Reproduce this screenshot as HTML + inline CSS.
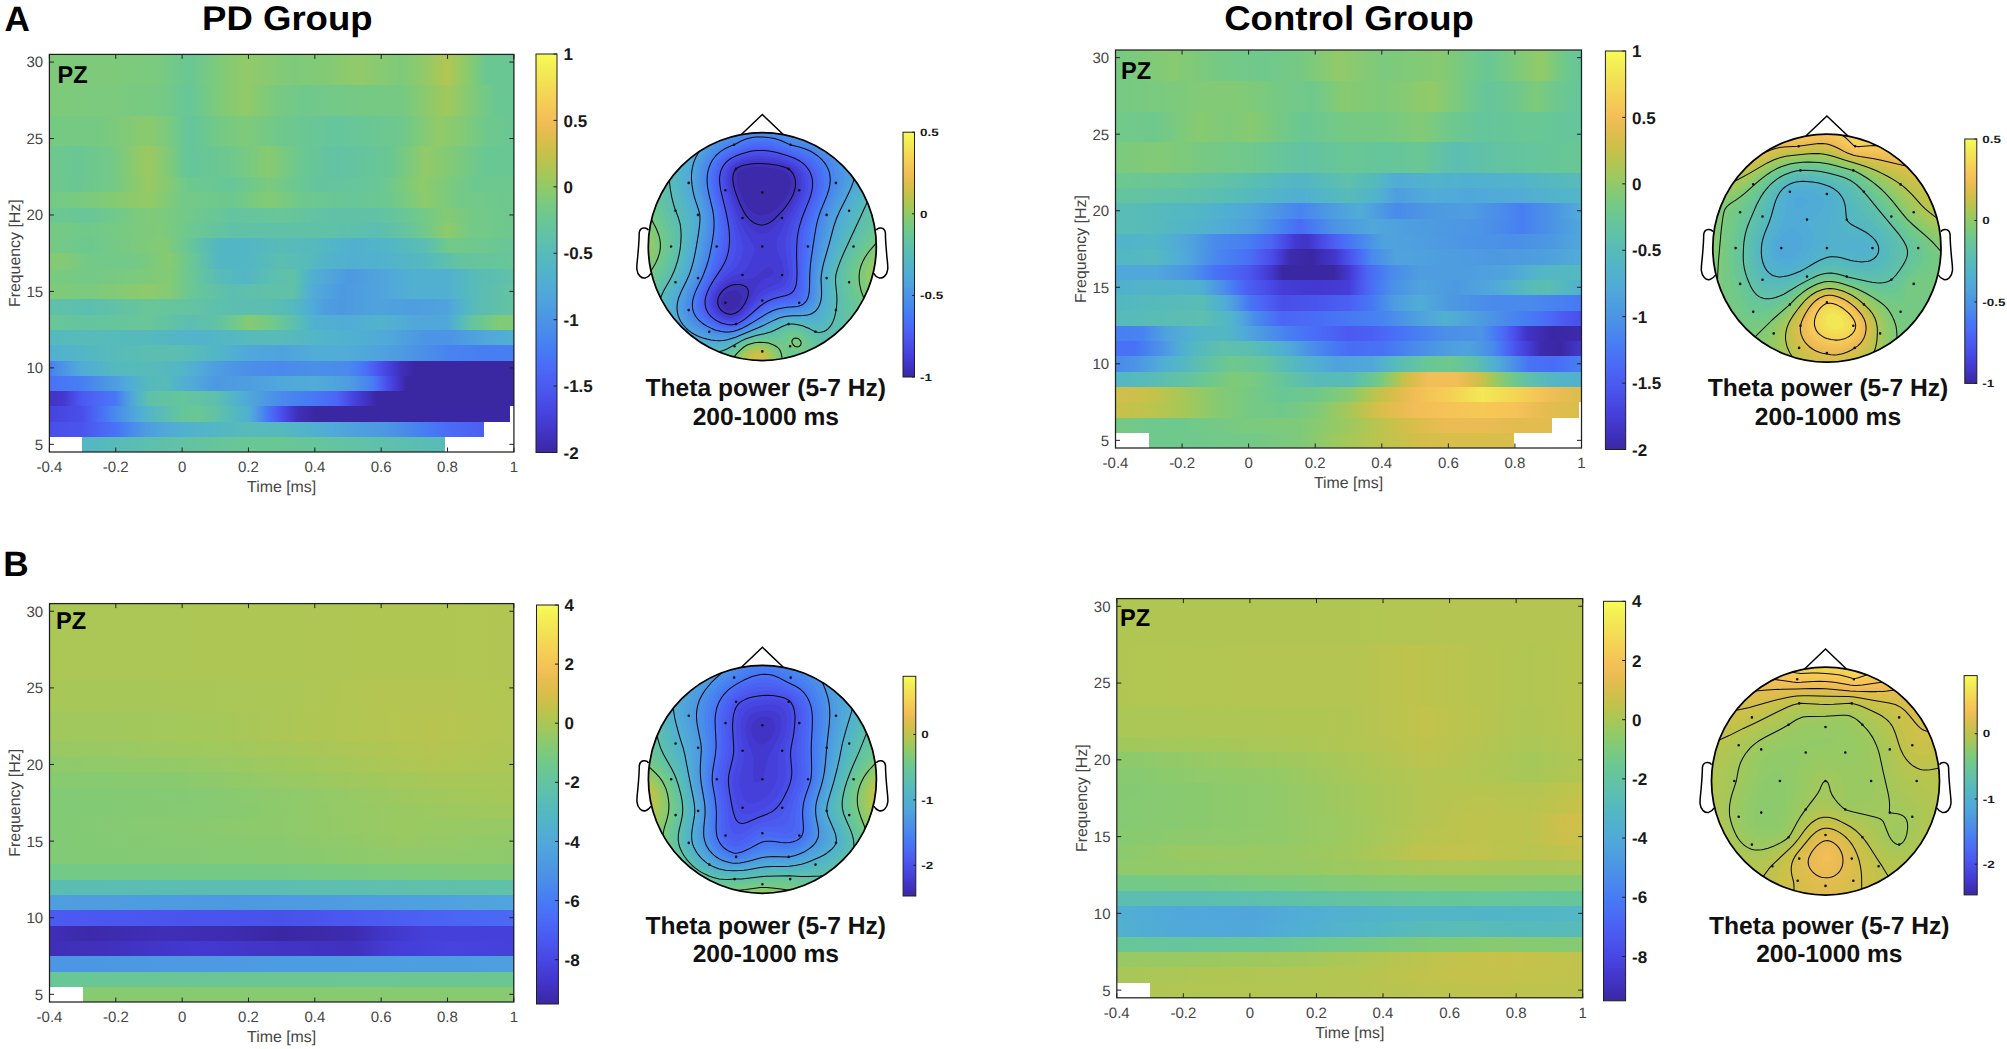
<!DOCTYPE html>
<html lang="en"><head><meta charset="utf-8"><title>Figure</title><style>
html,body{margin:0;padding:0;background:#fff;overflow:hidden}
#fig{position:relative;width:2007px;height:1049px;overflow:hidden;background:#fff;font-family:"Liberation Sans", Arial, Helvetica, sans-serif}
.r{position:absolute}
svg{position:absolute;left:0;top:0}
text{font-family:"Liberation Sans", Arial, Helvetica, sans-serif;text-rendering:geometricPrecision}
.tk{font-size:15px;fill:#454545}
.al{font-size:15.9px;fill:#454545}
.pz{font-size:24.4px;font-weight:bold;fill:#000}
.cl{font-size:17px;font-weight:bold;fill:#1a1a1a}
.cs{font-size:10.5px;font-weight:bold;fill:#1a1a1a}
.big{font-size:34.3px;font-weight:bold;fill:#000}
.pl{font-size:35.2px;font-weight:bold;fill:#000}
.th{font-size:24.6px;font-weight:bold;fill:#111}
</style></head><body><div id="fig">
<div class="r" style="left:49.40px;top:436.71px;width:464.50px;height:15.59px;background:linear-gradient(90deg,#ffffff 0.00%,#ffffff 7.16%,#53b6c5 7.17%,#58bbb8 14.32%,#5dbfae 21.46%,#62c2a4 28.59%,#69c794 42.86%,#69c794 49.87%,#65c59c 57.14%,#5fc0ab 71.41%,#58bbb8 85.16%,#ffffff 85.16%,#ffffff 100.00%)"></div>
<div class="r" style="left:49.40px;top:421.42px;width:464.50px;height:15.59px;background:linear-gradient(90deg,#494fe9 0.00%,#4a54ed 7.16%,#4b5ef2 9.55%,#4b68f5 11.94%,#4872f6 14.32%,#477ff2 16.10%,#4a8aec 17.88%,#4c94e5 19.65%,#4e9edf 21.43%,#50a5dc 23.82%,#51aad7 26.21%,#51b0d0 28.59%,#53b6c5 35.76%,#58bbb8 42.86%,#55b9be 50.03%,#52b5c8 53.58%,#51b0d0 57.14%,#51aad8 60.72%,#4fa3dd 64.30%,#4d99e1 71.41%,#4b8fe8 74.99%,#4884f0 78.57%,#467df3 80.94%,#4874f6 83.31%,#4a6cf6 85.68%,#4b60f3 92.84%,#4b60f3 93.46%,#ffffff 93.47%,#ffffff 100.00%)"></div>
<div class="r" style="left:49.40px;top:406.12px;width:464.50px;height:15.59px;background:linear-gradient(90deg,#4643de 0.00%,#494fe9 7.16%,#4b5af0 8.59%,#4b66f4 10.03%,#4872f6 11.46%,#477ff2 12.89%,#4a8aec 14.32%,#4b93e6 15.51%,#4d9be0 16.69%,#4fa3dd 17.88%,#51aad7 19.06%,#51b1cf 20.25%,#53b6c5 21.43%,#58bbb8 23.82%,#5fc0ab 26.21%,#65c59c 28.59%,#69c794 31.71%,#62c2a4 35.76%,#5cbeb0 37.53%,#56babb 39.31%,#52b5c6 41.09%,#51b0d0 42.86%,#50a9d9 43.49%,#4fa1de 44.12%,#4d99e2 44.75%,#4b90e7 45.39%,#4987ee 46.02%,#467df3 46.65%,#4872f6 47.28%,#4b69f5 47.96%,#4b60f3 48.65%,#4b57ef 49.34%,#494fe9 50.03%,#4643de 51.18%,#4338cf 52.34%,#3f30b9 53.50%,#3a27a2 57.14%,#3a27a2 99.17%,#ffffff 99.17%,#ffffff 100.00%)"></div>
<div class="r" style="left:49.40px;top:390.83px;width:464.50px;height:15.59px;background:linear-gradient(90deg,#4134c5 0.00%,#4338cf 3.17%,#4640db 4.16%,#4849e4 5.16%,#4a52eb 6.16%,#4b5af0 7.16%,#4b64f4 9.55%,#4a6ef6 11.94%,#4778f4 14.32%,#4883f0 15.06%,#4b8de9 15.79%,#4c97e3 16.53%,#4fa0de 17.26%,#50a8d9 18.00%,#51b0d0 18.73%,#53b6c5 19.63%,#58bbb8 20.53%,#5fc0ab 21.43%,#65c59c 28.59%,#5fc0ab 35.76%,#58bbb8 37.53%,#53b6c5 39.31%,#51b0d0 41.09%,#50a8da 42.86%,#4fa1de 44.65%,#4d99e1 46.45%,#4b92e6 48.24%,#4a8aec 50.03%,#4781f1 53.58%,#4778f4 57.14%,#496ff6 59.47%,#4b66f4 61.81%,#4b5df2 62.71%,#4a54ed 63.62%,#484ce7 64.53%,#4643de 65.44%,#443bd3 66.74%,#4134c5 68.03%,#3e2db4 69.33%,#3a27a2 70.63%,#3a27a2 100.00%)"></div>
<div class="r" style="left:49.40px;top:375.54px;width:464.50px;height:15.59px;background:linear-gradient(90deg,#4872f6 0.00%,#477ff2 7.16%,#4a8aec 9.55%,#4c94e5 11.94%,#4e9edf 14.32%,#50a6db 16.10%,#51aed3 17.88%,#52b4c9 19.65%,#55b9be 21.43%,#58bbb8 24.96%,#53b6c5 26.78%,#51b0d0 28.59%,#51a9d8 30.98%,#4fa1dd 33.37%,#4d99e1 35.76%,#4e9edf 42.86%,#50a8da 50.03%,#51acd6 57.14%,#50a5db 60.72%,#4e9edf 64.30%,#4c94e5 66.06%,#4a8aec 67.83%,#477ff2 69.59%,#4875f5 70.21%,#4b6bf5 70.84%,#4b61f3 71.46%,#4b58ef 72.08%,#494fe9 72.70%,#4643de 73.74%,#4338cf 74.78%,#3f30b9 75.82%,#3a27a2 76.86%,#3a27a2 100.00%)"></div>
<div class="r" style="left:49.40px;top:360.25px;width:464.50px;height:15.59px;background:linear-gradient(90deg,#477ff2 0.00%,#4a8aec 1.58%,#4c94e5 3.17%,#4e9de0 4.50%,#50a5dc 5.83%,#51acd6 7.16%,#52b3cb 10.74%,#55b9be 14.32%,#58bbb8 21.43%,#53b6c5 28.59%,#52b1ce 30.38%,#51acd6 32.17%,#50a5db 33.96%,#4e9edf 35.76%,#4c97e3 39.31%,#4b8fe8 42.86%,#4a8aec 50.03%,#4b8fe8 57.14%,#4a8aec 64.30%,#477ff2 66.17%,#4872f6 68.03%,#4b69f5 68.88%,#4b60f3 69.72%,#4b57ef 70.56%,#494fe9 71.41%,#4643de 72.88%,#4338cf 74.35%,#3f30b9 75.82%,#3a27a2 78.57%,#3a27a2 100.00%)"></div>
<div class="r" style="left:49.40px;top:344.95px;width:464.50px;height:15.59px;background:linear-gradient(90deg,#51b0d0 0.00%,#53b6c5 7.16%,#58bbb8 14.32%,#5bbeb1 21.43%,#5bbeb1 28.59%,#56babb 32.17%,#53b6c5 35.76%,#52b2cd 38.12%,#51add4 40.49%,#50a8da 42.86%,#4fa3dd 50.03%,#51acd6 57.14%,#51acd6 64.30%,#4fa3dd 71.41%,#4e9ce0 74.99%,#4c94e5 78.57%,#4a8cea 82.12%,#4884f0 85.68%,#477ff2 92.84%,#477ff2 100.00%)"></div>
<div class="r" style="left:49.40px;top:329.66px;width:464.50px;height:15.59px;background:linear-gradient(90deg,#55b9be 0.00%,#58bbb8 8.35%,#55b9be 21.33%,#52b3cb 31.71%,#54b7c2 38.19%,#58bbb8 44.68%,#58bbb8 49.87%,#53b6c5 57.14%,#51b0d0 65.44%,#50a8da 73.22%,#4e9edf 77.11%,#4c94e5 81.01%,#4c94e5 86.20%,#4e9edf 90.09%,#50a8da 93.98%,#51b0d0 100.00%)"></div>
<div class="r" style="left:49.40px;top:314.37px;width:464.50px;height:15.59px;background:linear-gradient(90deg,#68c698 0.00%,#64c49f 8.35%,#68c698 21.33%,#62c2a5 25.74%,#5bbeb1 30.15%,#61c1a7 35.76%,#68c698 38.12%,#73c987 40.49%,#84ca74 42.86%,#73c987 47.79%,#68c698 49.87%,#61c1a7 51.95%,#5bbeb2 53.24%,#55babd 54.54%,#52b5c7 55.84%,#51b0d0 57.14%,#51acd6 64.30%,#52b3cb 71.41%,#51aed3 74.99%,#50a8da 78.57%,#50a8da 85.68%,#51afd1 86.72%,#53b6c6 87.75%,#57bbba 88.79%,#5ebfad 89.83%,#64c49f 90.87%,#6ac793 92.77%,#74c986 94.67%,#80ca78 96.57%,#80ca78 100.00%)"></div>
<div class="r" style="left:49.40px;top:299.08px;width:464.50px;height:15.59px;background:linear-gradient(90deg,#61c1a7 0.00%,#5bbeb1 8.35%,#62c2a5 14.84%,#68c698 21.33%,#64c49f 29.11%,#60c1a9 34.30%,#5bbeb1 39.49%,#5bbeb1 47.28%,#55b9be 52.46%,#52b4c9 54.15%,#51aed3 55.84%,#50a6db 57.52%,#4e9edf 59.21%,#4d99e1 62.84%,#4fa3dd 70.63%,#4e9edf 78.41%,#4fa3dd 85.68%,#51abd7 87.10%,#52b1ce 88.53%,#53b7c3 89.96%,#58bbb8 91.39%,#5ebfac 95.69%,#64c49f 100.00%)"></div>
<div class="r" style="left:49.40px;top:283.78px;width:464.50px;height:15.59px;background:linear-gradient(90deg,#80ca78 0.00%,#7bca7e 8.35%,#8eca6b 21.33%,#84ca74 26.00%,#73c987 28.59%,#68c698 31.19%,#62c2a5 35.34%,#5bbeb1 39.49%,#61c1a7 47.28%,#61c1a7 52.46%,#5abdb3 53.50%,#54b8c0 54.54%,#52b3cb 55.58%,#51acd6 56.62%,#4fa3dd 59.73%,#4d99e1 62.84%,#4fa3dd 70.63%,#51aad8 74.52%,#51b0d0 78.41%,#51b0d0 85.68%,#53b6c5 88.53%,#58bbb8 91.39%,#5ebfac 95.69%,#64c49f 100.00%)"></div>
<div class="r" style="left:49.40px;top:268.49px;width:464.50px;height:15.59px;background:linear-gradient(90deg,#7bca7e 0.00%,#73c987 8.35%,#7bca7e 18.73%,#84ca74 26.00%,#73c987 28.59%,#68c698 31.19%,#63c2a3 33.09%,#5dbfae 34.99%,#58bbb8 36.90%,#53b6c5 42.09%,#56babb 44.68%,#5bbeb1 47.28%,#61c1a7 52.46%,#5bbeb2 53.50%,#55babd 54.54%,#52b5c7 55.58%,#51b0d0 56.62%,#51a9d8 59.21%,#4fa1dd 61.81%,#4d99e1 64.40%,#4fa3dd 70.63%,#51aad8 74.52%,#51b0d0 78.41%,#51b0d0 85.68%,#53b6c5 88.53%,#58bbb8 91.39%,#5cbeb0 95.69%,#61c1a7 100.00%)"></div>
<div class="r" style="left:49.40px;top:253.20px;width:464.50px;height:15.59px;background:linear-gradient(90deg,#84ca74 0.00%,#84ca74 3.17%,#73c987 8.35%,#73c987 18.73%,#7dca7c 22.37%,#87ca70 26.00%,#7aca7e 27.73%,#6fc88b 29.46%,#68c698 31.19%,#62c2a4 32.62%,#5cbeb0 34.04%,#56baba 35.47%,#53b6c5 36.90%,#53b6c5 42.09%,#56babb 45.98%,#5bbeb1 49.87%,#58bbb8 55.06%,#54b7c2 57.65%,#52b3cb 60.25%,#51b0d0 65.44%,#52b3cb 73.22%,#55b9be 81.01%,#59bdb5 83.60%,#5fc0aa 86.20%,#64c49f 88.79%,#68c698 100.00%)"></div>
<div class="r" style="left:49.40px;top:237.91px;width:464.50px;height:15.59px;background:linear-gradient(90deg,#76c983 0.00%,#6dc88f 8.35%,#7bca7e 18.73%,#84ca74 24.96%,#73c987 27.56%,#68c698 30.15%,#62c2a4 31.84%,#5cbeb0 33.52%,#56baba 35.21%,#53b6c5 36.90%,#53b6c5 42.09%,#58bbb8 49.87%,#55b9be 57.65%,#52b5c8 61.55%,#51b0d0 65.44%,#53b6c5 73.22%,#56babb 77.11%,#5bbeb1 81.01%,#62c2a5 82.74%,#68c697 84.47%,#73c987 86.20%,#68c698 100.00%)"></div>
<div class="r" style="left:49.40px;top:222.62px;width:464.50px;height:15.59px;background:linear-gradient(90deg,#76c983 0.00%,#70c98a 8.35%,#80ca78 23.92%,#76c984 27.04%,#6dc88f 30.15%,#66c59c 34.82%,#61c1a7 39.49%,#61c1a7 49.87%,#61c1a7 60.25%,#5bbeb1 70.63%,#62c2a5 74.52%,#68c698 78.41%,#71c98a 80.83%,#7eca7a 83.26%,#8eca6b 85.68%,#7fca79 88.53%,#73c987 91.39%,#6dc88f 100.00%)"></div>
<div class="r" style="left:49.40px;top:207.32px;width:464.50px;height:15.59px;background:linear-gradient(90deg,#6dc88f 0.00%,#68c698 8.35%,#72c989 14.84%,#80ca78 21.33%,#73c987 29.11%,#6ac794 34.30%,#64c49f 39.49%,#68c698 49.87%,#61c1a7 60.25%,#61c1a7 70.63%,#66c59c 74.52%,#6dc88f 78.41%,#77ca82 82.04%,#84ca74 85.68%,#73c987 91.39%,#6dc88f 100.00%)"></div>
<div class="r" style="left:49.40px;top:192.03px;width:464.50px;height:15.59px;background:linear-gradient(90deg,#73c987 0.00%,#7bca7e 8.35%,#86ca71 14.84%,#94ca66 21.33%,#82ca76 25.22%,#73c987 29.11%,#6dc88f 39.49%,#77ca82 43.38%,#84ca74 47.28%,#77ca82 51.17%,#6dc88f 55.06%,#68c698 65.44%,#6dc88f 73.22%,#7bca7e 77.11%,#8eca6b 81.01%,#7fca79 84.90%,#73c987 88.79%,#6dc88f 100.00%)"></div>
<div class="r" style="left:49.40px;top:176.74px;width:464.50px;height:15.59px;background:linear-gradient(90deg,#6fc88c 0.00%,#6ac793 5.76%,#73c987 13.54%,#84ca74 17.44%,#98c963 21.33%,#84ca74 26.00%,#77ca82 28.07%,#6dc88f 30.15%,#68c698 39.49%,#70c88b 43.38%,#7bca7e 47.28%,#6dc88f 52.46%,#64c49f 57.65%,#68c698 70.63%,#71c98a 73.74%,#7eca7a 76.86%,#8eca6b 79.97%,#7bca7e 86.20%,#6dc88f 91.39%,#6dc88f 100.00%)"></div>
<div class="r" style="left:49.40px;top:161.45px;width:464.50px;height:15.59px;background:linear-gradient(90deg,#6fc88c 0.00%,#69c794 5.76%,#73c987 13.54%,#7fca79 16.14%,#8dca6c 18.73%,#9cc95f 21.33%,#8dca6c 23.66%,#7eca7a 26.00%,#6fc88c 28.07%,#65c59c 30.15%,#6fc88c 39.49%,#7aca7f 43.38%,#87ca70 47.28%,#76c983 51.17%,#69c794 55.06%,#62c2a4 61.81%,#69c794 73.22%,#74c986 75.82%,#81ca77 78.41%,#92ca68 81.01%,#7eca7a 87.23%,#73c988 90.61%,#69c794 93.98%,#69c794 100.00%)"></div>
<div class="r" style="left:49.40px;top:146.15px;width:464.50px;height:15.59px;background:linear-gradient(90deg,#6fc88c 0.00%,#69c794 5.76%,#73c987 13.54%,#7fca79 16.14%,#8dca6c 18.73%,#9cc95f 21.33%,#8dca6c 23.66%,#7eca7a 26.00%,#6fc88c 28.07%,#65c59c 30.15%,#6fc88c 39.49%,#7aca7f 43.38%,#87ca70 47.28%,#76c983 51.17%,#69c794 55.06%,#62c2a4 61.81%,#69c794 73.22%,#74c986 75.82%,#81ca77 78.41%,#92ca68 81.01%,#7eca7a 87.23%,#73c988 90.61%,#69c794 93.98%,#69c794 100.00%)"></div>
<div class="r" style="left:49.40px;top:130.86px;width:464.50px;height:15.59px;background:linear-gradient(90deg,#76c983 0.00%,#76c983 10.95%,#8bca6d 21.33%,#79ca80 26.00%,#6dc88f 28.07%,#65c59c 30.15%,#6bc792 33.26%,#73c987 36.38%,#7eca7a 42.09%,#6fc88c 49.87%,#65c59c 61.81%,#6fc88c 75.82%,#7eca7a 79.71%,#92ca68 83.60%,#84ca74 88.79%,#79ca80 91.39%,#6fc88c 93.98%,#69c794 100.00%)"></div>
<div class="r" style="left:49.40px;top:115.57px;width:464.50px;height:15.59px;background:linear-gradient(90deg,#76c983 0.00%,#76c983 10.95%,#8bca6d 21.33%,#79ca80 26.00%,#6dc88f 28.07%,#65c59c 30.15%,#6bc792 33.26%,#73c987 36.38%,#7eca7a 42.09%,#6fc88c 49.87%,#65c59c 61.81%,#6fc88c 75.82%,#7eca7a 79.71%,#92ca68 83.60%,#84ca74 88.79%,#79ca80 91.39%,#6fc88c 93.98%,#69c794 100.00%)"></div>
<div class="r" style="left:49.40px;top:100.28px;width:464.50px;height:15.59px;background:linear-gradient(90deg,#7eca7a 0.00%,#7bca7e 13.54%,#76c983 23.92%,#6ec88e 27.04%,#68c698 30.15%,#71c989 33.26%,#7eca7a 36.38%,#92ca68 42.09%,#83ca75 45.98%,#76c983 49.87%,#6fc88c 55.06%,#76c983 66.48%,#76c983 75.82%,#8bca6d 81.01%,#a1c85c 85.68%,#92ca68 88.01%,#84ca74 90.35%,#75c985 93.46%,#69c794 96.57%,#69c794 100.00%)"></div>
<div class="r" style="left:49.40px;top:84.98px;width:464.50px;height:15.59px;background:linear-gradient(90deg,#7eca7a 0.00%,#7bca7e 13.54%,#76c983 23.92%,#6ec88e 27.04%,#68c698 30.15%,#71c989 33.26%,#7eca7a 36.38%,#92ca68 42.09%,#83ca75 45.98%,#76c983 49.87%,#6fc88c 55.06%,#76c983 66.48%,#76c983 75.82%,#8bca6d 81.01%,#a1c85c 85.68%,#92ca68 88.01%,#84ca74 90.35%,#75c985 93.46%,#69c794 96.57%,#69c794 100.00%)"></div>
<div class="r" style="left:49.40px;top:69.69px;width:464.50px;height:15.59px;background:linear-gradient(90deg,#7eca7a 0.00%,#7eca7a 13.54%,#79ca80 23.92%,#69c794 30.15%,#73c988 33.26%,#7eca7a 36.38%,#92ca68 42.09%,#7eca7a 52.46%,#84ca74 60.25%,#92ca68 66.48%,#7eca7a 75.82%,#92ca68 81.01%,#a2c85c 83.34%,#b2c652 85.68%,#9cc95f 88.01%,#87ca70 90.35%,#78ca81 92.16%,#6bc791 93.98%,#69c794 100.00%)"></div>
<div class="r" style="left:49.40px;top:54.40px;width:464.50px;height:15.59px;background:linear-gradient(90deg,#7eca7a 0.00%,#7eca7a 13.54%,#79ca80 23.92%,#69c794 30.15%,#73c988 33.26%,#7eca7a 36.38%,#92ca68 42.09%,#7eca7a 52.46%,#84ca74 60.25%,#92ca68 66.48%,#7eca7a 75.82%,#92ca68 81.01%,#a2c85c 83.34%,#b2c652 85.68%,#9cc95f 88.01%,#87ca70 90.35%,#78ca81 92.16%,#6bc791 93.98%,#69c794 100.00%)"></div>
<div class="r" style="left:1115.50px;top:432.69px;width:466.00px;height:15.61px;background:linear-gradient(90deg,#ffffff 0.00%,#ffffff 7.15%,#6fc88c 7.16%,#6fc88c 14.31%,#72c989 28.56%,#7eca7a 39.45%,#8dca6c 43.34%,#9cc95f 47.23%,#adc755 52.18%,#bdc44d 57.13%,#d1bf4a 64.28%,#dabe4b 71.44%,#dabe4b 78.59%,#dabe4b 85.33%,#ffffff 85.33%,#ffffff 100.00%)"></div>
<div class="r" style="left:1115.50px;top:417.38px;width:466.00px;height:15.61px;background:linear-gradient(90deg,#76c983 0.00%,#6fc88c 7.15%,#6fc88c 14.31%,#7bca7e 28.56%,#7eca7a 39.45%,#8dca6c 44.63%,#9cc95f 49.82%,#adc755 53.47%,#bdc44d 57.13%,#ccc04a 60.71%,#dabe4b 64.28%,#ebbc54 71.44%,#ebbc54 78.59%,#e3bc4f 85.69%,#e3bc4f 93.62%,#ffffff 93.63%,#ffffff 100.00%)"></div>
<div class="r" style="left:1115.50px;top:402.08px;width:466.00px;height:15.61px;background:linear-gradient(90deg,#c7c14a 0.00%,#bdc44d 7.15%,#a7c758 14.31%,#97c964 17.86%,#87ca70 21.41%,#76c983 28.56%,#6fc88c 35.72%,#7eca7a 42.87%,#92ca68 46.42%,#a7c758 49.97%,#b9c44f 52.36%,#cac14a 54.74%,#dabe4b 57.13%,#e7bc51 60.71%,#f1be57 64.28%,#f5c356 71.44%,#f5c955 78.59%,#f5c356 85.69%,#eebd56 89.27%,#e3bc4f 92.85%,#dabe4b 99.33%,#ffffff 99.33%,#ffffff 100.00%)"></div>
<div class="r" style="left:1115.50px;top:386.77px;width:466.00px;height:15.61px;background:linear-gradient(90deg,#d1bf4a 0.00%,#c7c14a 7.15%,#b7c54f 10.73%,#a7c758 14.31%,#97c964 17.86%,#87ca70 21.41%,#76c983 28.56%,#69c794 35.72%,#6fc88c 42.87%,#7aca7f 46.42%,#87ca70 49.97%,#9cc95f 52.36%,#b2c652 54.74%,#c7c14a 57.13%,#d7be4a 59.51%,#e5bc50 61.90%,#f1be57 64.28%,#f5c656 67.86%,#f5cf54 71.44%,#f3dc54 75.01%,#f3e855 78.59%,#f2df54 82.14%,#f4d554 85.69%,#f5c955 89.27%,#f1be57 92.85%,#e7bc51 96.42%,#dabe4b 100.00%)"></div>
<div class="r" style="left:1115.50px;top:371.46px;width:466.00px;height:15.61px;background:linear-gradient(90deg,#53b6c5 0.00%,#58bbb8 7.15%,#5dbfae 10.73%,#62c2a4 14.31%,#68c697 17.85%,#71c989 21.39%,#7eca7a 24.94%,#7bca7e 29.08%,#6ec88e 32.40%,#65c59c 35.72%,#5fc0ab 39.29%,#58bbb8 42.87%,#58bbb8 49.97%,#5fc0ab 52.00%,#65c59c 54.02%,#6fc88c 56.04%,#7eca7a 57.39%,#92ca68 58.74%,#a7c758 60.08%,#bdc44d 61.43%,#d1bf4a 62.78%,#e3bc4f 64.85%,#f1be57 66.93%,#f1be57 73.15%,#e3bc4f 75.48%,#d1bf4a 77.81%,#bdc44d 79.19%,#a7c758 80.58%,#92ca68 81.96%,#7eca7a 83.64%,#6fc88c 85.33%,#65c59c 87.01%,#5fc0ab 88.70%,#58bbb8 91.29%,#53b6c5 93.88%,#51b0d0 100.00%)"></div>
<div class="r" style="left:1115.50px;top:356.15px;width:466.00px;height:15.61px;background:linear-gradient(90deg,#4a8aec 0.00%,#4c94e5 4.20%,#4e9ce0 5.88%,#4fa3dd 7.57%,#51aad8 9.25%,#51b0d0 10.94%,#53b6c5 13.53%,#58bbb8 16.12%,#5fc0ab 18.71%,#65c59c 21.82%,#6fc88c 24.94%,#65c59c 31.67%,#5fc0ab 34.27%,#58bbb8 36.86%,#53b6c5 39.45%,#51b1cf 42.04%,#51aad7 44.63%,#4fa3dd 47.23%,#50a8da 55.00%,#51aed3 56.30%,#52b3cb 57.59%,#54b7c2 58.89%,#58bbb8 60.19%,#5ebfad 62.43%,#63c3a2 64.68%,#69c794 66.93%,#6fc88c 71.59%,#65c59c 74.44%,#5fc0ab 77.29%,#58bbb8 78.54%,#53b6c5 79.78%,#51b0d0 81.03%,#50a8da 82.27%,#4e9edf 83.51%,#4c94e5 84.81%,#4a8aec 86.11%,#477ff2 87.40%,#4872f6 88.70%,#4a6cf6 93.88%,#4875f5 96.94%,#477ff2 100.00%)"></div>
<div class="r" style="left:1115.50px;top:340.85px;width:466.00px;height:15.61px;background:linear-gradient(90deg,#4872f6 0.00%,#4872f6 4.20%,#467cf3 5.62%,#4884f0 7.05%,#4a8cea 8.48%,#4c94e5 9.90%,#4e9edf 11.46%,#50a8da 13.01%,#51b0d0 14.57%,#53b6c5 16.12%,#58bbb8 19.49%,#5fc0ab 22.86%,#5bbeb1 29.08%,#56babc 31.29%,#52b5c7 33.51%,#51b0d0 35.72%,#51a9d8 37.15%,#4fa2dd 38.58%,#4d9ae1 40.01%,#4b92e6 41.44%,#4a8aec 42.87%,#4780f1 45.24%,#4776f5 47.61%,#4a6cf6 49.97%,#4872f6 57.13%,#477ff2 60.71%,#4a8aec 64.28%,#4b91e7 66.67%,#4c98e2 69.05%,#4e9edf 71.44%,#4fa3dd 75.74%,#4d9be0 77.47%,#4b93e6 79.19%,#4a8aec 80.92%,#477ff2 81.96%,#4872f6 83.00%,#4b66f4 84.03%,#4b5af0 85.07%,#494fe9 86.11%,#4745e0 87.40%,#443bd3 88.70%,#4133c2 89.99%,#3d2bae 91.29%,#3a27a2 95.44%,#3f30b9 97.72%,#4338cf 100.00%)"></div>
<div class="r" style="left:1115.50px;top:325.54px;width:466.00px;height:15.61px;background:linear-gradient(90deg,#477ff2 0.00%,#4884f0 5.75%,#4b8fe8 7.48%,#4d99e1 9.21%,#4fa3dd 10.94%,#51aad7 13.53%,#51b1cf 16.12%,#53b6c5 18.71%,#53b6c5 23.90%,#52b1ce 25.45%,#51acd6 27.01%,#50a5db 28.56%,#4e9edf 30.12%,#4c94e5 32.37%,#4a8aec 34.61%,#477ff2 36.86%,#4875f5 39.87%,#4a6cf6 42.87%,#4b63f4 46.42%,#4b5af0 49.97%,#4b60f3 55.00%,#4a6cf6 58.89%,#4778f4 62.78%,#4884f0 66.67%,#4b8fe8 70.55%,#4c94e5 78.33%,#4a8aec 79.63%,#477ff2 80.92%,#4872f6 82.22%,#4b66f4 83.51%,#4b5bf1 84.45%,#4951eb 85.38%,#4747e2 86.31%,#443cd6 87.25%,#4134c5 88.18%,#3e2db4 91.03%,#3a27a2 93.88%,#3d2bae 100.00%)"></div>
<div class="r" style="left:1115.50px;top:310.23px;width:466.00px;height:15.61px;background:linear-gradient(90deg,#56babc 0.00%,#59bcb5 8.35%,#5dbfaf 18.71%,#58bbb8 20.79%,#54b8c1 22.86%,#52b4ca 24.94%,#51add4 25.97%,#50a5db 27.01%,#4e9de0 28.05%,#4b94e5 29.08%,#4a8aec 30.12%,#477ff2 31.99%,#4872f6 33.85%,#4b66f4 35.72%,#4a6cf6 42.87%,#4778f4 49.97%,#4884f0 57.13%,#4b8de9 59.51%,#4c96e3 61.90%,#4e9edf 64.28%,#50a5dc 66.37%,#51aad7 68.46%,#51b0d0 70.55%,#51aad8 73.15%,#4fa3dd 75.74%,#4d9be0 78.33%,#4b93e6 80.92%,#4a8aec 83.51%,#477ff2 87.40%,#4872f6 91.29%,#4b66f4 93.88%,#4b5af0 96.47%,#494fe9 100.00%)"></div>
<div class="r" style="left:1115.50px;top:294.92px;width:466.00px;height:15.61px;background:linear-gradient(90deg,#53b7c2 0.00%,#56babc 8.35%,#59bcb5 18.71%,#54b8bf 20.01%,#52b4c9 21.31%,#51afd2 22.60%,#50a8d9 23.90%,#4fa1de 24.76%,#4d98e2 25.63%,#4b90e8 26.49%,#4986ee 27.35%,#467df3 28.22%,#4872f6 29.08%,#4b69f5 30.74%,#4b60f3 32.40%,#4b57ef 34.06%,#494fe9 35.72%,#4a54ed 42.87%,#4b60f3 49.97%,#4a6cf6 52.49%,#4778f4 55.00%,#4783f0 56.30%,#4a8cea 57.59%,#4c96e4 58.89%,#4e9edf 60.19%,#50a5db 62.78%,#51acd6 65.37%,#4fa3dd 68.48%,#4d99e1 71.59%,#4b92e6 76.26%,#4a8aec 80.92%,#4a8aec 88.70%,#477ff2 96.47%,#4778f4 100.00%)"></div>
<div class="r" style="left:1115.50px;top:279.62px;width:466.00px;height:15.61px;background:linear-gradient(90deg,#51b1ce 0.00%,#52b4c8 8.35%,#51b1ce 17.68%,#51aad7 18.97%,#4fa2dd 20.27%,#4d99e1 21.57%,#4b90e7 22.86%,#4987ed 23.90%,#477ef2 24.94%,#4874f6 25.97%,#4b6af5 27.01%,#4b60f3 28.05%,#4b57ef 29.96%,#494fe9 31.88%,#4746e1 33.80%,#453dd7 35.72%,#4338cf 42.87%,#453dd7 49.97%,#4747e3 50.97%,#4a52eb 51.97%,#4b5cf1 52.97%,#4b66f4 53.97%,#4971f6 55.26%,#467cf3 56.56%,#4886ef 57.85%,#4b8fe8 59.15%,#4c96e3 61.22%,#4e9de0 63.30%,#4fa3dd 65.37%,#4d99e1 73.15%,#4fa1de 77.03%,#50a8da 80.92%,#51aed3 82.87%,#52b3cb 84.81%,#54b7c2 86.75%,#58bbb8 88.70%,#5bbeb1 92.85%,#56babc 95.23%,#52b5c7 97.62%,#51b0d0 100.00%)"></div>
<div class="r" style="left:1115.50px;top:264.31px;width:466.00px;height:15.61px;background:linear-gradient(90deg,#50a8da 0.00%,#50a8da 8.35%,#4e9edf 12.23%,#4c94e5 16.12%,#4a8cea 17.42%,#4884f0 18.71%,#467cf3 20.01%,#4872f6 21.31%,#4b66f4 24.68%,#4b5af0 28.05%,#4a52eb 29.34%,#4849e4 30.64%,#4640db 31.93%,#4338cf 33.23%,#3f30b9 34.47%,#3a27a2 35.72%,#3a27a2 46.71%,#3f30b9 48.34%,#4338cf 49.97%,#4641dc 50.77%,#484ae5 51.57%,#4a53ec 52.37%,#4b5cf1 53.17%,#4b66f4 53.97%,#4872f6 55.69%,#477ff2 57.42%,#4a8aec 59.15%,#4b91e7 61.22%,#4c98e2 63.30%,#4e9edf 65.37%,#4e9edf 75.74%,#4fa3dd 83.51%,#51aad7 86.11%,#51b1cf 88.70%,#53b6c5 91.29%,#55b9be 100.00%)"></div>
<div class="r" style="left:1115.50px;top:249.00px;width:466.00px;height:15.61px;background:linear-gradient(90deg,#53b7c4 0.00%,#55b9bd 8.35%,#52b4ca 10.94%,#51add5 13.53%,#4fa4dc 16.12%,#4d9be0 17.85%,#4b92e6 19.58%,#4988ed 21.31%,#477df3 24.68%,#4872f6 28.05%,#4b69f5 29.34%,#4b60f3 30.64%,#4b57ef 31.93%,#494fe9 33.23%,#4745e0 34.27%,#443bd3 35.30%,#4133c2 36.34%,#3d2bae 37.38%,#3a27a2 42.04%,#3f30b9 44.63%,#4338cf 47.23%,#4642dd 48.26%,#484ce7 49.30%,#4a56ee 50.34%,#4b60f3 51.37%,#4b6af5 52.28%,#4875f5 53.19%,#4780f2 54.10%,#4a8aec 55.00%,#4b93e6 56.73%,#4d9be0 58.46%,#4fa3dd 60.19%,#4e9edf 70.55%,#4d99e1 80.92%,#4e9edf 91.29%,#50a5db 95.65%,#51acd6 100.00%)"></div>
<div class="r" style="left:1115.50px;top:233.69px;width:466.00px;height:15.61px;background:linear-gradient(90deg,#52b3cb 0.00%,#53b6c5 8.35%,#51b1cf 10.94%,#51aad7 13.53%,#4fa3dd 16.12%,#4d9be0 17.85%,#4b93e6 19.58%,#4a8aec 21.31%,#477ff2 28.05%,#4872f6 30.64%,#4b66f4 33.23%,#4b5cf1 34.27%,#4a53ec 35.30%,#484ae5 36.34%,#4641dc 37.38%,#4338cf 38.41%,#4134c5 41.01%,#443cd6 42.30%,#4746e1 43.60%,#4950ea 44.89%,#4b5af0 46.19%,#4b63f4 47.49%,#4a6cf6 48.78%,#4875f5 50.08%,#477ff2 51.37%,#4988ed 52.93%,#4b92e6 54.48%,#4d9be1 56.04%,#4fa3dd 57.59%,#4e9edf 65.37%,#4c94e5 75.74%,#4b8fe8 86.11%,#4d99e1 93.88%,#4fa1de 96.94%,#50a8da 100.00%)"></div>
<div class="r" style="left:1115.50px;top:218.38px;width:466.00px;height:15.61px;background:linear-gradient(90deg,#5abdb4 0.00%,#56babb 8.35%,#53b6c4 13.53%,#52b2cd 18.71%,#51aad7 23.90%,#4fa1de 29.08%,#4c98e2 31.16%,#4b8de9 33.23%,#4783f0 35.30%,#4777f5 37.38%,#4b6bf5 39.45%,#4776f5 41.39%,#4781f1 43.34%,#4a8beb 45.28%,#4c94e5 47.23%,#4e9edf 51.11%,#50a8da 55.00%,#4e9edf 62.78%,#4d99e1 70.55%,#4c94e5 78.33%,#4a8aec 82.74%,#477ff2 87.14%,#4a8aec 90.51%,#4c94e5 93.88%,#4e9edf 96.94%,#50a8da 100.00%)"></div>
<div class="r" style="left:1115.50px;top:203.08px;width:466.00px;height:15.61px;background:linear-gradient(90deg,#5abdb4 0.00%,#56babb 8.35%,#52b5c7 18.71%,#51aed3 23.90%,#50a6db 29.08%,#4e9edf 31.67%,#4c95e4 34.27%,#4a8cea 36.86%,#4883f0 39.45%,#4a8dea 42.04%,#4c96e4 44.63%,#4e9edf 47.23%,#50a5db 49.82%,#51acd6 52.41%,#4fa4dc 54.35%,#4e9ce0 56.30%,#4b93e5 58.24%,#4a8aec 60.19%,#4b92e6 64.07%,#4d99e1 67.96%,#4e9edf 75.74%,#4c94e5 79.54%,#4a8aec 83.34%,#477ff2 87.14%,#4a8aec 90.51%,#4c94e5 93.88%,#4e9de0 95.92%,#50a5dc 97.96%,#51acd6 100.00%)"></div>
<div class="r" style="left:1115.50px;top:187.77px;width:466.00px;height:15.61px;background:linear-gradient(90deg,#64c49f 0.00%,#61c1a7 13.53%,#5abdb4 23.90%,#55b9be 29.08%,#52b4c8 34.27%,#51afd2 39.45%,#52b4ca 42.91%,#54b8c1 46.36%,#58bbb8 49.82%,#54b7c2 52.93%,#52b3cb 56.04%,#51add4 57.42%,#50a6db 58.80%,#4e9edf 60.19%,#50a5db 64.07%,#51acd6 67.96%,#50a8da 75.74%,#51acd6 86.11%,#52b3cb 93.88%,#53b6c5 100.00%)"></div>
<div class="r" style="left:1115.50px;top:172.46px;width:466.00px;height:15.61px;background:linear-gradient(90deg,#6dc88f 0.00%,#68c698 13.53%,#61c1a7 23.90%,#5bbeb1 29.08%,#56babc 34.27%,#53b5c6 39.45%,#55b9bd 42.91%,#5abdb4 46.36%,#5fc0ab 49.82%,#59bcb5 52.93%,#55b9be 56.04%,#52b3cb 58.11%,#51acd6 60.19%,#52b3cb 67.96%,#51b0d0 75.74%,#52b3cb 86.11%,#55b9be 93.88%,#58bbb8 100.00%)"></div>
<div class="r" style="left:1115.50px;top:157.15px;width:466.00px;height:15.61px;background:linear-gradient(90deg,#7bca7e 0.00%,#82ca76 9.38%,#76c983 18.71%,#6fc88c 29.08%,#67c699 34.78%,#62c2a4 40.49%,#69c794 49.82%,#65c59c 57.59%,#69c794 65.37%,#62c2a4 69.26%,#5bbeb1 73.15%,#62c2a4 80.92%,#65c59c 88.70%,#69c794 100.00%)"></div>
<div class="r" style="left:1115.50px;top:141.85px;width:466.00px;height:15.61px;background:linear-gradient(90deg,#7bca7e 0.00%,#82ca76 9.38%,#76c983 18.71%,#6fc88c 29.08%,#67c699 34.78%,#62c2a4 40.49%,#69c794 49.82%,#65c59c 57.59%,#69c794 65.37%,#62c2a4 69.26%,#5bbeb1 73.15%,#62c2a4 80.92%,#65c59c 88.70%,#69c794 100.00%)"></div>
<div class="r" style="left:1115.50px;top:126.54px;width:466.00px;height:15.61px;background:linear-gradient(90deg,#72c989 0.00%,#6fc88c 8.35%,#7aca7f 13.01%,#87ca70 17.68%,#7eca7a 23.90%,#87ca70 29.08%,#76c983 34.27%,#69c794 40.49%,#76c983 49.82%,#76c983 57.59%,#82ca76 65.37%,#78ca81 68.48%,#6fc88c 71.59%,#65c59c 78.33%,#69c794 88.70%,#65c59c 100.00%)"></div>
<div class="r" style="left:1115.50px;top:111.23px;width:466.00px;height:15.61px;background:linear-gradient(90deg,#72c989 0.00%,#6fc88c 8.35%,#7aca7f 13.01%,#87ca70 17.68%,#7eca7a 23.90%,#87ca70 29.08%,#76c983 34.27%,#69c794 40.49%,#76c983 49.82%,#76c983 57.59%,#82ca76 65.37%,#78ca81 68.48%,#6fc88c 71.59%,#65c59c 78.33%,#69c794 88.70%,#65c59c 100.00%)"></div>
<div class="r" style="left:1115.50px;top:95.92px;width:466.00px;height:15.61px;background:linear-gradient(90deg,#76c983 0.00%,#7bca7e 10.94%,#82ca76 18.71%,#82ca76 26.49%,#76c983 34.27%,#6fc88c 42.04%,#7aca7f 45.41%,#87ca70 48.78%,#7eca7a 57.59%,#92ca68 67.96%,#7bca7e 73.15%,#6ec88e 76.52%,#65c59c 79.89%,#6fc88c 86.11%,#7eca7a 90.25%,#6fc88c 93.88%,#65c59c 100.00%)"></div>
<div class="r" style="left:1115.50px;top:80.62px;width:466.00px;height:15.61px;background:linear-gradient(90deg,#76c983 0.00%,#7bca7e 10.94%,#82ca76 18.71%,#82ca76 26.49%,#76c983 34.27%,#6fc88c 42.04%,#7aca7f 45.41%,#87ca70 48.78%,#7eca7a 57.59%,#92ca68 67.96%,#7bca7e 73.15%,#6ec88e 76.52%,#65c59c 79.89%,#6fc88c 86.11%,#7eca7a 90.25%,#6fc88c 93.88%,#65c59c 100.00%)"></div>
<div class="r" style="left:1115.50px;top:65.31px;width:466.00px;height:15.61px;background:linear-gradient(90deg,#76c983 0.00%,#87ca70 12.49%,#76c983 21.31%,#6fc88c 31.67%,#76c983 39.45%,#83ca75 43.60%,#92ca68 47.74%,#7bca7e 57.59%,#87ca70 69.52%,#76c983 74.70%,#69c794 79.89%,#73c988 83.00%,#7eca7a 86.11%,#92ca68 91.29%,#7eca7a 93.88%,#6fc88c 96.47%,#65c59c 100.00%)"></div>
<div class="r" style="left:1115.50px;top:50.00px;width:466.00px;height:15.61px;background:linear-gradient(90deg,#76c983 0.00%,#87ca70 12.49%,#76c983 21.31%,#6fc88c 31.67%,#76c983 39.45%,#83ca75 43.60%,#92ca68 47.74%,#7bca7e 57.59%,#87ca70 69.52%,#76c983 74.70%,#69c794 79.89%,#73c988 83.00%,#7eca7a 86.11%,#92ca68 91.29%,#7eca7a 93.88%,#6fc88c 96.47%,#65c59c 100.00%)"></div>
<div class="r" style="left:49.50px;top:986.68px;width:464.30px;height:15.62px;background:linear-gradient(90deg,#ffffff 0.00%,#ffffff 7.16%,#87ca70 7.17%,#87ca70 100.00%)"></div>
<div class="r" style="left:49.50px;top:971.35px;width:464.30px;height:15.62px;background:linear-gradient(90deg,#69c696 0.00%,#6bc791 100.00%)"></div>
<div class="r" style="left:49.50px;top:956.03px;width:464.30px;height:15.62px;background:linear-gradient(90deg,#4c96e3 0.00%,#4d9be1 49.87%,#4e9fde 100.00%)"></div>
<div class="r" style="left:49.50px;top:940.71px;width:464.30px;height:15.62px;background:linear-gradient(90deg,#3f2fb7 0.00%,#4031be 13.54%,#4339d1 31.71%,#4134c5 49.87%,#4031be 65.44%,#443cd6 73.22%,#4643de 86.20%,#4540da 100.00%)"></div>
<div class="r" style="left:49.50px;top:925.38px;width:464.30px;height:15.62px;background:linear-gradient(90deg,#3f2fb7 0.00%,#3c2aa9 8.35%,#3f2fb7 23.92%,#3d2cb0 39.49%,#3a27a2 49.87%,#3d2cb0 65.44%,#4134c5 70.63%,#4540da 81.01%,#4540da 100.00%)"></div>
<div class="r" style="left:49.50px;top:910.06px;width:464.30px;height:15.62px;background:linear-gradient(90deg,#4b5af0 0.00%,#4a54ed 29.11%,#4951eb 49.87%,#4b58ef 65.44%,#4b62f4 81.01%,#4b69f5 100.00%)"></div>
<div class="r" style="left:49.50px;top:894.74px;width:464.30px;height:15.62px;background:linear-gradient(90deg,#4e9fde 0.00%,#4d99e1 39.49%,#4e9ce0 60.25%,#50a5dc 100.00%)"></div>
<div class="r" style="left:49.50px;top:879.42px;width:464.30px;height:15.62px;background:linear-gradient(90deg,#5bbdb2 0.00%,#5cbeb0 49.87%,#60c1a8 100.00%)"></div>
<div class="r" style="left:49.50px;top:864.09px;width:464.30px;height:15.62px;background:linear-gradient(90deg,#73c987 0.00%,#76c984 49.87%,#7fca79 100.00%)"></div>
<div class="r" style="left:49.50px;top:848.77px;width:464.30px;height:15.62px;background:linear-gradient(90deg,#82ca76 0.00%,#87ca70 49.87%,#91ca69 75.82%,#8eca6b 100.00%)"></div>
<div class="r" style="left:49.50px;top:833.45px;width:464.30px;height:15.62px;background:linear-gradient(90deg,#82ca76 0.00%,#8aca6e 49.87%,#97c964 75.82%,#91ca69 100.00%)"></div>
<div class="r" style="left:49.50px;top:818.12px;width:464.30px;height:15.62px;background:linear-gradient(90deg,#82ca76 0.00%,#8eca6b 49.87%,#9ac961 75.82%,#97c964 100.00%)"></div>
<div class="r" style="left:49.50px;top:802.80px;width:464.30px;height:15.62px;background:linear-gradient(90deg,#82ca76 0.00%,#87ca70 39.49%,#91ca69 55.06%,#9ac961 75.82%,#a1c85c 100.00%)"></div>
<div class="r" style="left:49.50px;top:787.48px;width:464.30px;height:15.62px;background:linear-gradient(90deg,#82ca76 0.00%,#85ca73 29.11%,#91ca69 55.06%,#a1c85c 82.04%,#a7c758 100.00%)"></div>
<div class="r" style="left:49.50px;top:772.15px;width:464.30px;height:15.62px;background:linear-gradient(90deg,#87ca70 0.00%,#8aca6e 29.11%,#9ac961 55.06%,#a7c758 82.04%,#a7c758 100.00%)"></div>
<div class="r" style="left:49.50px;top:756.83px;width:464.30px;height:15.62px;background:linear-gradient(90deg,#8eca6b 0.00%,#94ca66 29.11%,#a1c85c 55.06%,#b1c652 82.04%,#abc756 100.00%)"></div>
<div class="r" style="left:49.50px;top:741.51px;width:464.30px;height:15.62px;background:linear-gradient(90deg,#97c964 0.00%,#9ec95f 29.11%,#a7c758 55.06%,#b4c551 82.04%,#aec654 100.00%)"></div>
<div class="r" style="left:49.50px;top:726.18px;width:464.30px;height:15.62px;background:linear-gradient(90deg,#a1c85c 0.00%,#a1c85c 13.54%,#a4c85a 34.30%,#aec654 55.06%,#b7c54f 82.04%,#b1c652 100.00%)"></div>
<div class="r" style="left:49.50px;top:710.86px;width:464.30px;height:15.62px;background:linear-gradient(90deg,#a1c85c 0.00%,#a1c85c 13.54%,#a4c85a 34.30%,#aec654 55.06%,#b7c54f 82.04%,#b1c652 100.00%)"></div>
<div class="r" style="left:49.50px;top:695.54px;width:464.30px;height:15.62px;background:linear-gradient(90deg,#a7c758 0.00%,#a7c758 18.73%,#abc756 49.87%,#b4c551 70.63%,#b4c551 86.20%,#b1c652 100.00%)"></div>
<div class="r" style="left:49.50px;top:680.22px;width:464.30px;height:15.62px;background:linear-gradient(90deg,#a7c758 0.00%,#a7c758 18.73%,#abc756 49.87%,#b4c551 70.63%,#b4c551 86.20%,#b1c652 100.00%)"></div>
<div class="r" style="left:49.50px;top:664.89px;width:464.30px;height:15.62px;background:linear-gradient(90deg,#abc756 0.00%,#aec654 49.87%,#b1c652 100.00%)"></div>
<div class="r" style="left:49.50px;top:649.57px;width:464.30px;height:15.62px;background:linear-gradient(90deg,#abc756 0.00%,#aec654 49.87%,#b1c652 100.00%)"></div>
<div class="r" style="left:49.50px;top:634.25px;width:464.30px;height:15.62px;background:linear-gradient(90deg,#abc756 0.00%,#aec654 49.87%,#b1c652 100.00%)"></div>
<div class="r" style="left:49.50px;top:618.92px;width:464.30px;height:15.62px;background:linear-gradient(90deg,#abc756 0.00%,#aec654 49.87%,#b1c652 100.00%)"></div>
<div class="r" style="left:49.50px;top:603.60px;width:464.30px;height:15.62px;background:linear-gradient(90deg,#abc756 0.00%,#aec654 49.87%,#b1c652 100.00%)"></div>
<div class="r" style="left:1116.80px;top:982.45px;width:465.90px;height:15.65px;background:linear-gradient(90deg,#ffffff 0.00%,#ffffff 7.15%,#b1c652 7.16%,#b4c551 49.82%,#bec34d 75.74%,#bbc44e 100.00%)"></div>
<div class="r" style="left:1116.80px;top:967.09px;width:465.90px;height:15.65px;background:linear-gradient(90deg,#a7c758 0.00%,#aec654 18.71%,#b4c551 49.82%,#c4c24b 73.15%,#c4c24b 83.51%,#bec34d 100.00%)"></div>
<div class="r" style="left:1116.80px;top:951.74px;width:465.90px;height:15.65px;background:linear-gradient(90deg,#97c964 0.00%,#9ac961 18.71%,#a1c85c 39.45%,#b1c652 55.00%,#c1c34c 70.55%,#c7c14a 83.51%,#bec34d 100.00%)"></div>
<div class="r" style="left:1116.80px;top:936.38px;width:465.90px;height:15.65px;background:linear-gradient(90deg,#67c699 0.00%,#66c59b 13.53%,#6ac794 34.27%,#73c987 49.82%,#7fca79 65.37%,#87ca70 80.92%,#85ca73 100.00%)"></div>
<div class="r" style="left:1116.80px;top:921.03px;width:465.90px;height:15.65px;background:linear-gradient(90deg,#51b1ce 0.00%,#50a9d9 13.53%,#50a8da 29.08%,#51afd2 39.45%,#53b7c4 55.00%,#58bbb8 65.37%,#59bcb6 75.74%,#56babc 86.11%,#58bbb8 100.00%)"></div>
<div class="r" style="left:1116.80px;top:905.68px;width:465.90px;height:15.65px;background:linear-gradient(90deg,#51afd2 0.00%,#50a8da 13.53%,#50a6db 29.08%,#51add5 39.45%,#52b3cb 55.00%,#53b6c5 65.37%,#52b5c7 80.92%,#53b7c4 100.00%)"></div>
<div class="r" style="left:1116.80px;top:890.32px;width:465.90px;height:15.65px;background:linear-gradient(90deg,#5cbeb0 0.00%,#5cbeb0 18.71%,#60c1a8 39.45%,#65c49d 55.00%,#67c699 70.55%,#66c59b 100.00%)"></div>
<div class="r" style="left:1116.80px;top:874.97px;width:465.90px;height:15.65px;background:linear-gradient(90deg,#73c987 0.00%,#76c984 18.71%,#7dca7c 39.45%,#85ca73 55.00%,#8aca6e 75.74%,#87ca70 100.00%)"></div>
<div class="r" style="left:1116.80px;top:859.62px;width:465.90px;height:15.65px;background:linear-gradient(90deg,#91ca69 0.00%,#94ca66 18.71%,#97c964 39.45%,#a1c85c 55.00%,#abc756 70.55%,#a7c758 86.11%,#abc756 100.00%)"></div>
<div class="r" style="left:1116.80px;top:844.26px;width:465.90px;height:15.65px;background:linear-gradient(90deg,#8aca6e 0.00%,#9ac961 16.12%,#97c964 34.27%,#a1c85c 49.82%,#afc653 57.59%,#bec34d 65.37%,#c1c34c 75.74%,#b7c54f 88.70%,#c1c34c 100.00%)"></div>
<div class="r" style="left:1116.80px;top:828.91px;width:465.90px;height:15.65px;background:linear-gradient(90deg,#87ca70 0.00%,#8eca6b 18.71%,#91ca69 34.27%,#9ec95f 49.82%,#b7c54f 65.37%,#bec34d 75.74%,#bbc44e 88.70%,#cdc04a 96.47%,#cac14a 100.00%)"></div>
<div class="r" style="left:1116.80px;top:813.55px;width:465.90px;height:15.65px;background:linear-gradient(90deg,#85ca73 0.00%,#8aca6e 18.71%,#91ca69 34.27%,#9ec95f 49.82%,#b4c551 65.37%,#bec34d 75.74%,#bbc44e 88.70%,#d0bf4a 96.47%,#cdc04a 100.00%)"></div>
<div class="r" style="left:1116.80px;top:798.20px;width:465.90px;height:15.65px;background:linear-gradient(90deg,#85ca73 0.00%,#8aca6e 18.71%,#91ca69 34.27%,#a1c85c 49.82%,#b4c551 66.41%,#bbc44e 78.33%,#b7c54f 88.70%,#c7c14a 100.00%)"></div>
<div class="r" style="left:1116.80px;top:782.85px;width:465.90px;height:15.65px;background:linear-gradient(90deg,#85ca73 0.00%,#85ca73 3.16%,#8aca6e 18.71%,#91ca69 34.27%,#a1c85c 49.82%,#b4c551 66.41%,#b7c54f 78.33%,#b4c551 88.70%,#c1c34c 100.00%)"></div>
<div class="r" style="left:1116.80px;top:767.49px;width:465.90px;height:15.65px;background:linear-gradient(90deg,#87ca70 0.00%,#87ca70 3.16%,#91ca69 18.71%,#94ca66 34.27%,#a7c758 49.82%,#b4c551 66.41%,#b1c652 78.33%,#a7c758 88.70%,#b4c551 100.00%)"></div>
<div class="r" style="left:1116.80px;top:752.14px;width:465.90px;height:15.65px;background:linear-gradient(90deg,#8eca6b 0.00%,#8eca6b 5.75%,#97c964 18.71%,#a1c85c 39.45%,#aec654 55.00%,#bbc44e 66.41%,#b1c652 78.33%,#a4c85a 88.70%,#b1c652 100.00%)"></div>
<div class="r" style="left:1116.80px;top:736.78px;width:465.90px;height:15.65px;background:linear-gradient(90deg,#a1c85c 0.00%,#a4c85a 18.71%,#abc756 39.45%,#b4c551 55.00%,#bec34d 66.41%,#b4c551 78.33%,#abc756 88.70%,#b4c551 100.00%)"></div>
<div class="r" style="left:1116.80px;top:721.43px;width:465.90px;height:15.65px;background:linear-gradient(90deg,#abc756 0.00%,#aec654 29.08%,#b1c652 49.82%,#c1c34c 66.41%,#b7c54f 78.33%,#aec654 88.70%,#b7c54f 100.00%)"></div>
<div class="r" style="left:1116.80px;top:706.08px;width:465.90px;height:15.65px;background:linear-gradient(90deg,#abc756 0.00%,#aec654 29.08%,#b1c652 49.82%,#c1c34c 66.41%,#b7c54f 78.33%,#aec654 88.70%,#b7c54f 100.00%)"></div>
<div class="r" style="left:1116.80px;top:690.72px;width:465.90px;height:15.65px;background:linear-gradient(90deg,#b1c652 0.00%,#b4c551 29.08%,#b4c551 49.82%,#bec34d 62.78%,#b7c54f 75.74%,#b1c652 88.70%,#b7c54f 100.00%)"></div>
<div class="r" style="left:1116.80px;top:675.37px;width:465.90px;height:15.65px;background:linear-gradient(90deg,#b1c652 0.00%,#b4c551 29.08%,#b4c551 49.82%,#bec34d 62.78%,#b7c54f 75.74%,#b1c652 88.70%,#b7c54f 100.00%)"></div>
<div class="r" style="left:1116.80px;top:660.02px;width:465.90px;height:15.65px;background:linear-gradient(90deg,#b1c652 0.00%,#b4c551 29.08%,#b4c551 49.82%,#bec34d 62.78%,#b7c54f 75.74%,#b1c652 88.70%,#b7c54f 100.00%)"></div>
<div class="r" style="left:1116.80px;top:644.66px;width:465.90px;height:15.65px;background:linear-gradient(90deg,#b1c652 0.00%,#b4c551 29.08%,#b4c551 49.82%,#bec34d 62.78%,#b7c54f 75.74%,#b1c652 88.70%,#b7c54f 100.00%)"></div>
<div class="r" style="left:1116.80px;top:629.31px;width:465.90px;height:15.65px;background:linear-gradient(90deg,#b1c652 0.00%,#b1c652 49.82%,#b4c551 70.55%,#b4c551 100.00%)"></div>
<div class="r" style="left:1116.80px;top:613.95px;width:465.90px;height:15.65px;background:linear-gradient(90deg,#b1c652 0.00%,#b1c652 49.82%,#b4c551 70.55%,#b4c551 100.00%)"></div>
<div class="r" style="left:1116.80px;top:598.60px;width:465.90px;height:15.65px;background:linear-gradient(90deg,#b1c652 0.00%,#b1c652 49.82%,#b4c551 70.55%,#b4c551 100.00%)"></div>
<svg width="2007" height="1049" viewBox="0 0 2007 1049">
<rect x="49.40" y="54.40" width="464.50" height="397.60" fill="none" stroke="#202020" stroke-width="1.25"/>
<text x="49.40" y="471.80" text-anchor="middle" class="tk">-0.4</text>
<text x="115.76" y="471.80" text-anchor="middle" class="tk">-0.2</text>
<text x="182.11" y="471.80" text-anchor="middle" class="tk">0</text>
<text x="248.47" y="471.80" text-anchor="middle" class="tk">0.2</text>
<text x="314.83" y="471.80" text-anchor="middle" class="tk">0.4</text>
<text x="381.19" y="471.80" text-anchor="middle" class="tk">0.6</text>
<text x="447.54" y="471.80" text-anchor="middle" class="tk">0.8</text>
<text x="513.90" y="471.80" text-anchor="middle" class="tk">1</text>
<text x="43.10" y="449.75" text-anchor="end" class="tk">5</text>
<text x="43.10" y="373.29" text-anchor="end" class="tk">10</text>
<text x="43.10" y="296.83" text-anchor="end" class="tk">15</text>
<text x="43.10" y="220.37" text-anchor="end" class="tk">20</text>
<text x="43.10" y="143.91" text-anchor="end" class="tk">25</text>
<text x="43.10" y="67.45" text-anchor="end" class="tk">30</text>
<path d="M49.40 452.00v-4.5M49.40 54.40v4.5M115.76 452.00v-4.5M115.76 54.40v4.5M182.11 452.00v-4.5M182.11 54.40v4.5M248.47 452.00v-4.5M248.47 54.40v4.5M314.83 452.00v-4.5M314.83 54.40v4.5M381.19 452.00v-4.5M381.19 54.40v4.5M447.54 452.00v-4.5M447.54 54.40v4.5M513.90 452.00v-4.5M513.90 54.40v4.5M49.40 444.35h4.5M513.90 444.35h-4.5M49.40 367.89h4.5M513.90 367.89h-4.5M49.40 291.43h4.5M513.90 291.43h-4.5M49.40 214.97h4.5M513.90 214.97h-4.5M49.40 138.51h4.5M513.90 138.51h-4.5M49.40 62.05h4.5M513.90 62.05h-4.5" stroke="#202020" stroke-width="1" fill="none"/>
<text x="281.65" y="491.70" text-anchor="middle" class="al">Time [ms]</text>
<text transform="translate(19.70 253.20) rotate(-90) scale(1.000 1)" text-anchor="middle" class="al">Frequency [Hz]</text>
<text transform="translate(57.50 83.40) scale(0.965 1)" class="pz">PZ</text>
<rect x="1115.50" y="50.00" width="466.00" height="398.00" fill="none" stroke="#202020" stroke-width="1.25"/>
<text x="1115.50" y="467.80" text-anchor="middle" class="tk">-0.4</text>
<text x="1182.07" y="467.80" text-anchor="middle" class="tk">-0.2</text>
<text x="1248.64" y="467.80" text-anchor="middle" class="tk">0</text>
<text x="1315.21" y="467.80" text-anchor="middle" class="tk">0.2</text>
<text x="1381.79" y="467.80" text-anchor="middle" class="tk">0.4</text>
<text x="1448.36" y="467.80" text-anchor="middle" class="tk">0.6</text>
<text x="1514.93" y="467.80" text-anchor="middle" class="tk">0.8</text>
<text x="1581.50" y="467.80" text-anchor="middle" class="tk">1</text>
<text x="1109.20" y="445.75" text-anchor="end" class="tk">5</text>
<text x="1109.20" y="369.21" text-anchor="end" class="tk">10</text>
<text x="1109.20" y="292.67" text-anchor="end" class="tk">15</text>
<text x="1109.20" y="216.13" text-anchor="end" class="tk">20</text>
<text x="1109.20" y="139.59" text-anchor="end" class="tk">25</text>
<text x="1109.20" y="63.05" text-anchor="end" class="tk">30</text>
<path d="M1115.50 448.00v-4.5M1115.50 50.00v4.5M1182.07 448.00v-4.5M1182.07 50.00v4.5M1248.64 448.00v-4.5M1248.64 50.00v4.5M1315.21 448.00v-4.5M1315.21 50.00v4.5M1381.79 448.00v-4.5M1381.79 50.00v4.5M1448.36 448.00v-4.5M1448.36 50.00v4.5M1514.93 448.00v-4.5M1514.93 50.00v4.5M1581.50 448.00v-4.5M1581.50 50.00v4.5M1115.50 440.35h4.5M1581.50 440.35h-4.5M1115.50 363.81h4.5M1581.50 363.81h-4.5M1115.50 287.27h4.5M1581.50 287.27h-4.5M1115.50 210.73h4.5M1581.50 210.73h-4.5M1115.50 134.19h4.5M1581.50 134.19h-4.5M1115.50 57.65h4.5M1581.50 57.65h-4.5" stroke="#202020" stroke-width="1" fill="none"/>
<text x="1348.50" y="487.70" text-anchor="middle" class="al">Time [ms]</text>
<text transform="translate(1085.80 249.00) rotate(-90) scale(1.000 1)" text-anchor="middle" class="al">Frequency [Hz]</text>
<text transform="translate(1121.10 79.30) scale(0.965 1)" class="pz">PZ</text>
<rect x="49.50" y="603.60" width="464.30" height="398.40" fill="none" stroke="#202020" stroke-width="1.25"/>
<text x="49.50" y="1021.80" text-anchor="middle" class="tk">-0.4</text>
<text x="115.83" y="1021.80" text-anchor="middle" class="tk">-0.2</text>
<text x="182.16" y="1021.80" text-anchor="middle" class="tk">0</text>
<text x="248.49" y="1021.80" text-anchor="middle" class="tk">0.2</text>
<text x="314.81" y="1021.80" text-anchor="middle" class="tk">0.4</text>
<text x="381.14" y="1021.80" text-anchor="middle" class="tk">0.6</text>
<text x="447.47" y="1021.80" text-anchor="middle" class="tk">0.8</text>
<text x="513.80" y="1021.80" text-anchor="middle" class="tk">1</text>
<text x="43.20" y="999.74" text-anchor="end" class="tk">5</text>
<text x="43.20" y="923.12" text-anchor="end" class="tk">10</text>
<text x="43.20" y="846.51" text-anchor="end" class="tk">15</text>
<text x="43.20" y="769.89" text-anchor="end" class="tk">20</text>
<text x="43.20" y="693.28" text-anchor="end" class="tk">25</text>
<text x="43.20" y="616.66" text-anchor="end" class="tk">30</text>
<path d="M49.50 1002.00v-4.5M49.50 603.60v4.5M115.83 1002.00v-4.5M115.83 603.60v4.5M182.16 1002.00v-4.5M182.16 603.60v4.5M248.49 1002.00v-4.5M248.49 603.60v4.5M314.81 1002.00v-4.5M314.81 603.60v4.5M381.14 1002.00v-4.5M381.14 603.60v4.5M447.47 1002.00v-4.5M447.47 603.60v4.5M513.80 1002.00v-4.5M513.80 603.60v4.5M49.50 994.34h4.5M513.80 994.34h-4.5M49.50 917.72h4.5M513.80 917.72h-4.5M49.50 841.11h4.5M513.80 841.11h-4.5M49.50 764.49h4.5M513.80 764.49h-4.5M49.50 687.88h4.5M513.80 687.88h-4.5M49.50 611.26h4.5M513.80 611.26h-4.5" stroke="#202020" stroke-width="1" fill="none"/>
<text x="281.65" y="1041.70" text-anchor="middle" class="al">Time [ms]</text>
<text transform="translate(19.80 802.80) rotate(-90) scale(1.000 1)" text-anchor="middle" class="al">Frequency [Hz]</text>
<text transform="translate(56.00 628.90) scale(0.965 1)" class="pz">PZ</text>
<rect x="1116.80" y="598.60" width="465.90" height="399.20" fill="none" stroke="#202020" stroke-width="1.25"/>
<text x="1116.80" y="1017.60" text-anchor="middle" class="tk">-0.4</text>
<text x="1183.36" y="1017.60" text-anchor="middle" class="tk">-0.2</text>
<text x="1249.91" y="1017.60" text-anchor="middle" class="tk">0</text>
<text x="1316.47" y="1017.60" text-anchor="middle" class="tk">0.2</text>
<text x="1383.03" y="1017.60" text-anchor="middle" class="tk">0.4</text>
<text x="1449.59" y="1017.60" text-anchor="middle" class="tk">0.6</text>
<text x="1516.14" y="1017.60" text-anchor="middle" class="tk">0.8</text>
<text x="1582.70" y="1017.60" text-anchor="middle" class="tk">1</text>
<text x="1110.50" y="995.52" text-anchor="end" class="tk">5</text>
<text x="1110.50" y="918.75" text-anchor="end" class="tk">10</text>
<text x="1110.50" y="841.98" text-anchor="end" class="tk">15</text>
<text x="1110.50" y="765.22" text-anchor="end" class="tk">20</text>
<text x="1110.50" y="688.45" text-anchor="end" class="tk">25</text>
<text x="1110.50" y="611.68" text-anchor="end" class="tk">30</text>
<path d="M1116.80 997.80v-4.5M1116.80 598.60v4.5M1183.36 997.80v-4.5M1183.36 598.60v4.5M1249.91 997.80v-4.5M1249.91 598.60v4.5M1316.47 997.80v-4.5M1316.47 598.60v4.5M1383.03 997.80v-4.5M1383.03 598.60v4.5M1449.59 997.80v-4.5M1449.59 598.60v4.5M1516.14 997.80v-4.5M1516.14 598.60v4.5M1582.70 997.80v-4.5M1582.70 598.60v4.5M1116.80 990.12h4.5M1582.70 990.12h-4.5M1116.80 913.35h4.5M1582.70 913.35h-4.5M1116.80 836.58h4.5M1582.70 836.58h-4.5M1116.80 759.82h4.5M1582.70 759.82h-4.5M1116.80 683.05h4.5M1582.70 683.05h-4.5M1116.80 606.28h4.5M1582.70 606.28h-4.5" stroke="#202020" stroke-width="1" fill="none"/>
<text x="1349.75" y="1037.50" text-anchor="middle" class="al">Time [ms]</text>
<text transform="translate(1087.10 798.20) rotate(-90) scale(1.000 1)" text-anchor="middle" class="al">Frequency [Hz]</text>
<text transform="translate(1120.00 625.70) scale(0.965 1)" class="pz">PZ</text>
<linearGradient id="cb1" x1="0" y1="0" x2="0" y2="1"><stop offset="0.0000" stop-color="#f9fb56"/><stop offset="0.0312" stop-color="#f4ef55"/><stop offset="0.0625" stop-color="#f2e455"/><stop offset="0.0938" stop-color="#f4d854"/><stop offset="0.1250" stop-color="#f5cc55"/><stop offset="0.1562" stop-color="#f4c157"/><stop offset="0.1875" stop-color="#e9bc52"/><stop offset="0.2188" stop-color="#d9be4b"/><stop offset="0.2500" stop-color="#c7c14a"/><stop offset="0.2812" stop-color="#b3c551"/><stop offset="0.3125" stop-color="#9fc95d"/><stop offset="0.3438" stop-color="#8bca6d"/><stop offset="0.3750" stop-color="#7aca7f"/><stop offset="0.4062" stop-color="#6dc88f"/><stop offset="0.4375" stop-color="#65c49e"/><stop offset="0.4688" stop-color="#5fc0ac"/><stop offset="0.5000" stop-color="#58bbb8"/><stop offset="0.5312" stop-color="#53b6c4"/><stop offset="0.5625" stop-color="#51b0cf"/><stop offset="0.5938" stop-color="#51a9d8"/><stop offset="0.6250" stop-color="#4fa1de"/><stop offset="0.6562" stop-color="#4c97e2"/><stop offset="0.6875" stop-color="#4b8ee9"/><stop offset="0.7188" stop-color="#4884f0"/><stop offset="0.7500" stop-color="#4778f4"/><stop offset="0.7812" stop-color="#4a6df6"/><stop offset="0.8125" stop-color="#4b61f3"/><stop offset="0.8438" stop-color="#4a57ee"/><stop offset="0.8750" stop-color="#484ce7"/><stop offset="0.9062" stop-color="#4641dc"/><stop offset="0.9375" stop-color="#4337cd"/><stop offset="0.9688" stop-color="#3f2fb8"/><stop offset="1.0000" stop-color="#3a27a2"/></linearGradient>
<rect x="536.00" y="54.00" width="21.00" height="398.50" fill="url(#cb1)" stroke="#202020" stroke-width="1"/>
<text x="563.50" y="60.10" class="cl">1</text>
<text x="563.50" y="126.52" class="cl">0.5</text>
<text x="563.50" y="192.93" class="cl">0</text>
<text x="563.50" y="259.35" class="cl">-0.5</text>
<text x="563.50" y="325.77" class="cl">-1</text>
<text x="563.50" y="392.18" class="cl">-1.5</text>
<text x="563.50" y="458.60" class="cl">-2</text>
<path d="M557.00 54.00h-3.5M557.00 120.42h-3.5M557.00 186.83h-3.5M557.00 253.25h-3.5M557.00 319.67h-3.5M557.00 386.08h-3.5M557.00 452.50h-3.5" stroke="#202020" stroke-width="1" fill="none"/>
<linearGradient id="cb2" x1="0" y1="0" x2="0" y2="1"><stop offset="0.0000" stop-color="#f9fb56"/><stop offset="0.0312" stop-color="#f4ef55"/><stop offset="0.0625" stop-color="#f2e455"/><stop offset="0.0938" stop-color="#f4d854"/><stop offset="0.1250" stop-color="#f5cc55"/><stop offset="0.1562" stop-color="#f4c157"/><stop offset="0.1875" stop-color="#e9bc52"/><stop offset="0.2188" stop-color="#d9be4b"/><stop offset="0.2500" stop-color="#c7c14a"/><stop offset="0.2812" stop-color="#b3c551"/><stop offset="0.3125" stop-color="#9fc95d"/><stop offset="0.3438" stop-color="#8bca6d"/><stop offset="0.3750" stop-color="#7aca7f"/><stop offset="0.4062" stop-color="#6dc88f"/><stop offset="0.4375" stop-color="#65c49e"/><stop offset="0.4688" stop-color="#5fc0ac"/><stop offset="0.5000" stop-color="#58bbb8"/><stop offset="0.5312" stop-color="#53b6c4"/><stop offset="0.5625" stop-color="#51b0cf"/><stop offset="0.5938" stop-color="#51a9d8"/><stop offset="0.6250" stop-color="#4fa1de"/><stop offset="0.6562" stop-color="#4c97e2"/><stop offset="0.6875" stop-color="#4b8ee9"/><stop offset="0.7188" stop-color="#4884f0"/><stop offset="0.7500" stop-color="#4778f4"/><stop offset="0.7812" stop-color="#4a6df6"/><stop offset="0.8125" stop-color="#4b61f3"/><stop offset="0.8438" stop-color="#4a57ee"/><stop offset="0.8750" stop-color="#484ce7"/><stop offset="0.9062" stop-color="#4641dc"/><stop offset="0.9375" stop-color="#4337cd"/><stop offset="0.9688" stop-color="#3f2fb8"/><stop offset="1.0000" stop-color="#3a27a2"/></linearGradient>
<rect x="1605.40" y="51.00" width="20.30" height="398.50" fill="url(#cb2)" stroke="#202020" stroke-width="1"/>
<text x="1632.00" y="57.10" class="cl">1</text>
<text x="1632.00" y="123.52" class="cl">0.5</text>
<text x="1632.00" y="189.93" class="cl">0</text>
<text x="1632.00" y="256.35" class="cl">-0.5</text>
<text x="1632.00" y="322.77" class="cl">-1</text>
<text x="1632.00" y="389.18" class="cl">-1.5</text>
<text x="1632.00" y="455.60" class="cl">-2</text>
<path d="M1625.70 51.00h-3.5M1625.70 117.42h-3.5M1625.70 183.83h-3.5M1625.70 250.25h-3.5M1625.70 316.67h-3.5M1625.70 383.08h-3.5M1625.70 449.50h-3.5" stroke="#202020" stroke-width="1" fill="none"/>
<linearGradient id="cb3" x1="0" y1="0" x2="0" y2="1"><stop offset="0.0000" stop-color="#f9fb56"/><stop offset="0.0312" stop-color="#f4ef55"/><stop offset="0.0625" stop-color="#f2e455"/><stop offset="0.0938" stop-color="#f4d854"/><stop offset="0.1250" stop-color="#f5cc55"/><stop offset="0.1562" stop-color="#f4c157"/><stop offset="0.1875" stop-color="#e9bc52"/><stop offset="0.2188" stop-color="#d9be4b"/><stop offset="0.2500" stop-color="#c7c14a"/><stop offset="0.2812" stop-color="#b3c551"/><stop offset="0.3125" stop-color="#9fc95d"/><stop offset="0.3438" stop-color="#8bca6d"/><stop offset="0.3750" stop-color="#7aca7f"/><stop offset="0.4062" stop-color="#6dc88f"/><stop offset="0.4375" stop-color="#65c49e"/><stop offset="0.4688" stop-color="#5fc0ac"/><stop offset="0.5000" stop-color="#58bbb8"/><stop offset="0.5312" stop-color="#53b6c4"/><stop offset="0.5625" stop-color="#51b0cf"/><stop offset="0.5938" stop-color="#51a9d8"/><stop offset="0.6250" stop-color="#4fa1de"/><stop offset="0.6562" stop-color="#4c97e2"/><stop offset="0.6875" stop-color="#4b8ee9"/><stop offset="0.7188" stop-color="#4884f0"/><stop offset="0.7500" stop-color="#4778f4"/><stop offset="0.7812" stop-color="#4a6df6"/><stop offset="0.8125" stop-color="#4b61f3"/><stop offset="0.8438" stop-color="#4a57ee"/><stop offset="0.8750" stop-color="#484ce7"/><stop offset="0.9062" stop-color="#4641dc"/><stop offset="0.9375" stop-color="#4337cd"/><stop offset="0.9688" stop-color="#3f2fb8"/><stop offset="1.0000" stop-color="#3a27a2"/></linearGradient>
<rect x="536.50" y="605.00" width="21.90" height="399.00" fill="url(#cb3)" stroke="#202020" stroke-width="1"/>
<text x="564.50" y="611.10" class="cl">4</text>
<text x="564.50" y="670.21" class="cl">2</text>
<text x="564.50" y="729.32" class="cl">0</text>
<text x="564.50" y="788.43" class="cl">-2</text>
<text x="564.50" y="847.54" class="cl">-4</text>
<text x="564.50" y="906.66" class="cl">-6</text>
<text x="564.50" y="965.77" class="cl">-8</text>
<path d="M558.40 605.00h-3.5M558.40 664.11h-3.5M558.40 723.22h-3.5M558.40 782.33h-3.5M558.40 841.44h-3.5M558.40 900.56h-3.5M558.40 959.67h-3.5" stroke="#202020" stroke-width="1" fill="none"/>
<linearGradient id="cb4" x1="0" y1="0" x2="0" y2="1"><stop offset="0.0000" stop-color="#f9fb56"/><stop offset="0.0312" stop-color="#f4ef55"/><stop offset="0.0625" stop-color="#f2e455"/><stop offset="0.0938" stop-color="#f4d854"/><stop offset="0.1250" stop-color="#f5cc55"/><stop offset="0.1562" stop-color="#f4c157"/><stop offset="0.1875" stop-color="#e9bc52"/><stop offset="0.2188" stop-color="#d9be4b"/><stop offset="0.2500" stop-color="#c7c14a"/><stop offset="0.2812" stop-color="#b3c551"/><stop offset="0.3125" stop-color="#9fc95d"/><stop offset="0.3438" stop-color="#8bca6d"/><stop offset="0.3750" stop-color="#7aca7f"/><stop offset="0.4062" stop-color="#6dc88f"/><stop offset="0.4375" stop-color="#65c49e"/><stop offset="0.4688" stop-color="#5fc0ac"/><stop offset="0.5000" stop-color="#58bbb8"/><stop offset="0.5312" stop-color="#53b6c4"/><stop offset="0.5625" stop-color="#51b0cf"/><stop offset="0.5938" stop-color="#51a9d8"/><stop offset="0.6250" stop-color="#4fa1de"/><stop offset="0.6562" stop-color="#4c97e2"/><stop offset="0.6875" stop-color="#4b8ee9"/><stop offset="0.7188" stop-color="#4884f0"/><stop offset="0.7500" stop-color="#4778f4"/><stop offset="0.7812" stop-color="#4a6df6"/><stop offset="0.8125" stop-color="#4b61f3"/><stop offset="0.8438" stop-color="#4a57ee"/><stop offset="0.8750" stop-color="#484ce7"/><stop offset="0.9062" stop-color="#4641dc"/><stop offset="0.9375" stop-color="#4337cd"/><stop offset="0.9688" stop-color="#3f2fb8"/><stop offset="1.0000" stop-color="#3a27a2"/></linearGradient>
<rect x="1603.50" y="601.30" width="22.10" height="399.50" fill="url(#cb4)" stroke="#202020" stroke-width="1"/>
<text x="1632.00" y="607.40" class="cl">4</text>
<text x="1632.00" y="666.59" class="cl">2</text>
<text x="1632.00" y="725.77" class="cl">0</text>
<text x="1632.00" y="784.96" class="cl">-2</text>
<text x="1632.00" y="844.14" class="cl">-4</text>
<text x="1632.00" y="903.33" class="cl">-6</text>
<text x="1632.00" y="962.51" class="cl">-8</text>
<path d="M1625.60 601.30h-3.5M1625.60 660.49h-3.5M1625.60 719.67h-3.5M1625.60 778.86h-3.5M1625.60 838.04h-3.5M1625.60 897.23h-3.5M1625.60 956.41h-3.5" stroke="#202020" stroke-width="1" fill="none"/>
<text x="4.60" y="30.50" class="pl">A</text>
<text x="3.20" y="575.50" class="pl">B</text>
<text transform="translate(287.30 29.60) scale(1.065 1)" text-anchor="middle" class="big">PD Group</text>
<text transform="translate(1349.00 29.60) scale(1.065 1)" text-anchor="middle" class="big">Control Group</text>
<g transform="translate(762.3 246.5)">
<clipPath id="cp_t1"><circle r="114.0"/></clipPath>
<g clip-path="url(#cp_t1)">
<rect x="-115" y="-115" width="230" height="230" fill="#3c2aaa"/>
<path fill="#3f2fb9" fill-rule="evenodd" d="M-123.1-123.1 123.1-123.1 123.1 123.1-123.1 123.1ZM-32.8 44.7-34.9 45.7-36.9 47.1-38.9 49.2-40.1 51.3-40.9 53.4-41.1 55.4-40.9 57.5-40 59.5-38.3 61.6-36.9 62.6-34.9 63.6-32.8 64.0-30.8 63.9-28.7 63.4-26.7 62.2-24.6 60.3-22.6 57.5-21 53.4-20.7 51.3-20.9 49.2-21.8 47.2-22.6 46.2-24.6 44.8-26.7 44.1-28.7 44.0-30.8 44.2ZM-16.4-78.1-18.5-77.4-21.8-75.9-23.9-73.9-24.9-71.8-25.3-69.8-25.4-65.7-24.3-59.5-22.2-53.4-18.5-45.3-14.5-39.0-12.3-36.5-10.3-34.6-8.2-33.2-6.2-32.2-4.1-31.5-2.1-31.2 0-31.1 4.1-31.9 8.2-33.8 12.8-36.9 16.4-40.1 21-45.1 24.6-50.4 27-55.4 28.1-59.5 28.5-63.6 27.9-67.7 27.1-69.8 26-71.8 24.1-73.9 20.5-75.9 16.4-77.1 10.3-78.3 2.1-79.2-4.1-79.4-10.3-79.0Z"/>
<path fill="#4235c7" fill-rule="evenodd" d="M-123.1-123.1 123.1-123.1 123.1 123.1-123.1 123.1ZM-10.3-82.2-16.4-81.3-21-80.0-24.6-78.3-27-75.9-28-73.9-28.6-71.8-28.9-69.8-28.9-65.7-27.8-59.5-26-53.4-22.6-44.6-18.5-36.2-16.4-32.9-14.4-30.2-12.3-28.1-10.3-26.4-6.2-24.1-4.1-23.4-2.1-23.1 0-23.0 2.1-23.3 4.1-23.9 6.2-24.8 9.2-26.7 14.4-31.0 20.5-37.4 24.6-42.5 28.8-49.2 30.8-53.5 32.4-59.5 32.6-63.6 32.4-65.7 31.4-69.8 30.5-71.8 29.3-73.9 27.5-75.9 24.6-78.0 20.5-79.4 12.3-81.1 4.1-82.2-4.1-82.5ZM-26.7 38.8-30.8 39.5-32.8 40.2-34.9 41.2-37.6 43.1-39 44.3-41.4 47.2-43.1 50.3-44 53.4-44.1 55.4-43.9 57.5-43.3 59.5-42.2 61.6-41 63.1-39 64.9-36.9 66.1-34.9 66.8-32.8 67.2-30.8 67.2-28.7 66.8-26.7 66.0-24.6 64.7-22.6 62.9-20.5 60.5-18.4 57.5-16.4 53.4-15.2 49.2-15 47.2-15.1 45.1-15.8 43.1-17.5 41.0-20.5 39.5-22.6 39.0Z"/>
<path fill="#443bd4" fill-rule="evenodd" d="M-123.1-123.1 123.1-123.1 123.1 123.1-123.1 123.1ZM-14.4-84.4-18.5-83.5-22.6-82.2-26.7-80.1-28.9-78.0-30.1-75.9-31-73.9-31.5-71.8-31.8-69.8-31.8-65.7-30.8-59.2-29.2-53.4-27.2-47.2-22.6-35.3-19.4-28.7-16.4-24.0-12.3-19.2-10.3-17.4-6.2-14.7-2.1-13.3 0-13.1 2.1-13.2 4.1-13.7 6.2-14.6 8.2-15.8 12.3-19.6 26.7-38.3 30.8-44.8 33-49.2 35.3-55.4 36.1-59.5 36.2-63.6 36.1-65.7 34.9-70.3 33.1-73.9 31.6-75.9 29.6-78.0 26.7-80.0 21-82.1 11.1-84.1 2.1-85.1-6.2-85.2ZM2.1 22.4 0 24.3-4.1 29.1-6.7 30.8-8.2 31.4-12.3 32.4-16.4 32.9-24.6 33.6-28.7 34.4-30.8 35.1-34.9 37.1-36.9 38.4-39 40.1-41.8 43.1-44.6 47.2-46.3 51.3-46.8 55.4-46.6 57.5-46.1 59.5-45.3 61.6-44 63.6-42 65.7-39 67.9-34.9 69.5-32.8 69.9-30.8 69.9-28.7 69.6-26.7 68.9-24.6 67.8-21.8 65.7-17.8 61.6-14.8 57.5-11.2 51.3-4.1 37.2-2.1 34.8 0 33.3 6.5 30.8 9.7 28.7 11 26.7 11 24.6 10 22.6 8.2 21.2 6.2 20.7 4.1 21.2Z"/>
<path fill="#4642dd" fill-rule="evenodd" d="M-123.1-123.1 123.1-123.1 123.1 123.1-123.1 123.1ZM-16.4-86.4-20.5-85.4-24.6-83.8-27.7-82.1-30.2-80.0-31.8-78.0-32.9-75.9-33.6-73.9-34.4-69.8-34.5-65.7-33.6-59.5-32.1-53.4-28.7-42.4-24.6-30.6-22.6-25.4-18.5-17.1-9.4-2.1-8.5 0.0-8.1 2.1-8 4.1-8.3 6.2-9.6 10.3-12.4 16.4-14.8 20.5-16.3 22.6-18.3 24.6-21.4 26.7-28.7 29.4-32.8 31.5-36.9 34.3-39 36.0-43.1 40.4-45.1 43.1-47.4 47.2-48.8 51.3-49.3 55.4-48.7 59.5-48 61.6-46.9 63.6-45.3 65.7-43.2 67.7-41 69.2-36.9 71.2-32.8 72.1-30.8 72.2-28.2 71.8-26.7 71.4-23.6 69.8-20.8 67.7-18.5 65.7-13 59.5-6.2 50.4-2.1 46.1 0 44.4 4.1 42.0 12.3 38.5 16.4 36.3 18.5 34.7 19.9 32.8 21 30.8 21.6 28.7 21.8 26.7 21.4 22.6 20.4 18.5 18.5 12.8 15.8 6.2 14.6 2.1 14.3-2.1 14.9-6.2 17.1-12.3 21.8-22.6 30.8-37.5 35.9-47.2 37.5-51.3 38.8-55.4 39.6-61.6 39.4-65.7 39-67.7 37.7-71.8 36.6-73.9 35.2-75.9 32.8-78.6 30.8-80.3 26.7-82.6 22.6-84.1 16.4-85.7 10.3-86.8 4.1-87.6-2.1-87.9-6.2-87.8-12.3-87.2Z"/>
<path fill="#484ae5" fill-rule="evenodd" d="M-123.1-123.1 123.1-123.1 123.1 123.1-123.1 123.1ZM-4.1-90.4-10.3-89.9-18.5-88.2-24.6-86.1-28.5-84.1-31.1-82.1-33-80.0-34.4-78.0-36.1-73.9-36.9-69.8-36.8-63.6-36.2-59.5-34.8-53.4-26.7-25.7-21.6-10.3-20-4.1-19.3 2.1-19.6 6.2-21 12.3-22.9 16.4-24.2 18.5-25.9 20.5-28 22.6-34.9 28.2-39 31.9-43.1 36.3-47.2 41.9-49 45.1-50.7 49.2-51.5 53.4-51.6 57.5-50.5 61.6-49.5 63.6-48.2 65.7-45.1 68.8-41 71.6-36.9 73.3-32.8 74.1-28.7 74.0-26.7 73.5-24.6 72.6-20.3 69.8-15.6 65.7-4.1 53.1 0 49.6 2.1 48.2 6.2 46.1 14.4 43.0 18.8 41.0 20.5 40.0 22.6 38.2 24.6 35.4 25.6 32.8 26.1 30.8 26.4 28.7 26.5 24.6 25.8 18.5 23.6 6.2 23 2.1 22.9-4.1 23.6-10.3 25.2-16.4 27.4-22.6 30.3-28.7 36.9-41.8 40.2-49.2 42-55.4 42.7-59.5 42.8-63.6 42.6-65.7 41.7-69.8 40.9-71.8 39-75.4 37-78.0 35-80.0 32.3-82.1 28.7-84.1 26.7-85.0 22.6-86.4 16.4-88.0 6.2-89.8 0-90.3Z"/>
<path fill="#4951eb" fill-rule="evenodd" d="M-123.1-123.1 123.1-123.1 123.1 123.1-123.1 123.1ZM-8.2-92.5-12.3-91.9-18.5-90.4-24.6-88.3-29-86.2-31.9-84.1-34.9-81.1-36.9-78.0-38.5-73.9-39-71.8-39.4-67.7-39-61.6-36.9-51.5-31.4-30.8-27.5-14.4-26.5-8.2-26.1-4.1-26 0.0-26.4 4.1-27.7 10.3-29.3 14.4-30.5 16.4-33.3 20.5-41 29.6-45.1 34.7-48.1 39.0-50.5 43.1-53 49.2-53.9 53.4-54 55.4-53.6 59.5-53 61.6-50.9 65.7-49.3 67.7-47.2 69.8-44.4 71.8-40.6 73.9-36.9 75.2-34.9 75.6-30.8 76.0-28.7 75.9-26.7 75.4-24.6 74.5-22.6 73.4-18.5 70.5-12.9 65.7-4.1 56.9 0 53.4 2.1 52.0 6.2 49.9 10.3 48.2 19.8 45.1 22.6 43.9 24.6 42.6 26.3 41.0 27.7 39.0 28.7 36.9 29.3 34.9 30.2 28.7 30.1 22.6 28.6 6.2 28.3 0.0 28.5-6.2 29.3-12.3 30.8-18.5 32.9-24.6 41-43.2 43.4-49.2 45.2-55.4 45.8-59.5 45.9-63.6 45.4-67.7 44.2-71.8 43.2-73.9 41-77.3 38.7-80.0 36.4-82.1 33.4-84.1 29.3-86.2 24.6-87.9 18.5-89.7 12.3-91.2 6.2-92.2 2.1-92.7-4.1-92.8Z"/>
<path fill="#4b58ef" fill-rule="evenodd" d="M-123.1-123.1 123.1-123.1 123.1 123.1-123.1 123.1ZM-10.3-94.5-16.4-93.2-22.6-91.2-28.7-88.6-32.6-86.2-35-84.1-36.9-82.1-38.3-80.0-39.4-78.0-40.9-73.9-41.3-71.8-41.7-67.7-41.4-61.6-39.9-53.4-34.3-30.8-32-18.5-31-8.2-31.1-2.1-31.4 2.1-32.2 6.2-33.3 10.3-35.9 16.4-39.6 22.6-49.2 36.6-52.9 43.1-55.3 49.2-56.1 53.4-56.3 55.4-55.9 59.5-55.4 61.6-53.5 65.7-52 67.7-50.1 69.8-47.2 72.2-43.1 74.7-39 76.4-34.9 77.3-32.8 77.5-28.7 77.4-26.7 77.0-23.9 75.9-20.5 73.9-14.4 69.3-2.1 58.3 2.1 55.3 6.2 53.0 10.3 51.4 24.6 47.1 26.7 46.1 28.7 44.6 30.1 43.1 31.2 41.0 32.6 36.9 33.3 30.8 33.4 22.6 32.7 2.1 33-6.2 33.7-12.3 35-18.5 36.8-24.6 39.1-30.8 45-45.1 47.2-51.3 48.6-57.5 49-61.6 48.9-65.7 48.1-69.8 46.5-73.9 45.4-75.9 43.1-79.1 40.2-82.1 37.6-84.1 34.3-86.2 29.8-88.2 24.6-90.1 16.4-92.5 10.3-93.9 4.1-94.9 0-95.1-6.2-95.0Z"/>
<path fill="#4b60f3" fill-rule="evenodd" d="M-123.1-123.1 123.1-123.1 123.1 123.1-123.1 123.1ZM-10.3-96.8-16.4-95.4-22.6-93.3-28.7-90.7-32.8-88.5-35.8-86.2-39-82.8-40.8-80.0-42.6-75.9-43.2-73.9-43.9-69.8-44.1-65.7-43.8-61.6-42.8-55.4-37.9-34.9-36-24.6-35.3-18.5-34.9-12.3-35-6.2-35.3-2.1-36.7 6.2-37.8 10.3-39.3 14.4-42.3 20.5-51.3 35.7-55.2 43.1-57.5 49.2-58.4 53.4-58.6 55.4-58.3 59.5-57.1 63.6-55.4 66.7-53.4 69.4-50.8 71.8-47.2 74.4-43.1 76.6-39.4 78.0-36.9 78.6-32.8 79.1-28.7 78.9-26.7 78.5-24.6 77.8-21 75.9-17.9 73.9-12.4 69.8-2.1 61.1 4.1 56.9 8.2 54.9 12.3 53.5 24.6 50.5 28.7 49.2 31.8 47.2 33.4 45.1 35 41.0 36 34.9 36.3 28.7 36.2 10.3 36.4 2.1 37.1-8.2 37.9-14.4 39.3-20.5 41.1-26.7 48.1-45.1 50.2-51.3 51.6-57.5 52.1-63.6 51.7-67.7 50.7-71.8 49.2-75.1 47.6-78.0 46-80.0 43.1-83.0 41-84.7 36.9-87.3 32.8-89.3 26.7-91.5 16.4-94.7 10.3-96.3 4.1-97.3 0-97.5-6.2-97.4Z"/>
<path fill="#4b68f5" fill-rule="evenodd" d="M-123.1-123.1 123.1-123.1 123.1 123.1-123.1 123.1ZM-12.3-98.8-18.5-97.0-24.6-94.6-30.8-91.9-34.9-89.5-38.9-86.2-40.7-84.1-43.4-80.0-45-75.9-45.6-73.9-46.3-69.8-46.3-63.6-45.2-55.4-40.9-36.9-39.1-26.7-38.4-20.5-38.2-14.4-38.3-10.3-38.9-4.1-40.2 4.1-42.3 12.3-45.7 20.5-55.4 38.8-58.4 45.1-60.3 51.3-60.9 55.4-60.9 57.5-60.3 61.6-59.6 63.6-57.5 67.7-55.8 69.8-53.4 72.2-49.2 75.3-45.1 77.5-41 79.2-36.9 80.1-32.8 80.5-28.7 80.2-26.7 79.8-24.6 79.1-20.5 77.1-12.3 71.6 0 62.1 6.2 58.4 10.3 56.6 14.4 55.3 30.8 51.9 32.8 51.1 34.9 49.4 36.4 47.2 37.8 43.1 38.6 36.9 39.4 8.2 40.4-6.2 41.5-14.4 42.7-20.5 44.3-26.7 46.4-32.8 51.8-47.2 53.8-53.4 55-59.5 55.3-63.6 55-67.7 54-71.8 52.4-75.9 51.2-78.0 48-82.1 45.9-84.1 43.1-86.3 39-88.9 34.9-90.8 30.6-92.3 16.4-97.0 8.2-99.1 2.1-99.9-2.1-100.0-8.2-99.5Z"/>
<path fill="#496ff6" fill-rule="evenodd" d="M-123.1-123.1 123.1-123.1 123.1 123.1-123.1 123.1ZM-14.4-100.7-18.5-99.3-30.8-94.2-34.4-92.3-37.5-90.3-41-87.2-43.5-84.1-45.9-80.0-47.5-75.9-48.6-69.8-48.7-65.7-48.5-61.6-47.5-55.4-43.3-36.9-42-28.7-41.2-18.5-41.3-12.3-41.7-8.2-44.1 6.2-46.4 14.4-47.9 18.5-50.6 24.6-58.8 41.0-60.6 45.1-62.6 51.3-63.2 55.4-63.3 57.5-62.8 61.6-61.3 65.7-59.5 68.6-56.8 71.8-53.4 74.7-48.1 78.0-43.1 80.2-39 81.3-34.9 81.8-30.8 81.8-26.7 81.1-24.6 80.4-20.5 78.5-16.1 75.9-7.4 69.8 2.1 63.0 8.2 59.7 12.3 58.2 18.5 56.6 32.8 54.4 34.9 53.7 36.9 52.2 38.9 49.2 40.3 45.1 40.9 41.0 42 12.3 43.7-6.2 44.7-14.4 46.4-22.6 48.1-28.7 50.2-34.9 54.8-47.2 56.9-53.4 58.2-59.5 58.5-65.7 58-69.8 56.8-73.9 55.4-77.0 53.6-80.0 51.3-82.8 47.8-86.2 45-88.2 41-90.6 34.9-93.2 24.7-96.4 16.4-99.4 8.2-101.6 2.1-102.3-4.1-102.4-10.3-101.7Z"/>
<path fill="#4778f5" fill-rule="evenodd" d="M-123.1-123.1 123.1-123.1 123.1 123.1-123.1 123.1ZM-6.2-104.8-12.3-103.8-18.5-101.9-32.8-95.6-36.9-93.4-41.1-90.3-44.9-86.2-47.5-82.1-49.3-78.0-50.8-71.8-51.1-67.7-51-63.6-49.9-55.4-45.7-36.9-44.4-28.7-44-22.6-43.9-18.5-44.4-10.3-47.3 6.2-49.4 14.4-51.6 20.5-54.1 26.7-61.1 41.0-63.7 47.2-65.3 53.4-65.7 57.5-65.3 61.6-64 65.7-61.6 69.8-59.8 71.8-55.4 75.7-51.8 78.0-47.2 80.3-43.1 81.9-39 82.8-34.9 83.2-30.8 83.0-26.7 82.3-24.6 81.6-20.5 79.8-12.3 75.0 2.1 65.2 8.2 61.9 12.3 60.3 18.5 58.6 34.9 56.5 37.5 55.4 39.7 53.4 41 51.3 42.5 47.2 43.2 43.1 43.6 36.9 43.9 22.6 44.4 14.4 47-8.2 48.2-16.4 50-24.6 51.7-30.8 58.6-49.2 60-53.4 61.4-59.5 61.8-63.6 61.8-67.7 61.1-71.8 59.7-75.9 58.7-78.0 56.1-82.1 54.4-84.1 51.3-87.1 47-90.3 43.1-92.5 39-94.3 26.7-98.0 18.5-101.2 12.3-103.2 8.2-104.1 2.1-104.9-2.1-105.1Z"/>
<path fill="#4780f2" fill-rule="evenodd" d="M-123.1-123.1 123.1-123.1 123.1 123.1-123.1 123.1ZM-10.3-107.0-16.4-105.4-20.5-103.8-26.8-100.5-34.9-97.1-39.6-94.4-43.1-91.7-45.1-89.6-47.2-87.1-50.2-82.1-51.9-78.0-53.2-71.8-53.5-67.7-53.4-63.6-52.3-55.4-48.5-39.0-47.1-30.8-46.5-22.6-46.6-18.5-47-12.3-47.9-6.2-49.8 4.1-52.2 14.4-54.3 20.5-56.6 26.7-59.3 32.8-64.3 43.1-66 47.2-67.7 53.4-68.2 57.5-67.9 61.6-66.8 65.7-64.5 69.8-62.9 71.8-59.5 75.1-55.5 78.0-49.2 81.3-45.1 82.9-41 84.0-36.9 84.5-32.8 84.5-28.7 83.9-24.6 82.8-20.5 81.1-11.3 75.9 2.1 67.2 6.2 64.9 10.3 63.0 16.4 61.0 20.5 60.2 32.8 59.0 36.9 58.2 39 57.2 41 55.6 43.1 52.7 44.5 49.2 45.4 45.1 45.8 39.0 46.1 24.6 46.7 16.4 50.2-10.3 51.6-18.5 53.4-26.7 55.3-32.8 61.8-49.2 63.8-55.4 65.1-61.6 65.4-65.7 65.2-69.8 64.3-73.9 62.8-78.0 60.4-82.1 57.5-85.6 54.8-88.2 51.3-91.0 47.2-93.5 43.1-95.5 39-97.1 26.7-100.4 18.5-103.9 14.4-105.3 10.3-106.4 6.2-107.2 0-107.7-6.2-107.6Z"/>
<path fill="#4987ee" fill-rule="evenodd" d="M-123.1-123.1 123.1-123.1 123.1 123.1-123.1 123.1ZM-14.4-109.0-18.5-107.7-22.6-105.9-28.5-102.6-36.9-98.9-41.1-96.4-45.1-93.1-49.2-88.5-52-84.1-53.8-80.0-55-75.9-55.7-71.8-56-67.7-55.9-63.6-54.8-55.4-50.9-39.0-49.5-30.8-49-22.6-49.2-18.5-49.7-12.3-52.6 4.1-53.9 10.3-55.6 16.4-58.3 24.6-60.7 30.8-66.6 43.1-68.3 47.2-70.1 53.4-70.7 57.5-70.7 59.5-70.2 63.6-68.7 67.7-66.1 71.8-63.6 74.5-59.5 77.9-55.4 80.3-49.2 83.2-43.1 85.2-39 85.8-34.9 85.9-30.8 85.5-26.7 84.6-22.6 83.2-18.5 81.3-12.3 78.0-6.2 74.3 6.2 66.9 10.3 64.9 14.4 63.4 20.5 61.9 24.6 61.4 34.9 60.6 39 59.5 42.3 57.5 44.2 55.4 45.5 53.4 47 49.2 47.7 45.1 48.2 26.7 48.8 18.5 49.9 10.3 54.6-18.5 56.4-26.7 58.2-32.8 65-49.2 67.2-55.4 68.7-61.6 69.2-67.7 68.8-71.8 67.8-75.9 66-80.0 63.4-84.1 59.8-88.2 57.5-90.3 51.8-94.4 47.2-96.9 43.1-98.7 39-100.0 28.7-102.5 18.5-106.9 14.4-108.3 10.3-109.3 4.1-110.3-2.1-110.6-8.2-110.2Z"/>
<path fill="#4b8ee9" fill-rule="evenodd" d="M-123.1-123.1 123.1-123.1 123.1 123.1-123.1 123.1ZM-10.3-113.0-16.4-111.7-22.6-109.5-36.9-102.2-43.1-98.3-47.2-94.8-51.1-90.3-53.8-86.2-56.6-80.0-57.7-75.9-58.3-71.8-58.5-67.7-58.4-63.6-57.3-55.4-53.3-39.0-52.1-32.8-51.5-24.6-51.6-20.5-52.1-14.4-53-8.2-55.3 4.1-58.2 16.4-60.7 24.6-63 30.8-69 43.1-71.5 49.2-73 55.4-73.4 59.5-73 63.6-71.7 67.7-69.3 71.8-65.7 75.9-61.6 79.1-57.5 81.5-49.2 85.1-45.1 86.4-41 87.2-36.9 87.4-32.8 87.1-26.7 85.7-22.6 84.3-17.6 82.1-6.2 75.9 6.2 68.8 10.3 66.8 14.4 65.2 18.5 64.1 22.6 63.3 34.9 62.3 39 61.5 41 60.7 43.2 59.5 45.5 57.5 47.2 55.0 48.8 51.3 49.7 47.2 50.1 41.0 50.2 28.7 50.8 20.5 52 12.3 57.9-20.5 59.3-26.7 61.2-32.8 68.4-49.2 71.4-57.5 72.8-63.6 73.1-69.8 72.6-73.9 71.4-78.0 69.5-82.1 66.8-86.2 63.6-89.7 60.6-92.3 55.4-96.1 51.3-98.5 47.2-100.5 43.1-102.1 30.8-105.5 18.5-110.3 12.3-112.0 6.2-113.1 0-113.6-6.2-113.5Z"/>
<path fill="#4c95e4" fill-rule="evenodd" d="M-123.1-123.1 123.1-123.1 123.1 123.1-123.1 123.1ZM-16.4-115.3-22.6-113.4-28.7-110.9-41-103.4-45.1-100.4-49.5-96.4-51.3-94.4-54.5-90.3-56.9-86.2-59.4-80.0-60.4-75.9-61-71.8-61.2-67.7-61-63.6-59.9-55.4-55.7-39.0-54.5-32.8-54.1-28.7-54-24.6-54.5-16.4-55.7-8.2-58 4.1-61.4 18.5-63.2 24.6-65.5 30.8-71.5 43.1-74 49.2-75.6 55.4-76.1 59.5-76 61.6-75.3 65.7-73.7 69.8-71 73.9-67.1 78.0-63.6 80.6-59.5 82.9-49.2 87.1-45.1 88.2-41 88.8-36.9 88.8-32.8 88.3-26.7 86.9-18.5 83.7-11 80.0-3.4 75.9 8.2 69.6 12.3 67.7 16.4 66.3 22.6 64.9 36.9 63.8 41 62.8 43.8 61.6 46.6 59.5 48.4 57.5 49.7 55.4 51.2 51.3 51.9 47.2 52.2 43.1 52.2 28.7 53.4 18.5 61.4-22.6 62.9-28.7 64.3-32.8 71.9-49.2 75.1-57.5 76.3-61.6 77.1-65.7 77.3-71.8 76.7-75.9 76.1-78.0 74.4-82.1 72-86.2 68.6-90.3 65.7-93.2 61.5-96.4 55.4-100.3 49.2-103.4 43.1-105.8 22-112.9 16.4-114.5 10.3-115.8 4.1-116.6-4.1-116.8-10.3-116.4Z"/>
<path fill="#4d9be0" fill-rule="evenodd" d="M-123.1-123.1 123.1-123.1 123.1 123.1-123.1 123.1ZM-14.4-119.4-22.6-117.4-26.7-116.1-30.8-114.3-36.9-110.4-45.1-104.4-51.3-98.8-55.4-93.9-59-88.2-61.7-82.1-62.9-78.0-63.6-73.9-63.9-69.8-63.8-63.6-63.3-59.5-62.1-53.4-58.2-39.0-56.9-32.8-56.5-28.7-56.5-24.6-57.1-16.4-58.4-8.2-60.6 4.1-63.9 18.5-65.8 24.6-67.7 29.9-74.1 43.1-76.6 49.2-78.3 55.4-78.8 59.5-78.8 61.6-78 66.4-76.8 69.8-75.9 71.5-72.9 75.9-69.8 79.1-65.9 82.1-61.6 84.5-55.4 87.1-47.2 89.6-43.1 90.3-39 90.4-34.9 90.0-28.7 88.7-24.6 87.3-18.5 84.8-4.3 78.0 10.3 70.4 17.3 67.7 20.5 66.9 24.6 66.2 36.9 65.5 41 64.8 43.1 64.2 45.1 63.3 47.8 61.6 49.8 59.5 51.3 57.5 53 53.4 53.5 51.3 54.1 47.2 54.2 30.8 54.5 26.7 55.3 20.5 64.5-22.6 66.2-28.7 67.7-32.8 75.6-49.2 79-57.5 80.4-61.6 81.3-65.7 81.9-71.8 81.5-75.9 81-78.0 79.5-82.1 77.4-86.2 74.5-90.3 70.6-94.4 65.7-98.4 59.5-102.4 53.4-105.7 45.1-109.2 30.8-114.5 22-117.0 14.4-118.7 8.2-119.7 0-120.3-8.2-120.1Z"/>
<path fill="#4fa1de" fill-rule="evenodd" d="M-123.1-123.1-14.9-123.1-20.5-122.0-24.6-120.9-28.7-119.5-32.8-117.6-36.9-115.0-41-112.1-49.2-105.3-53.4-101.2-55.6-98.5-58.8-94.4-61.3-90.3-63.4-86.2-64.9-82.1-66-78.0-66.6-73.9-66.9-69.8-66.8-65.7-65.8-57.5-64.5-51.3-60.8-39.0-59.4-32.8-59-26.7-59.5-18.6-60.7-10.3-62.9 2.1-64.6 10.3-66.6 18.5-68.4 24.6-69.9 28.7-77.6 45.1-80 51.3-81.4 57.5-81.6 61.6-81.5 63.6-81.1 65.7-80 69.4-77.8 73.9-74.8 78.0-72.8 80.0-69.8 82.6-67.5 84.1-63.9 86.2-57.5 88.8-49.2 91.2-45.1 91.9-41 92.0-36.9 91.7-32.8 91.0-24.6 88.4-18.5 85.9-5.4 80.0 11 71.8 18.5 69.0 22.6 68.0 26.7 67.5 39 67.0 43.1 66.3 45.1 65.7 49.1 63.6 51.4 61.6 52.9 59.5 54.1 57.5 55.5 53.4 56.4 47.2 56.2 32.8 56.3 28.7 57.1 22.6 58.4 16.4 67.3-20.5 69.7-28.7 72.3-34.9 81.3-53.4 83.8-59.5 85.2-63.6 86.2-67.7 86.6-71.8 86.6-73.9 86-78.0 84.7-82.1 82.9-86.2 80.3-90.3 78.8-92.3 75.9-95.6 72.8-98.5 69.8-100.9 65.7-103.7 59.5-107.3 53.4-110.4 39-116.1 28.7-119.6 20.5-121.5 14.4-122.7 11.6-123.1 123.1-123.1 123.1 123.1-123.1 123.1Z"/>
<path fill="#50a7da" fill-rule="evenodd" d="M-123.1-123.1-30.2-123.1-34.9-120.9-41-116.9-47.2-112.0-53.4-106.1-58.2-100.5-62.6-94.4-66-88.2-68.3-82.1-69.2-78.0-69.9-71.8-70-67.7-69.5-61.6-68.5-55.4-67.6-51.3-63-36.9-62-32.8-61.6-26.7-62.1-20.5-63.5-10.3-65.7 2.3-67.7 12.3-69.8 20.3-71.8 26.6-73.5 30.8-80.4 45.1-82.1 49.2-83.9 55.4-84.5 59.5-84.5 63.6-84.2 65.7-83.1 69.8-82.3 71.8-80 75.9-78.5 78.0-76.8 80.0-73.9 82.9-71.8 84.5-67.7 87.2-63.6 89.2-60.9 90.3-55.4 92.0-51.3 93.0-47.2 93.6-43.1 93.8-39 93.6-34.9 92.8-30.8 91.8-24.6 89.6-2.2 80.0 12.3 73.0 18.5 70.6 24.6 69.2 28.7 68.9 41 68.6 45.1 68.0 47.2 67.4 50.6 65.7 53.1 63.6 55.4 60.5 56.9 57.5 58 53.4 58.6 49.2 58.7 45.1 58.2 32.8 58.4 28.7 59.4 22.6 60.8 16.4 70.2-18.5 72.7-26.7 75.9-34.3 85.4-53.4 89.6-63.6 91.1-69.8 91.3-71.8 91.2-75.9 90.5-80.0 89.2-84.1 86.2-90.3 84.1-93.4 81.7-96.4 78-100.3 75.3-102.6 71.8-105.2 67.7-107.9 57.5-113.5 45.1-118.7 32.4-123.1 123.1-123.1 123.1 123.1-6.2 123.1-123.1 123.1Z"/>
<path fill="#51add4" fill-rule="evenodd" d="M-123.1-123.1-39-123.1-43.1-120.3-49.2-115.3-55.4-109.3-59.5-104.5-64-98.5-67.7-92.4-70.5-86.2-71.8-82.1-72.7-78.0-73.4-71.8-73.3-67.7-72.8-61.6-72.3-57.5-70.9-51.3-65-32.8-64.5-28.7-65-20.5-66.4-10.3-68.4 2.1-70 10.3-72 18.5-73.9 24.5-75.5 28.7-78.2 34.9-83.3 45.1-85.8 51.3-87.3 57.5-87.7 61.6-87.4 65.7-87 67.7-85.7 71.8-84.8 73.9-82.3 78.0-80.8 80.0-78 83.1-74.5 86.2-71.6 88.2-68 90.3-61.6 92.9-53.4 94.9-49.2 95.5-45.1 95.7-41 95.5-36.9 94.8-32.8 93.7-28.7 92.3-2.1 81.5 14.4 73.9 20.5 71.6 26.7 70.5 43.1 70.4 47.2 69.9 49.2 69.3 52.7 67.7 55.2 65.7 57.5 62.6 59 59.5 60.2 55.4 61 49.2 61.1 45.1 60.4 34.9 60.4 30.8 61.3 24.6 62.8 18.5 73.8-18.5 75.9-24.9 79.3-32.8 90.5-55.4 93.9-63.6 95.5-69.8 95.8-71.8 95.8-75.9 95.3-80.0 94.4-83.9 91.9-90.3 88.1-96.4 84.8-100.5 82.1-103.3 75.9-108.5 67.7-113.7 57.5-118.9 47.2-123.1 123.1-123.1 123.1 123.1-6.2 123.1-123.1 123.1Z"/>
<path fill="#52b1ce" fill-rule="evenodd" d="M-123.1-123.1-46.2-123.1-51.3-118.9-57.4-112.9-61.6-108.0-65.7-102.6-69.7-96.4-71.9-92.3-74.4-86.2-75.6-82.1-76.5-78.0-77.1-71.8-77-67.7-76.5-61.6-75.6-55.4-74.6-51.3-72.8-45.1-69.1-34.9-68.1-30.8-67.8-26.7-68.4-18.5-69.6-8.2-71.3 2.1-72.9 10.3-74.9 18.5-76.8 24.6-79.3 30.8-87.3 47.2-89 51.3-90.6 57.5-90.9 61.6-90.7 65.7-89.9 69.8-89.2 71.8-87.4 75.9-84.8 80.0-83.2 82.1-80 85.5-78 87.4-75.9 89.0-71.8 91.6-67.7 93.7-63.6 95.2-59.5 96.4-55.4 97.2-51.3 97.7-47.2 97.8-41 97.4-36.9 96.5-32.8 95.2-14.4 87.6 2.1 81.4 16.4 74.8 22.6 72.7 28.7 71.8 45.1 72.5 49.2 72.2 51.3 71.8 53.4 71.0 55.4 69.8 57.5 68.0 59.3 65.7 60.4 63.6 62.1 59.5 63.3 53.4 63.6 47.2 62.7 34.9 62.6 30.8 63.3 26.7 64.8 20.5 75.9-13.5 79.9-24.6 83.5-32.8 94.7-55.4 98.1-63.6 99.7-69.8 100.3-75.9 100.1-80.0 99.4-84.1 97.4-90.3 94.4-96.4 90-102.6 84.1-108.6 78-113.5 69.8-118.6 61.6-122.7 60.7-123.1 123.1-123.1 123.1 123.1-123.1 123.1Z"/>
<path fill="#53b5c6" fill-rule="evenodd" d="M-123.1-123.1-52.9-123.1-57.5-118.8-61.6-114.4-66.2-108.8-70.5-102.6-73.9-97.0-76.2-92.3-78.6-86.2-79.7-82.1-80.5-78.0-81-73.9-81.2-69.8-80.9-63.6-80.1-57.5-78.8-51.3-77-45.1-73.3-34.9-71.9-28.7-71.6-22.6-72.3-12.3-74.6 4.1-76.2 12.3-78 18.9-79.9 24.6-82.3 30.8-84.2 34.9-89.6 45.1-91.5 49.2-93.6 55.4-94.3 61.6-94.2 65.7-93.4 69.8-91.2 75.9-89 80.0-87.5 82.1-84.1 86.1-82 88.2-79.6 90.3-75.9 92.9-71.8 95.2-67.7 97.0-63.6 98.3-59.5 99.2-55.4 99.8-51.3 100.1-47.2 100.1-43.1 99.7-39 98.8-34.9 97.5-16.4 89.5 4.1 82.2 17.9 75.9 22.6 74.3 26.7 73.5 30.8 73.4 47.2 75.0 51.3 75.1 53.4 74.8 55.4 74.1 57.5 73.0 59.5 71.2 62.1 67.7 63.6 64.6 64.7 61.6 65.7 57.5 66.2 53.4 66.3 47.2 65 32.8 65.4 28.7 67 22.6 71.8 8.3 83.3-22.6 86.9-30.8 97.9-53.4 101.6-61.6 103.6-67.7 104.6-73.9 104.8-80.0 103.9-86.2 102.1-92.3 99.3-98.5 96.4-103.1 91.9-108.8 86.2-114.2 80-118.8 73.1-123.1 123.1-123.1 123.1 123.1-123.1 123.1Z"/>
<path fill="#55b9be" fill-rule="evenodd" d="M-123.1-123.1-59.4-123.1-63.6-118.6-68.4-112.9-72.9-106.7-75.9-101.9-78.9-96.4-81.6-90.3-83-86.2-84.5-80.0-85.2-75.9-85.6-71.8-85.6-67.7-85.2-61.6-84.2-55.4-82.9-49.2-81.1-43.1-77.5-32.8-76-26.7-75.6-22.6-75.5-18.5-76-8.2-77 0.0-78 6.2-79.3 12.3-81 18.5-83.1 24.6-86.2 32.2-93.2 45.1-95.9 51.3-97.5 57.5-97.9 63.6-97.5 67.7-96.6 71.8-94.2 78.0-92.3 81.4-90.3 84.4-87 88.2-84.1 91.0-78 95.5-73.9 97.8-69.8 99.6-65.7 100.9-61.6 101.8-57.5 102.4-53.4 102.7-49.2 102.6-45.1 102.2-41 101.4-36.9 100.1-30.8 97.4-16.4 90.6-10.3 88.4 0 85.3 6.2 83.2 18.5 77.5 22.6 75.9 24.6 75.4 28.7 74.9 34.9 75.4 41 76.4 51.3 78.6 53.4 78.8 55.4 78.7 57.5 78.1 59.5 77.1 61.6 75.4 63.6 73.0 65.5 69.8 67.1 65.7 68.1 61.6 68.9 57.5 69.3 53.4 69.4 49.2 67.9 32.8 68.4 28.7 70 22.6 73.9 11.6 86.2-19.0 90.5-28.7 105.1-59.5 107.4-65.7 108.9-71.8 109.5-78.0 109.3-84.1 108.2-90.3 107-94.4 104.7-100.0 102.1-104.7 98.5-109.7 93.9-114.9 89.4-119.0 84.1-123.1 123.1-123.1 123.1 123.1-123.1 123.1Z"/>
<path fill="#59bcb5" fill-rule="evenodd" d="M-123.1-123.1-65.7-123.1-69.8-118.4-73.9-113.1-76.9-108.8-80.6-102.6-82.8-98.5-85.5-92.3-87.6-86.2-89.2-80.0-90.1-73.9-90.4-69.8-90.3-65.7-89.7-59.5-88.7-53.4-86.9-45.1-85.1-39.0-81.3-28.7-80-23.3-79.5-18.5-79.3-14.4-79.7-4.1-80.5 2.1-81.5 8.2-84.2 18.5-86.4 24.6-89.1 30.8-97 45.1-99.7 51.3-101.3 57.5-101.6 63.6-101.3 67.7-100.5 71.8-99.2 75.9-97.4 80.0-93.6 86.2-90.3 90.1-88.1 92.3-82.1 97.1-78 99.6-73.9 101.5-69.8 103.0-65.7 104.1-61.6 104.9-57.5 105.3-51.3 105.3-47.2 104.9-43.1 104.1-39 102.9-34.9 101.2-22.1 94.4-16.4 91.8-10.3 89.6 6.2 85.1 12.3 82.6 20.5 78.6 24.6 77.1 28.7 76.6 32.8 76.9 36.9 77.5 43.1 79.1 53.4 83.1 55.4 83.5 57.5 83.4 59.5 82.8 61.6 81.9 63.6 80.5 66 78.0 68.5 73.9 69.8 70.7 71.1 65.7 72.2 59.5 72.7 55.4 72.7 49.2 71.5 36.9 71.3 32.8 71.7 28.7 73.3 22.6 76.2 14.4 82.1 0.6 102.8-45.1 109.7-59.5 112-65.7 113.1-69.8 113.9-73.9 114.4-80.0 114.2-86.2 113.6-90.3 112.7-94.4 110.8-99.9 108.7-104.7 106.4-108.8 103.6-112.9 100.5-116.6 94-123.1 123.1-123.1 123.1 123.1-123.1 123.1Z"/>
<path fill="#5ebfad" fill-rule="evenodd" d="M-123.1-123.1-72.1-123.1-75.9-118.3-80-112.5-83.6-106.7-86.9-100.5-88.8-96.4-91.2-90.3-93-84.1-94.4-78.0-95.2-71.8-95.3-67.7-95.1-63.6-94.4-57.5-93-49.2-91-41.0-89-34.9-85.8-26.7-84.1-20.5-83.4-16.4-83.1-12.3-83-8.2-83.3-2.1-84.1 4.1-85.3 10.3-86.4 14.4-88.4 20.5-91.9 28.7-100 43.1-102 47.2-103.6 51.3-105.1 57.5-105.5 61.6-105.4 65.7-104.9 69.8-104 73.9-102.6 78.0-100.8 82.1-96.9 88.2-94.4 91.4-91.5 94.4-88.2 97.2-84.1 100.2-78 103.6-73.9 105.3-69.8 106.6-65.7 107.5-61.6 108.0-55.4 108.3-51.3 108.1-45.1 107.1-41 105.9-34.9 103.2-23.4 96.4-16.4 92.9-12.3 91.4-8.2 90.2 4.1 87.5 8.2 86.4 12.3 84.9 22.1 80.0 26.7 78.6 28.7 78.4 32.8 78.7 39 80.1 44.2 82.1 53.4 87.3 55.4 87.9 57.5 88.3 59.5 88.3 61.6 87.9 63.6 87.3 65.7 86.1 67.7 84.5 69.8 82.2 72.4 78.0 73.9 74.3 75.1 69.8 75.8 65.7 76.5 59.5 76.7 53.4 76.3 47.2 75.2 36.9 75.1 32.8 75.9 26.7 77.7 20.5 80 14.1 83.5 6.2 97.5-22.6 107.7-45.1 113.7-57.5 116.2-63.6 117.5-67.7 118.5-71.8 119.1-75.9 119.5-80.0 119.6-84.1 119.3-88.2 118.8-92.3 117-99.8 114.3-106.7 111-112.9 106.7-118.9 103.1-123.1 123.1-123.1 123.1 123.1-123.1 123.1Z"/>
<path fill="#62c2a4" fill-rule="evenodd" d="M-123.1-123.1-78.5-123.1-82.9-117.0-86.2-111.9-89.2-106.7-92.3-100.5-94.8-94.4-96.9-88.2-98-84.1-99.3-78.0-100-71.8-100.1-65.7-99.7-59.5-98.9-53.4-97.3-45.1-95.6-39.0-94.2-34.9-90.1-24.6-88.2-18.5-87.4-14.4-86.9-10.3-86.9-2.1-87.3 2.1-88.2 7.8-90.6 16.4-92.3 20.9-95 26.7-103.1 41.0-106.1 47.2-107.6 51.3-108.6 55.4-109.2 59.5-109.4 63.6-109.2 67.7-108.6 71.8-106.9 78.0-104.3 84.1-100.5 90.3-98.5 92.8-95.2 96.4-90.3 100.7-84.1 104.7-80 106.8-75.9 108.4-69.8 110.1-65.7 110.9-61.6 111.3-57.5 111.4-53.4 111.2-49.2 110.6-45.1 109.8-41 108.4-36.9 106.6-32.8 104.2-27.5 100.5-21 96.4-17.1 94.4-14.4 93.3-8.2 91.5 6.2 89.0 10.3 88.0 14.4 86.4 22.8 82.1 26.7 80.8 28.7 80.5 30.8 80.6 34.9 81.1 38.3 82.1 41 83.2 45.1 85.5 53.4 91.5 57.5 93.3 61.6 94.0 63.6 94.0 65.7 93.5 67.7 92.7 69.8 91.6 71.8 89.9 73.3 88.2 76.1 84.1 78.1 80.0 79.7 75.9 81.1 69.8 81.6 63.6 81.5 57.5 79.5 39.0 79.3 32.8 80 26.7 81.6 20.5 83.9 14.4 86.7 8.2 100.8-18.5 109.3-36.9 119-57.5 121.4-63.6 123.1-69.6 123.1 123.1-123.1 123.1ZM111.7-123.1 123.1-123.1 123.1-100.5 123.1-99.9 120.9-106.7 118.2-112.9 114.9-118.5Z"/>
<path fill="#66c59a" fill-rule="evenodd" d="M-123.1-123.1-84.9-123.1-89.1-117.0-92.7-110.8-96.4-103.4-99.4-96.4-102.1-88.2-103.5-82.1-104.5-75.9-105-69.8-105-63.6-104.6-57.5-103.7-51.3-102.5-45.1-100.9-39.0-99.4-34.9-93.5-20.5-92.2-16.4-91.3-12.3-90.8-8.2-90.6-4.1-90.7 0.0-91.2 4.1-93.1 12.3-96.2 20.5-99.3 26.7-106.4 39.0-110.2 47.2-111.6 51.3-112.6 55.4-113.2 59.5-113.4 63.6-113.3 67.7-112.8 71.8-111.3 78.0-109 84.1-105.6 90.3-101 96.4-96.4 101.0-90.3 105.7-84.1 109.2-80 111.0-75.9 112.4-71.8 113.4-65.7 114.4-61.6 114.6-55.4 114.5-51.3 114.0-47.2 113.1-41 111.1-36.9 109.2-32.8 106.6-22 98.5-18.5 96.3-14.4 94.5-10.3 93.2-6.2 92.3 8.2 90.7 12.3 90.0 16.4 88.5 24.6 84.1 28.7 83.0 30.8 82.9 34.9 83.4 39 84.8 41.6 86.2 44.4 88.2 46.7 90.3 53.4 97.3 55.4 99.1 59.5 101.7 61.6 102.4 63.6 102.7 65.7 102.7 67.7 102.3 69.8 101.7 73.9 99.3 75.9 97.6 78 95.4 80.2 92.3 82.1 89.0 86.2 79.1 87.2 75.9 88.1 71.8 88.5 67.7 88.3 63.6 84.9 45.1 84 36.9 83.8 32.8 84.1 28.7 85.3 22.6 87.3 16.4 91 8.2 94.4 2.2 104.3-14.4 108.5-22.6 123.1-54.2 123.1 123.1-123.1 123.1ZM120-123.1 123.1-123.1 123.1-119.0 123.1-117.7Z"/>
<path fill="#6cc890" fill-rule="evenodd" d="M-123.1-123.1-91.4-123.1-95.3-117.0-98.6-110.8-101.6-104.7-104.8-96.4-107.3-88.2-108.7-82.1-109.6-75.9-110-69.8-110-63.6-109.6-57.5-108.5-49.2-107.3-43.1-105.5-36.9-104-32.8-97.6-18.5-96.2-14.4-95.2-10.3-94.7-6.2-94.5-2.1-95 4.1-96.4 10.3-97.8 14.4-99.6 18.5-102.6 24.3-109.9 36.9-113.7 45.1-115.2 49.2-116.3 53.4-117.3 59.5-117.6 63.6-117.5 67.7-117.1 71.8-115.8 78.0-113.8 84.1-110.8 90.2-106.7 96.4-103.2 100.5-98.5 104.9-92.3 109.4-88.2 111.8-82.1 114.5-78 115.9-71.8 117.3-67.7 117.9-61.6 118.1-55.4 117.7-51.3 117.1-47.2 116.1-43.1 114.8-36.9 112.0-32.8 109.4-22.5 100.5-18.5 97.8-14.4 95.7-10.3 94.4-4.1 93.4 14.4 92.8 18.5 91.5 23.4 88.2 26.7 86.5 28.7 85.8 30.8 85.6 32.8 85.6 35.7 86.2 39 87.6 42.6 90.3 44.4 92.3 45.9 94.4 47.7 98.5 48.2 100.5 48.4 102.6 48.2 104.7 47.5 106.7 45.1 109.8 41.2 112.9 40.8 114.9 42.4 117.0 45.1 118.4 47.2 119.1 51.3 119.8 55.4 119.8 61.7 119.0 65.7 117.8 69.8 116.1 73.9 113.7 78 110.6 82.1 106.3 84.8 102.6 87.3 98.5 90.3 92.2 93.2 84.1 94.8 78.0 95.8 71.8 95.9 67.7 95.7 65.7 94.6 61.6 91.4 51.3 89.9 45.1 88.9 39.0 88.5 32.8 88.9 26.7 89.7 22.6 90.9 18.5 93.5 12.3 98.5 3.4 107.8-10.3 110.2-14.4 114.4-22.6 123.1-41.3 123.1 123.1-123.1 123.1Z"/>
<path fill="#75c984" fill-rule="evenodd" d="M-123.1-123.1-98-123.1-101.5-117.0-104.7-110.8-107.4-104.7-109.7-98.5-111.6-92.3-113.1-86.2-114.2-80.0-114.9-73.9-115.2-67.7-114.9-59.5-114-51.3-112.4-43.1-110.8-36.9-109.4-32.8-102.6-18.8-100.8-14.4-99.2-8.2-98.6-2.1-99.1 4.1-100 8.2-101.3 12.3-104.1 18.5-112.5 32.8-116.5 41.0-119.5 49.2-120.5 53.4-121.3 57.5-121.7 61.6-121.8 67.7-121.2 73.9-120.4 78.0-119.3 82.1-117.8 86.2-115.9 90.3-112.9 95.6-108.8 101.1-103.4 106.7-98.3 110.8-92.3 114.6-86.2 117.5-80 119.6-73.9 121.0-65.7 121.8-59.5 121.6-53.4 120.8-47.2 119.3-41 117.0-36.9 115.0-32.8 112.3-30.8 110.6-22.7 102.6-18.5 99.3-14.4 97.0-10.3 95.8-6.2 95.0-2.1 94.7 6.2 95.0 21.6 98.5 22.6 99.0 23 98.5 24.4 94.4 25.5 92.3 27.6 90.3 30.8 88.8 32.8 88.6 34.9 88.9 36.9 89.6 39 91.0 40.4 92.3 41.7 94.4 42.4 96.4 42.6 98.5 42.1 100.5 40.6 102.6 39 103.7 36.9 104.5 34.9 104.9 32.8 104.7 30.8 104.2 28.2 102.6 26.7 101.0 24.6 99.8 23.8 100.5 23.6 110.8 23.9 112.9 24.6 114.9 27.4 119.0 31.4 123.1-123.1 123.1ZM122.5-26.7 123.1-27.9 123.1 123.1 82.2 123.1 84.4 121.1 87.9 117.0 90.9 112.9 93.3 108.8 96.2 102.6 98.4 96.4 100.2 90.3 101.5 84.1 102.3 78.0 102.5 71.8 101.8 65.7 100.1 59.5 95.7 47.2 94.6 43.1 93.8 39.0 93.3 34.9 93.2 30.8 93.5 26.7 94.2 22.6 96.2 16.4 99.2 10.3 103.2 4.1 111.2-6.2 114.1-10.3 117.5-16.4Z"/>
<path fill="#7fca78" fill-rule="evenodd" d="M-123.1-123.1-104.6-123.1-107.9-117.0-110.8-110.8-113.3-104.7-115.4-98.5-117.1-92.3-118.5-86.2-119.7-78.0-120.2-71.8-120.3-65.7-119.8-57.5-118.8-49.2-117.1-41.0-115.3-34.9-113.8-30.8-107.5-18.5-105.7-14.4-103.7-8.2-103-4.1-103 2.1-104.3 8.2-106.7 14.4-110.8 21.7-115.1 28.7-118.3 34.9-121.1 41.0-123.1 46.7ZM122.7-14.4 123.1-15.2 123.1 123.1 97.1 123.1 100.5 117.3 102.6 112.9 104.2 108.8 105.5 104.7 107.1 98.5 108.8 88.2 109.2 82.1 109.2 78.0 108.5 69.8 107.1 63.6 105.1 57.5 100.5 45.6 98.8 39.0 98.1 34.9 97.9 30.8 98.5 24.6 99.4 20.5 100.5 17.4 101.9 14.4 104.3 10.3 108.8 4.2 117.6-6.2ZM-123.1 86.2-123.1 85.2-120.2 92.3-116.6 98.5-112.9 103.6-108.1 108.8-102.6 113.5-96.4 117.5-90.3 120.7-83.6 123.1-123.1 123.1ZM31.1 94.4 32.8 92.8 34.9 92.8 37.1 94.4 37.6 96.4 36.9 98.1 36.4 98.5 34.9 99.1 32.8 98.6 31.2 96.4ZM-6.6 96.4 0 96.2 4.1 96.6 6.2 97.1 9.9 98.5 13.5 100.5 14.4 101.3 15.7 102.6 17 104.7 17.8 106.7 19.5 114.9 20.5 117.3 24.2 123.1-16.4 123.1-48.5 123.1-45.1 122.0-41 120.2-36.9 118.1-32.8 115.3-28.7 111.6-22.6 104.7-20.4 102.6-16.4 99.6-14.4 98.4-12.3 97.7Z"/>
<path fill="#8cca6d" fill-rule="evenodd" d="M-123.1-123.1-111.2-123.1-116.1-112.9-118.5-106.7-120.6-100.5-123.1-90.7ZM-123.1-45.1-121-36.9-118.9-30.8-117-26.5-110.8-14.7-109-10.3-107.8-6.2-107.3-2.1-107.4 2.1-107.8 4.1-108.8 8.2-111.6 14.4-117 23.4-120.1 28.7-123.1 34.8ZM122.3-4.1 123.1-5.2 123.1 123.1 109.3 123.1 111.8 117.0 114.1 108.8 115.9 98.5 116.5 88.2 116 78.0 114.7 69.8 113.1 63.6 110.9 57.5 105.8 45.1 103.9 39.0 102.9 32.8 103 26.7 103.7 22.6 105 18.5 106.7 14.9 108.3 12.3 111.4 8.2ZM-123.1 98.5-123.1 97.3-119.8 102.6-117 106.4-110.8 113.0-104.7 118.0-100.5 120.8-96.3 123.1-123.1 123.1ZM-10 98.5-4.1 97.7 2.1 98.0 6.2 99.2 8.8 100.5 10.3 101.6 11.4 102.6 13.1 104.7 14.2 106.7 15 108.8 17.1 117.0 18.5 120.4 19.9 123.1-10.3 123.1-40 123.1-34.9 120.0-30.8 116.8-27 112.9-22.1 106.7-17.9 102.6-14.4 100.1Z"/>
<path fill="#9ac962" fill-rule="evenodd" d="M-123.1-123.1-117.9-123.1-121.1-116.1-123.1-110.9ZM-123.1-26.7-123.1-28.7-121.3-24.6-115-12.3-112.7-6.2-112-2.1-112.1 2.1-113 6.2-114.9 10.8-119 18.1-123.1 25.0ZM121.8 4.1 123.1 2.7 123.1 78.6 121.1 69.2 117.9 59.5 110.1 41.0 108.5 34.9 108.1 28.7 108.4 24.6 108.8 22.6 110.2 18.5 111.3 16.4 114.9 11.5ZM-11.3 100.5-8.2 99.7-4.1 99.2 0 99.3 4.1 100.4 7.9 102.6 9.9 104.7 11.3 106.7 12.9 110.8 14.4 117.0 16.4 123.1-4.1 123.1-34.3 123.1-30.8 120.3-28.7 118.3-26.7 116.0-21.3 108.8-17.6 104.7-14.4 102.0ZM-123.1 108.8-123.1 106.8-119 112.0-114.9 116.2-110.8 119.8-106.3 123.1-123.1 123.1ZM122.9 112.9 123.1 111.8 123.1 123.1 120.4 123.1 121.6 119.0Z"/>
<path fill="#a8c758" fill-rule="evenodd" d="M-123.1-16.4-123.1-17.3-119-8.5-118.2-6.2-117.2-2.1-117.1 0.0-117.9 4.1-119.4 8.2-121.1 11.7-123.1 15.4ZM121.5 12.3 123.1 10.6 123.1 55.9 121.1 51.3 117.4 43.1 115.9 39.0 114.8 34.9 114 28.7 114.3 24.6 115.4 20.5 118 16.4ZM-11.6 102.6-8.2 101.4-4.1 100.8 0 101.0 2.1 101.5 4.4 102.6 6.9 104.7 8.5 106.7 10.4 110.8 13.4 123.1-4.1 123.1-29.7 123.1-26 119.0-20.3 110.8-17 106.7-14.4 104.3ZM-123.1 117.0-123.1 115.4-119 119.8-115.3 123.1-123.1 123.1Z"/>
<path fill="#b6c550" fill-rule="evenodd" d="M123 22.6 123.1 36.9 123.1 37.5 123 36.9 122 32.8 121.7 28.7 122.3 24.6ZM-4.8 102.6-2.1 102.5 0 102.7 2.1 103.5 3.8 104.7 5.7 106.7 7 108.8 8.5 112.9 10.5 123.1-8.2 123.1-25.7 123.1-22.6 118.7-17.5 110.8-14.4 107.1-12.3 105.4-10.3 104.2-8.2 103.4Z"/>
<path fill="#c3c24b" fill-rule="evenodd" d="M-4.5 104.7-2.1 104.5 0 104.9 2.6 106.7 4.2 108.8 5.2 110.8 6.4 114.9 7.5 123.1-8.2 123.1-21.8 123.1-15.8 112.9-14.4 110.8-12.6 108.8-10.3 106.8-8.2 105.8Z"/>
<path fill="#d0bf4a" fill-rule="evenodd" d="M-7.7 108.8-6.2 108.0-4.1 107.5-2.1 107.5 0 108.4 2.1 111.1 2.8 112.9 3.7 117.0 4 123.1-6.2 123.1-17.5 123.1-14.6 117.0-12.3 113.1-10.3 110.7Z"/>
<path fill="none" stroke="#0b0b14" stroke-width="1.05" stroke-linejoin="round" d="M-14.4-82.1-18.5-81.3-22.6-79.9-24.6-78.8-25.9-78.0-26.7-77.1-27.5-75.9-28.5-73.9-29.1-71.8-29.4-69.8-29.4-67.7-29.4-65.7-28.8-61.6-27.2-55.4-24.6-48.1-22.6-43.1-20.5-38.7-18.5-34.7-17.3-32.8-16.4-31.4-14.4-28.8-12.3-26.7-10.3-25.0-8.2-23.6-6.2-22.7-4.1-22.0-2.1-21.6 0-21.6 2.1-21.8 4.1-22.4 6.2-23.3 8.2-24.5 10.3-26.0 12.3-27.7 16.4-31.8 20.5-36.2 22.6-38.6 25.9-43.1 28.5-47.2 30.5-51.3 31.4-53.4 32.6-57.5 33-59.5 33.2-61.6 33.2-63.6 33.1-65.7 32.7-67.7 32.1-69.8 31.2-71.8 30-73.9 28.3-75.9 26.7-77.3 24.6-78.5 20.1-80.0 16.4-80.9 10.3-82.0 6.2-82.5 2.1-82.8-2.1-83.0-6.2-82.9-10.3-82.7-14.4-82.1M-30.8 38.7-32.8 39.5-34.9 40.5-36.9 41.9-39 43.6-41 45.9-43.1 49.1-44 51.3-44.4 53.4-44.6 55.4-44.4 57.5-43.8 59.5-42.8 61.6-41.2 63.6-39 65.4-36.9 66.6-34.9 67.3-32.8 67.7-30.8 67.7-28.7 67.3-26.7 66.5-24.6 65.3-22.6 63.6-20.7 61.6-19.1 59.5-17.8 57.5-16.7 55.4-14.9 51.3-14.3 49.2-14 47.2-13.9 45.1-14.4 42.9-15.5 41.0-16.4 40.2-18.5 39.1-20.5 38.4-22.6 38.1-24.6 37.9-26.7 38.0-28.7 38.2-30.8 38.7M-14.4-94.6-20.5-92.8-26.7-90.4-31-88.2-32.8-87.1-34.9-85.4-36.2-84.1-38-82.1-39.4-80.0-40.4-78.0-41.3-75.9-41.9-73.9-42.6-69.8-42.7-67.7-42.6-63.6-41.8-57.5-40.4-51.3-35.9-32.8-34.7-26.7-33.7-20.5-33-14.4-32.8-10.3-32.7-6.2-33.1 0.0-33.7 4.1-34.7 8.2-36 12.3-37.8 16.4-40.1 20.5-41.3 22.6-47.2 31.5-50.6 36.9-52.9 41.0-54.8 45.1-56.2 49.2-56.8 51.3-57.1 53.4-57.2 55.4-57.2 57.5-56.9 59.5-56.4 61.6-55.7 63.6-54.6 65.7-53.4 67.5-51.3 69.8-49 71.8-47.2 73.2-45.1 74.4-43.1 75.5-41 76.4-39 77.1-36.9 77.6-34.9 78.0-32.8 78.2-30.8 78.2-28.7 78.1-26.7 77.7-24.6 76.9-22.6 75.9-19.3 73.9-16.5 71.8-11.4 67.7-2.1 59.5 2.1 56.5 6.2 54.3 10.3 52.6 16.4 50.8 22.7 49.2 26.7 47.9 28.7 46.8 30.6 45.1 32 43.1 33 41.0 33.6 39.0 34 36.9 34.5 32.8 34.7 28.7 34.7 24.6 34.3 8.2 34.4 0.0 34.9-8.2 35.8-14.4 37.2-20.5 39.1-26.7 41.3-32.8 46.3-45.1 47.8-49.2 49-53.4 49.5-55.4 50.1-59.5 50.3-63.6 49.9-67.7 49.4-69.8 48.8-71.8 47.9-73.9 46.9-75.9 45.5-78.0 43.9-80.0 41.9-82.1 39.4-84.1 36.2-86.2 32.8-87.9 30.8-88.8 24.6-91.0 16.4-93.4 12.3-94.5 8.2-95.3 2.1-96.1-4.1-96.1-8.2-95.8-10.3-95.5-14.4-94.6M-10.3-109.0-14.4-108.1-16.4-107.4-20.5-105.8-28.7-101.5-32.8-99.9-36.9-98.0-39.6-96.4-42.5-94.4-44.8-92.3-46.8-90.3-48.4-88.2-49.9-86.2-51.3-83.7-52.9-80.0-53.6-78.0-54.6-73.9-54.9-71.8-55.2-67.7-55.1-63.6-54.7-59.5-53.6-53.4-49.7-36.9-49-32.8-48.5-28.7-48.3-24.6-48.3-20.5-48.5-16.4-48.9-12.3-49.8-6.2-51.7 4.1-53 10.3-54.1 14.4-56 20.5-59.1 28.7-60.9 32.8-65.9 43.1-66.8 45.1-68.3 49.2-69.4 53.4-69.7 55.4-69.9 57.5-69.9 59.5-69.8 61.2-69.3 63.6-68.7 65.7-67.8 67.7-66.6 69.8-65.1 71.8-63.6 73.5-60.9 75.9-58.1 78.0-55.4 79.6-50.4 82.1-47.2 83.4-45.1 84.1-41 85.1-36.9 85.5-32.8 85.4-28.7 84.7-24.6 83.6-20.9 82.1-16.8 80.0-9.6 75.9 4.1 67.4 8.2 65.2 10.3 64.3 14.4 62.8 16.4 62.3 20.5 61.4 24.6 60.8 32.8 60.2 34.9 60.0 36.9 59.6 39 58.8 41 57.6 43.3 55.4 44.6 53.4 45.6 51.3 46.2 49.2 46.9 45.1 47.2 41.0 47.5 26.7 48.1 18.5 48.8 12.3 52.2-10.3 54-20.5 55.4-26.7 57.3-32.8 58.8-36.9 63.1-47.2 64.7-51.3 66.7-57.5 67.5-61.6 67.9-65.7 67.9-67.7 67.5-71.8 67.1-73.9 66.4-75.9 65.6-78.0 64.6-80.0 63.4-82.1 61.9-84.1 59.5-86.9 58.2-88.2 55.8-90.3 51.3-93.5 47.2-95.8 43.1-97.6 36.9-99.6 28.7-101.6 26.1-102.6 18.5-105.9 12.3-107.9 6.2-109.1 0-109.6-6.2-109.5-10.3-109.0M-32.6-123.1-36.9-120.8-39.7-119.0-43.1-116.6-49.2-111.4-52-108.8-55.4-105.2-57.6-102.6-60.8-98.5-62.2-96.4-64.8-92.3-66.9-88.2-68.5-84.1-69.1-82.1-70.1-78.0-70.4-75.9-70.8-71.8-70.8-67.7-70.3-61.6-69.3-55.4-68.4-51.3-67.2-47.2-63.8-36.9-62.7-32.8-62.4-30.8-62.3-26.7-62.8-20.5-63.9-12.3-66.3 2.1-67.9 10.3-69.9 18.5-71.8 24.6-73.3 28.7-75.9 34.5-81.1 45.1-82.8 49.2-83.6 51.3-84.7 55.4-85.3 59.5-85.2 63.6-85 65.7-84.1 69.1-83.1 71.8-82.1 73.9-80.9 75.9-79.5 78.0-77.8 80.0-75.9 82.0-73.9 83.8-70.7 86.2-67.7 88.0-63.6 90.0-59.5 91.4-55.4 92.6-51.3 93.5-47.2 94.1-43.1 94.3-39 94.0-34.9 93.2-30.8 92.1-26.7 90.7-22.6 89.0-4.1 81.2 2.1 78.4 12.3 73.4 16.2 71.8 18.5 71.0 22.6 70.0 26.7 69.4 30.8 69.2 36.9 69.2 41 69.1 45.1 68.5 48 67.7 49.2 67.2 51.3 66.0 53.4 64.3 54 63.6 55.6 61.6 56.7 59.5 57.6 57.5 58.2 55.4 58.7 53.4 59.2 49.2 59.3 45.1 58.7 32.8 59 28.7 60 22.6 61.4 16.4 66.7-2.1 71.6-20.5 73.7-26.7 75.3-30.8 77.2-34.9 83.4-47.2 86.4-53.4 89.1-59.5 90.6-63.6 91.8-67.7 92.3-69.8 92.5-71.8 92.4-75.9 91.7-80.0 90.5-84.1 88.7-88.2 87.6-90.3 86.2-92.6 83.3-96.4 80-100.0 77.2-102.6 73.9-105.3 69.8-108.1 65.2-110.8 59.5-113.8 55.4-115.7 49.2-118.4 43.1-120.8 36.3-123.1M-68.9-123.1-72.4-119.0-76.9-112.9-80.9-106.7-84.3-100.5-87.2-94.4-88.7-90.3-90.6-84.1-92-78.0-92.8-71.8-92.9-67.7-92.7-63.6-92-57.5-90.5-49.2-88.4-41.0-87.1-36.9-83.9-28.7-82.7-24.6-82.2-22.6-81.6-18.5-81.3-14.4-81.2-10.3-81.5-4.1-82.1 2.1-83.2 8.2-84.7 14.4-86.7 20.5-88.2 24.7-91 30.8-92.3 33.3-97.9 43.1-100 47.2-101.7 51.3-102.3 53.4-102.9 55.4-103.4 59.5-103.6 61.6-103.5 65.7-102.9 69.8-102 73.9-100.5 78.0-98.6 82.1-96.4 85.5-94.4 88.4-90.9 92.3-88.2 94.8-86.2 96.5-82.1 99.3-78 101.6-73.9 103.4-69.8 104.8-65.7 105.8-61.6 106.5-55.4 106.8-51.3 106.7-47.2 106.2-43.1 105.3-39 104.0-34.9 102.2-20.8 94.4-16.4 92.3-10.3 90.2-6.2 89.1 2.1 87.2 8.2 85.4 12.3 83.7 20.5 79.7 24.9 78.0 26.7 77.6 28.7 77.5 30.8 77.6 34.2 78.0 36.9 78.5 41 79.6 43.1 80.4 47 82.1 51.3 84.4 53.4 85.3 55.4 85.8 57.5 85.9 59.5 85.6 61.6 85.0 63.6 84.0 66 82.1 67.7 80.2 69.2 78.0 70.3 75.9 71.2 73.9 72.5 69.8 73.4 65.7 74.3 59.5 74.6 55.4 74.6 51.3 74.4 47.2 73.3 36.9 73.2 32.8 73.6 28.7 74 26.7 75.1 22.6 78 14.6 82.1 5.0 97.8-28.7 106.2-47.2 110.3-55.4 112.2-59.5 114.4-65.7 115.6-69.8 116.4-73.9 116.8-78.0 117-82.1 116.8-86.2 116.6-88.2 116-92.3 115.6-94.4 114.9-96.8 113.7-100.5 112-104.7 111-106.7 108.8-110.6 107.3-112.9 104.7-116.5 102.6-119.0 98.7-123.1M-103-123.1-106.7-116.3-110.2-108.8-112.9-102.0-115.3-94.4-117-87.5-118.2-80.0-118.9-73.9-119-69.8-119.1-65.7-118.8-59.5-118.2-53.4-117.2-47.2-115.9-41.0-114.1-34.9-112.6-30.8-110.8-27.0-106.3-18.5-104.7-14.7-103.8-12.3-102.6-8.2-102-4.1-101.9-2.1-102 2.1-102.7 6.2-103.3 8.2-104.7 12.3-106.6 16.4-107.7 18.5-114 28.7-117.2 34.9-119.1 39.0-120.8 43.1-122.2 47.2-123.1 50.3M-123.1 81.5-122.3 84.1-120.8 88.2-118.9 92.3-116.6 96.4-114.9 99.0-112.2 102.6-108.8 106.5-106.7 108.5-104.1 110.8-100.5 113.6-98.5 115.0-94.4 117.4-90.3 119.5-86.3 121.1-82.1 122.5-79.5 123.1M31 92.3 32.8 91.6 34.9 91.7 36.3 92.3 36.9 92.8 38.3 94.4 38.9 96.4 38.4 98.5 36.9 99.9 34.9 100.5 32.8 100.0 31 98.5 29.8 96.4 29.6 94.4 31 92.3M-51.5 123.1-47.2 121.9-43.1 120.4-39 118.4-34.9 116.0-32.8 114.6-30.8 112.9-28.7 110.9-25.1 106.7-23.1 104.7-20.9 102.6-18.4 100.5-15.2 98.5-12.3 97.4-8.7 96.4-6.2 96.1-2.1 95.8 2.1 96.0 4.1 96.2 6.2 96.6 8.2 97.2 11.4 98.5 14.4 100.2 14.9 100.5 16.4 102.0 17 102.6 18.1 104.7 18.8 106.7 19.3 108.8 19.9 112.9 20.5 115.3 22.6 119.1 25.6 123.1M94 123.1 96.7 119.0 99 114.9 100.9 110.8 103.2 104.7 105 98.5 106.3 92.3 107.1 86.2 107.6 80.0 107.6 75.9 107.3 71.8 106.7 67.7 106.3 65.7 104.5 59.5 100.6 49.2 99.1 45.1 98.5 43.0 97.6 39.0 97 34.9 96.8 30.8 97 26.7 97.3 24.6 98.3 20.5 99 18.5 100.8 14.4 102.6 11.0 104.4 8.2 106.7 5.0 116.2-6.2 118.9-10.3 123.1-18.0"/>
<path d="M-28.3 -101.7h.01M28.3 -101.7h.01M-26.3 -77.6h.01M26.3 -77.6h.01M-73.6 -63.6h.01M-36.9 -56.2h.01M0.0 -54.0h.01M36.9 -56.2h.01M73.6 -63.6h.01M-86.8 -35.8h.01M-64.3 -31.6h.01M-19.8 -28.5h.01M19.8 -28.5h.01M64.3 -31.6h.01M86.8 -35.8h.01M-91.2 0.0h.01M-45.6 0.0h.01M0.0 0.0h.01M45.6 0.0h.01M91.2 0.0h.01M-86.8 35.8h.01M-64.3 31.6h.01M-19.8 28.5h.01M19.8 28.5h.01M64.3 31.6h.01M86.8 35.8h.01M-73.6 63.6h.01M-36.9 56.2h.01M0.0 54.0h.01M36.9 56.2h.01M73.6 63.6h.01M-53.1 85.3h.01M-26.3 77.6h.01M26.3 77.6h.01M53.1 85.3h.01M-27.8 99.8h.01M0.0 104.9h.01M27.8 99.8h.01" stroke="#101018" stroke-width="2.6" stroke-linecap="round" fill="none"/>
</g>
<circle r="114.0" fill="none" stroke="#000" stroke-width="1.75"/>
<path d="M-20.7 -112.3L0 -132.0L20.7 -112.3" fill="none" stroke="#000" stroke-width="1.5" stroke-linejoin="miter"/>
<path d="M-114.0 -16.3C-115.1 -19.0 -122.2 -20.3 -123.1 -13.7C-123.1 -6.8 -123.7 0.0 -124.3 6.8C-124.8 13.7 -125.9 19.4 -125.4 22.8C-124.8 28.5 -120.8 32.4 -116.8 31.4C-114.0 30.6 -112.3 28.5 -111.4 26.9" fill="none" stroke="#000" stroke-width="1.5"/>
<path d="M114.0 -16.3C115.1 -19.0 122.2 -20.3 123.1 -13.7C123.1 -6.8 123.7 0.0 124.3 6.8C124.8 13.7 125.9 19.4 125.4 22.8C124.8 28.5 120.8 32.4 116.8 31.4C114.0 30.6 112.3 28.5 111.4 26.9" fill="none" stroke="#000" stroke-width="1.5"/>
</g>
<linearGradient id="cb5" x1="0" y1="0" x2="0" y2="1"><stop offset="0.0000" stop-color="#f9fb56"/><stop offset="0.0312" stop-color="#f4ef55"/><stop offset="0.0625" stop-color="#f2e455"/><stop offset="0.0938" stop-color="#f4d854"/><stop offset="0.1250" stop-color="#f5cc55"/><stop offset="0.1562" stop-color="#f4c157"/><stop offset="0.1875" stop-color="#e9bc52"/><stop offset="0.2188" stop-color="#d9be4b"/><stop offset="0.2500" stop-color="#c7c14a"/><stop offset="0.2812" stop-color="#b3c551"/><stop offset="0.3125" stop-color="#9fc95d"/><stop offset="0.3438" stop-color="#8bca6d"/><stop offset="0.3750" stop-color="#7aca7f"/><stop offset="0.4062" stop-color="#6dc88f"/><stop offset="0.4375" stop-color="#65c49e"/><stop offset="0.4688" stop-color="#5fc0ac"/><stop offset="0.5000" stop-color="#58bbb8"/><stop offset="0.5312" stop-color="#53b6c4"/><stop offset="0.5625" stop-color="#51b0cf"/><stop offset="0.5938" stop-color="#51a9d8"/><stop offset="0.6250" stop-color="#4fa1de"/><stop offset="0.6562" stop-color="#4c97e2"/><stop offset="0.6875" stop-color="#4b8ee9"/><stop offset="0.7188" stop-color="#4884f0"/><stop offset="0.7500" stop-color="#4778f4"/><stop offset="0.7812" stop-color="#4a6df6"/><stop offset="0.8125" stop-color="#4b61f3"/><stop offset="0.8438" stop-color="#4a57ee"/><stop offset="0.8750" stop-color="#484ce7"/><stop offset="0.9062" stop-color="#4641dc"/><stop offset="0.9375" stop-color="#4337cd"/><stop offset="0.9688" stop-color="#3f2fb8"/><stop offset="1.0000" stop-color="#3a27a2"/></linearGradient>
<rect x="903.00" y="132.20" width="11.50" height="244.80" fill="url(#cb5)" stroke="#202020" stroke-width="1"/>
<text transform="translate(920.00 136.00) scale(1.280 1)" class="cs">0.5</text>
<text transform="translate(920.00 217.60) scale(1.280 1)" class="cs">0</text>
<text transform="translate(920.00 299.20) scale(1.280 1)" class="cs">-0.5</text>
<text transform="translate(920.00 380.80) scale(1.280 1)" class="cs">-1</text>
<path d="M914.50 132.20h-2.5M914.50 213.80h-2.5M914.50 295.40h-2.5M914.50 377.00h-2.5" stroke="#202020" stroke-width="1" fill="none"/>
<text x="765.80" y="396.40" text-anchor="middle" class="th">Theta power (5-7 Hz)</text>
<text x="765.80" y="424.70" text-anchor="middle" class="th">200-1000 ms</text>
<g transform="translate(1826.9 248.1)">
<clipPath id="cp_t2"><circle r="114.1"/></clipPath>
<g clip-path="url(#cp_t2)">
<rect x="-115" y="-115" width="230" height="230" fill="#50a7da"/>
<path fill="#51abd7" fill-rule="evenodd" d="M-123.2-123.2 123.2-123.2 123.2 123.2-123.2 123.2ZM-39-18.6-41.1-17.0-43.1-15.1-45.2-12.7-47.2-9.9-49.2-6.2-49.9-4.1-50.5 0.0-50.3 2.1-49.7 4.1-48.7 6.2-47 8.2-45.2 9.5-43.1 10.4-41.1 10.7-39 10.7-36.8 10.3-34.9 9.6-32.2 8.2-29.5 6.2-27.6 4.1-26.2 2.1-25.1 0.0-24.5-2.1-24.1-4.1-24.1-6.2-24.6-9.4-25.8-12.3-28.7-16.4-30.8-18.4-32.9-19.6-34.9-20.0-37-19.6ZM-30.8-49.6-32.5-47.2-32.9-45.2-32.6-43.1-31.6-41.1-30.8-40.1-28.8-39.4-26.7-39.7-23.3-41.1-20.4-43.1-19.1-45.2-19.3-47.2-21.3-49.3-24.6-50.5-26.7-50.7-28.8-50.5Z"/>
<path fill="#51afd2" fill-rule="evenodd" d="M-123.2-123.2 123.2-123.2 123.2 123.2-123.2 123.2ZM-26.7-57.6-30.8-57.1-34.9-55.7-37-54.0-38.8-51.3-39.6-49.3-40.7-45.2-42.2-32.9-43.2-28.8-44.9-24.6-51.3-12.8-53.4-8.2-54.5-4.1-55 0.0-54.7 4.1-53.4 8.5-52.4 10.3-50.9 12.3-49.3 13.8-47.2 15.0-45.2 15.8-43.1 16.2-39 16.2-37 15.9-32.9 14.6-28.4 12.3-25.5 10.3-23.1 8.2-19.3 4.1-16.7 0.0-15.7-2.1-14.5-6.2-14.1-10.3-14.6-14.4-15.9-18.5-18.7-24.6-19.1-26.7-18.5-28.6-10.3-32.9-8.2-34.4-6.2-36.3-4.1-39.0-3.1-41.1-2.5-43.1-2.3-45.2-2.5-47.2-3.4-49.3-5.1-51.3-8.3-53.4-13.5-55.5-18.5-56.7-22.6-57.4Z"/>
<path fill="#52b2cd" fill-rule="evenodd" d="M-123.2-123.2 123.2-123.2 123.2 123.2-123.2 123.2ZM-34.9-59.6-38.5-57.5-40.6-55.5-42-53.4-43.9-49.3-45.2-45.2-47.8-32.9-48.9-28.8-50.5-24.6-56-12.3-58-6.2-58.9 0.0-58.8 4.1-58.5 6.2-57.5 10.1-56.5 12.3-55.4 14.4-53.8 16.4-51.3 18.5-49.3 19.7-47.2 20.4-43.1 20.9-41.1 20.9-37 20.2-30.8 18.2-24.6 15.0-18.2 10.3-11.5 4.1-6.4-2.1-2.4-8.2-0.7-12.3 1.5-24.6 5.1-37.0 5.9-41.1 5.9-45.2 4.8-49.3 3.7-51.3 2.2-53.4-0.3-55.5-4.6-57.5-12.3-59.8-18.5-60.9-22.6-61.3-28.8-61.1-32.9-60.3Z"/>
<path fill="#52b5c7" fill-rule="evenodd" d="M-123.2-123.2 123.2-123.2 123.2 123.2-123.2 123.2ZM-30.8-63.7-34.9-62.5-37-61.7-39-60.5-41.1-58.9-44.2-55.5-45.5-53.4-47.5-49.3-49.3-43.8-52-32.9-53.2-28.8-59.6-12.9-61.5-6.2-62.4 0.0-62.4 4.1-61.6 10.0-60.2 14.4-59.2 16.4-57.5 19.1-55.5 21.3-53.4 22.9-51.3 23.9-47.2 24.9-45.2 25.1-41.1 24.8-37 24.0-32.9 22.7-26.7 20.1-20.3 16.4-6.2 6.9-1.2 4.1 2.1 2.6 4.1 2.1 6.2 1.7 10.3 1.6 16.4 2.8 26.3 6.2 28.8 6.7 32.9 7.3 37 7.1 40.2 6.2 43.2 4.1 44.4 2.1 44.7 0.0 44-2.1 42.7-4.1 41.1-5.7 37.4-8.2 32.9-10.2 24.6-12.7 20.5-14.3 18.5-15.5 16.4-17.2 14.4-19.9 13.1-22.6 12.1-26.7 12-30.8 12.6-39.0 12.5-43.1 12.2-45.2 10.8-49.3 9.7-51.3 8.3-53.4 6.2-55.6 3.8-57.5 0-59.6-5.7-61.6-10.3-62.7-15.2-63.7-20.5-64.3-26.7-64.3Z"/>
<path fill="#54b8c1" fill-rule="evenodd" d="M-123.2-123.2 123.2-123.2 123.2 123.2-123.2 123.2ZM-30.8-66.2-34.9-65.0-38.1-63.7-41.1-61.9-43.9-59.6-45.8-57.5-48.6-53.4-51.5-47.2-52.9-43.1-56.3-30.8-62.6-14.4-63.9-10.3-64.9-6.2-65.7 0.0-65.7 6.2-64.8 12.3-63.6 16.4-61.7 20.5-60.3 22.6-58.5 24.6-55.9 26.7-53.4 27.9-51.3 28.6-49.3 28.9-45.2 28.9-41.1 28.3-37 27.3-28.8 24.3-21.3 20.5-8.2 13.0-4.1 11.1 0 9.8 4.1 9.1 8.2 9.1 12.3 9.7 22.6 12.4 28.8 13.6 34.9 14.2 39 13.9 41.1 13.6 44.9 12.3 47.2 10.9 49.3 9.1 51.2 6.2 51.9 4.1 52.2 2.1 52.2 0.0 51.8-2.1 51-4.1 48.5-8.2 46.7-10.3 43.1-13.4 37-17.5 26.7-23.1 24.2-24.6 21.9-26.7 20.5-28.8 20-30.8 18.9-41.1 18-45.2 17.2-47.2 15.2-51.3 13.8-53.4 12-55.5 9.8-57.5 6.9-59.6 2.1-62.1-2.3-63.7-8.2-65.2-14.4-66.3-20.5-66.9-26.7-66.8Z"/>
<path fill="#56babb" fill-rule="evenodd" d="M-123.2-123.2 123.2-123.2 123.2 123.2-123.2 123.2ZM-32.9-68.0-37-66.6-41.1-64.5-45-61.6-47.1-59.6-49.3-56.9-51.6-53.4-53.7-49.3-55.4-45.2-59.7-30.8-66-14.4-67.7-8.2-68.5-4.1-69 0.0-69.1 4.1-68.7 10.3-67.4 16.4-65.1 22.6-63.7 25.2-61.6 27.8-59.6 29.7-57.5 31.0-53.4 32.5-51.3 32.8-47.2 32.8-43.1 32.1-39 31.0-30.8 27.9-23.4 24.6-10.3 17.5-4.1 15.0 2.1 13.6 8.2 13.6 14.4 14.8 24.6 17.4 32.9 18.6 37 18.8 41.1 18.6 45.2 17.8 47.2 17.2 49.3 16.3 51.3 15.0 53.4 13.2 55.5 10.6 56.7 8.2 57.5 5.5 57.9 2.1 57.3-2.1 55.7-6.2 53.2-10.3 49.3-14.9 45.2-18.7 35.2-26.7 30.7-30.8 29.1-32.9 27.8-34.9 23.6-45.2 20.4-51.3 17.3-55.5 15.3-57.5 12.8-59.6 9.6-61.6 4.1-64.2-2.1-66.3-8.5-67.8-16.4-69.0-22.6-69.3-28.8-68.8Z"/>
<path fill="#59bcb5" fill-rule="evenodd" d="M-123.2-123.2 123.2-123.2 123.2 123.2-123.2 123.2ZM-32.9-70.1-37-68.7-41.1-66.8-45.2-64.2-48.2-61.6-51.8-57.5-54.5-53.4-56.7-49.3-58.4-45.2-63-30.8-67.2-20.5-69.4-14.4-70.5-10.3-71.7-4.1-72.3 4.1-72.2 8.2-71.8 12.3-71 16.4-69.9 20.5-67.8 25.9-65.7 29.4-63.7 31.9-61.6 33.7-59.6 34.9-55.5 36.3-53.4 36.6-49.3 36.6-43.1 35.4-34.9 32.3-22.6 26.8-12.3 21.3-6.2 18.7-2.1 17.5 2.1 16.9 6.2 16.9 10.3 17.4 24.6 20.9 34.9 22.4 41.1 22.6 45.2 22.3 49.3 21.4 51.6 20.5 55.1 18.5 57.5 16.4 59.2 14.4 60.5 12.3 62.2 8.2 62.7 6.2 62.9 2.1 62.3-2.1 60.7-6.2 57.5-11.7 53.8-16.4 49.3-21.2 39.3-30.8 35.6-34.9 32.7-39.0 26.8-49.3 22.3-55.5 18.5-59.2 15.3-61.6 11.8-63.7 6.2-66.1 0-68.1-8.2-70.0-16.4-71.1-22.6-71.4-28.8-70.9Z"/>
<path fill="#5dbeaf" fill-rule="evenodd" d="M-123.2-123.2 123.2-123.2 123.2 123.2-123.2 123.2ZM-32.9-72.1-39-70.0-43.1-67.9-47.2-65.1-51.2-61.6-54.7-57.5-57.4-53.4-59.7-49.3-62.3-43.1-65.7-32.8-72.1-16.4-73.8-10.3-75.1-2.1-75.5 6.2-74.9 14.4-74.1 18.5-73 22.6-70.5 28.8-68.1 32.9-66.5 34.9-63.7 37.5-61.6 38.7-57.5 40.2-55.5 40.5-51.3 40.5-45.2 39.2-39 36.8-21.8 28.8-12.3 23.8-6.2 21.2-2.1 20.2 2.1 19.7 6.2 19.7 11.6 20.5 24.6 23.9 30.8 24.9 39 25.9 45.2 26.1 49.3 25.7 53.4 24.7 55.5 23.8 57.5 22.6 59.6 21.1 62.1 18.5 64.9 14.4 66.7 10.3 67.7 6.2 67.8 2.1 67.1-2.1 65.5-6.2 63.2-10.3 59.6-15.5 55.5-20.4 43.9-32.9 40.4-37.0 37-41.5 30.3-51.3 27.1-55.5 23.1-59.6 18.5-63.0 13.6-65.7 8.2-67.9 2.1-69.9-6.7-71.9-14.4-73.0-22.6-73.4-26.7-73.2Z"/>
<path fill="#60c1a9" fill-rule="evenodd" d="M-123.2-123.2 123.2-123.2 123.2 123.2-123.2 123.2ZM-32.9-74.0-37-72.7-41.1-71.1-46.9-67.8-52-63.7-54.1-61.6-57.5-57.5-61.5-51.3-64.6-45.2-73.5-22.6-76.2-14.4-77.6-8.2-78.4-2.1-78.8 6.2-78.5 12.3-77.6 18.5-76 24.6-73.6 30.8-71.9 34.2-69.8 37.3-67.8 39.6-65.7 41.4-62.6 43.1-59.6 44.2-57.5 44.5-53.4 44.5-49.3 43.7-43.1 41.6-12.3 25.9-6.2 23.5-2.1 22.5 2.1 22.0 6.2 22.1 10.3 22.7 24.6 26.4 41.1 29.2 47.2 29.6 51.3 29.4 54.7 28.8 57.5 27.8 59.6 26.8 61.6 25.3 64.5 22.6 67.8 18.4 71.1 12.3 72.4 8.2 72.9 4.1 72.4 0.0 71.1-4.1 67.8-10.3 61.8-18.5 45.8-37.0 31.5-55.5 27.6-59.6 22.6-63.7 19.3-65.7 16.4-67.2 10.3-69.6 2.6-71.9-6.2-73.8-14.4-74.9-20.5-75.3-26.7-75.1Z"/>
<path fill="#63c3a2" fill-rule="evenodd" d="M-123.2-123.2 123.2-123.2 123.2 123.2-123.2 123.2ZM-30.8-76.2-37-74.6-43.1-72.1-49.3-68.4-53.4-65.1-56.9-61.6-61.9-55.5-65.7-49.3-69.7-41.1-76.4-24.6-78.6-18.5-80.2-12.3-81.5-4.1-82 2.1-82.1 8.2-81.5 16.4-80.8 20.5-79.7 24.6-76.7 32.9-74.8 37.0-72.3 41.1-69.8 43.9-67.8 45.7-65 47.2-61.6 48.4-59.6 48.7-55.5 48.6-51.3 47.8-45.2 45.6-41.1 43.6-24.6 34.2-12.3 27.9-8.2 26.2-4.1 25.0 2.1 24.1 6.2 24.2 12.3 25.3 22.6 28.2 39 31.6 45.2 32.7 49.3 33.1 53.4 33.1 57.5 32.4 59.6 31.8 61.6 30.8 63.7 29.5 66.7 26.7 71.5 20.5 75.2 14.4 77 10.3 78 6.2 77.9 2.1 76.9-2.1 73.7-8.2 69.4-14.4 63.7-21.6 49-39.0 37.5-53.4 31.9-59.6 27.2-63.7 24.6-65.6 20.5-67.9 14.4-70.5 4.1-73.5-4.1-75.3-10.3-76.3-18.5-77.0-24.6-77.0Z"/>
<path fill="#66c59b" fill-rule="evenodd" d="M-123.2-123.2 123.2-123.2 123.2 110.1 116.6 115.0 113 118.1 107.5 123.2-123.2 123.2ZM-28.8-78.3-32.9-77.5-37-76.4-43.1-74.0-47.3-71.9-53.4-67.7-55.7-65.7-59.8-61.6-64.9-55.5-68.9-49.3-73.3-41.1-78.7-28.8-81.9-20.5-83.5-14.4-84.8-6.2-85.6 6.2-85.4 14.4-84.9 18.5-84.1 22.6-81.6 30.8-78.3 39.0-76.3 43.1-73.9 46.7-71.9 48.9-68.5 51.3-65.7 52.5-63.7 53.0-59.6 53.1-57.5 52.9-53.4 52.1-49.3 50.7-45.2 48.8-41.1 46.5-29.6 39.0-24.6 36.1-14.4 30.8-8.2 28.1-4.1 26.9 0 26.2 4.1 26.0 9.6 26.7 14.4 27.8 20.5 29.7 47.2 36.1 51.3 36.7 55.5 36.9 59.6 36.4 61.6 35.8 63.7 34.9 65.7 33.5 67.8 31.7 69.8 29.5 76.6 20.5 80.6 14.4 82.6 10.3 83.6 6.2 83.7 4.1 83.5 2.1 83 0.0 81.2-4.1 78.6-8.2 70.5-18.5 39.8-55.5 33.7-61.6 28.8-65.8 24.6-68.4 22-69.8 18.5-71.3 10-73.9 1.9-76.0-6.2-77.5-14.4-78.5-22.6-78.8Z"/>
<path fill="#6ac794" fill-rule="evenodd" d="M-123.2-123.2 123.2-123.2 123.2 94.2 115 100.1 107.3 106.8 100.6 114.1 93.8 123.2-123.2 123.2ZM-26.7-80.2-34.9-78.7-41.1-76.8-47.3-73.9-53.7-69.8-57.5-66.7-60.8-63.7-66.4-57.5-71-51.3-76.1-43.1-81.2-32.9-84.7-24.6-86.6-18.5-87.9-12.3-88.5-6.2-89.2 4.1-89.4 12.3-89.2 16.4-88.6 20.5-87.7 24.6-86.5 28.8-81.6 43.1-79.7 47.2-77.3 51.3-76 53.0-73.9 55.0-71.9 56.4-69.8 57.4-67.8 58.0-63.7 58.2-59.6 57.7-55.5 56.6-51.3 55.1-47.2 53.1-41.1 49.4-32.5 43.1-26.3 39.0-18.5 34.6-10.3 30.6-6.2 29.2 0 27.9 4.1 27.8 8.2 28.2 12.3 29.1 28.8 33.6 45.2 38.6 51.3 40.2 57.5 41.0 61.6 40.7 63.7 40.1 65.7 39.2 67.8 37.8 69.8 35.9 83.8 18.5 86.8 14.4 88.9 10.3 89.8 6.2 89.9 4.1 89.6 2.1 89 0.0 86.7-4.1 83.6-8.2 67.8-26.7 47.4-51.3 41.8-57.5 37.6-61.6 30-67.8 24.6-71.0 20.5-72.7 12.3-75.2 2.1-77.8-6.2-79.3-12.3-80.1-20.5-80.4Z"/>
<path fill="#6fc88c" fill-rule="evenodd" d="M-123.2-123.2 123.2-123.2 123.2 75.8 117.1 80.3 110.9 85.4 103.1 92.4 98.6 97.0 95.7 100.6 92.4 105.6 83.2 123.2-123.2 123.2ZM-34.9-80.3-39-79.2-43.1-77.8-47.2-75.9-50.8-73.9-56.8-69.8-63.8-63.7-71.3-55.5-74.6-51.3-79-45.2-82.8-39.0-87-30.8-88.8-26.7-90.7-20.5-92.2-12.3-93.7 8.2-93.6 16.4-93.2 20.5-92 26.7-88.8 37.0-86.5 45.2-84.2 51.3-82.2 55.2-80.1 58.3-78 60.6-76 62.3-73.9 63.4-71.9 64.1-69.8 64.3-65.7 64.1-61.6 63.1-57.5 61.6-53.4 59.7-47.2 56.4-41.1 52.4-32.1 45.2-24.6 39.9-16.4 35.1-10.3 32.2-4.1 30.3 2.1 29.5 8.2 29.9 16.4 31.9 30.8 36.2 49.3 42.9 55.5 44.8 61.6 45.8 63.7 45.8 65.7 45.5 67.8 44.7 69.8 43.4 71.9 41.5 80.1 29.7 84.2 25.2 91.2 18.5 94.2 14.4 95.2 12.3 95.8 10.3 96.2 8.2 96 4.1 94.8 0.0 93.7-2.1 90.7-6.2 73.6-24.6 56.7-45.2 49.6-53.4 43.6-59.6 39-63.7 33.9-67.8 28.8-71.2 23.1-73.9 16.4-76.0 2.1-79.6-6.2-81.1-14.4-81.9-22.6-82.0-28.8-81.5Z"/>
<path fill="#76c983" fill-rule="evenodd" d="M-123.2-123.2 123.2-123.2 123.2 48.9 121.2 49.2 119.1 49.9 117.1 51.2 115 53.2 108.6 61.6 97.1 76.0 90.4 83.5 88.2 86.3 86.3 89.5 84.2 94.4 79 113.0 76.6 119.1 74.7 123.2-123.2 123.2ZM-32.9-82.4-41.1-80.3-47.2-77.8-54.2-73.9-57.5-71.6-62.4-67.8-66.9-63.7-73-57.5-83.9-45.2-87-41.1-89.7-37.0-93-30.8-94.5-26.7-95.6-22.6-96.9-14.4-98.6 8.2-98.7 16.4-98.1 24.6-97 30.8-92.8 47.2-91.5 51.3-89.8 55.5-87.8 59.6-85.3 63.7-82.2 67.5-80.1 69.2-78 70.4-76 71.2-73.9 71.5-69.8 71.3-65.7 70.2-61.6 68.4-57.5 66.2-51.3 62.4-41.1 55.3-31.8 47.2-24.6 41.7-16.9 37.0-10.3 33.8-6.2 32.4-2.1 31.4 4.1 31.1 10.3 31.8 18.5 34.1 26.7 36.6 33.2 39.0 55.5 48.9 65.7 53.1 69.8 54.5 71.9 54.9 73.9 54.6 76 52.4 77.1 49.3 80.1 39.0 82.1 34.9 83.5 32.9 86.3 30.1 88.3 28.6 98.9 22.6 101.2 20.5 102.5 18.5 103.4 16.4 103.8 14.4 103.8 10.3 103 6.2 101.5 2.1 99.3-2.1 96.2-6.2 92.4-10.3 82.2-20.1 76-26.5 70.6-32.9 60.8-45.2 53.6-53.4 47.4-59.6 42.8-63.7 37.6-67.8 31.5-71.9 26.7-74.5 22.6-76.1 6.2-80.4-4.1-82.5-10.3-83.2-18.5-83.6-26.7-83.2Z"/>
<path fill="#7eca7a" fill-rule="evenodd" d="M-123.2-123.2 123.2-123.2 123.2 23.7 121.2 21.7 118.5 18.5 108.4 2.1 105.4-2.1 101.9-6.2 97.9-10.3 84.2-22.5 80.1-26.5 74.5-32.9 64.8-45.2 59.5-51.3 51.3-59.6 44-65.7 38.3-69.8 31.8-73.9 27.9-76.0 24.6-77.2 8.2-81.5 0-83.4-8.2-84.7-16.4-85.1-26.7-84.8-31.1-84.2-37-83.1-41.1-82.0-45.2-80.5-49.3-78.7-53.4-76.5-60.4-71.9-67.9-65.7-84.2-50.5-92.6-43.1-96.5-39.0-97.8-37.0-99.5-32.9-100.6-27.9-101.8-20.5-102.7-12.3-104.3 8.2-104.8 20.5-104.5 30.8-103.7 39.0-102.3 45.2-99.7 53.4-97.2 59.6-91.4 71.9-89.2 76.0-86.3 79.6-84.2 81.1-82.2 82.0-80.1 82.4-78 82.5-73.9 81.6-69.8 79.8-65.7 77.4-59.6 72.9-41.1 58.2-37 54.7-31.5 49.3-26.7 45.2-22.6 42.1-18.5 39.5-12.3 36.2-8.2 34.5-4.1 33.3 2.1 32.5 6.2 32.7 12.3 33.8 20.5 36.2 28.5 39.0 34.9 41.8 41.6 45.2 49.1 49.3 55.9 53.4 61.2 57.5 63.3 59.6 66.4 63.7 68.9 67.8 72 73.9 73.5 78.0 74.1 82.2 74.3 86.3 73.8 98.6 73 106.8 72.2 110.9 71 115.0 69.4 119.1 67.5 123.2-81.7 123.2-86.3 119.6-90.4 117.2-94.5 115.7-96.5 115.2-100.6 114.9-104.7 115.0-110.9 115.8-123.2 118.6Z"/>
<path fill="#86ca72" fill-rule="evenodd" d="M-123.2-123.2 123.2-123.2 123.2 9.0 112.4-2.1 106-8.2 88.3-23.1 82.2-28.8 76.8-34.9 65.4-49.3 59.7-55.5 55.4-59.6 47.9-65.7 38.9-71.9 32.9-75.4 28.8-77.4 26.7-78.3 22.6-79.5 2.1-84.7-4.1-85.8-10.3-86.5-18.5-86.7-26.7-86.2-34.9-85.1-41.1-83.6-45.2-82.3-49.3-80.6-53.4-78.5-57.7-76.0-66.3-69.8-82.2-56.5-86.3-53.4-92.4-49.4-100.5-45.2-103.1-43.1-104.5-41.1-105.4-39.0-106.6-32.9-108.6-16.4-111.9 16.4-113.6 37.0-113.6 41.1-112.9 47.2-108.7 67.8-108.4 71.9-108.6 76.0-109.5 80.1-110.2 82.2-111.1 84.2-113 87.1-115.7 90.4-117.8 92.4-123.2 96.6ZM-4.7 34.9 0 34.1 6.2 34.1 12.3 35.2 18.5 37.0 26.7 40.0 33.4 43.1 40.7 47.2 49.3 52.7 52.9 55.5 57.3 59.6 59.1 61.6 61.8 65.7 63.8 69.8 65.4 73.9 66.5 78.0 67.4 84.2 67.7 98.6 67.5 102.7 67 106.8 66.2 110.9 64.9 115.0 63.2 119.1 61 123.2 2.1 123.2-63.3 123.2-66.7 117.1-68.5 113.0-69.6 108.9-70.3 104.7-70.3 100.6-69.5 96.5-68.9 94.5-67 90.4-63 84.2-58.1 78.0-54.5 73.9-48.4 67.8-37 57.4-29 49.3-24.3 45.2-18.5 41.1-14.4 38.7-8.2 36.0Z"/>
<path fill="#90ca69" fill-rule="evenodd" d="M-123.2-123.2 123.2-123.2 123.2-0.1 113-8.2 92.4-24.1 86.3-29.2 80.8-34.9 69.6-49.3 65.9-53.4 61.6-57.7 54.6-63.7 49.1-67.8 39.2-73.9 31.2-78.0 24.6-80.5 2.1-86.4-4.1-87.5-10.3-88.1-18.5-88.2-26.7-87.7-34.9-86.6-41.1-85.3-47.2-83.3-51.3-81.5-57.5-78.2-64-73.9-82.2-60.2-88.3-56.0-94.5-52.9-104.7-49.0-107.5-47.2-109.2-45.2-111.4-41.1-112.5-37.0-118.2 4.1-123.2 33.4ZM-6.9 37.0-2.1 35.7 2.1 35.4 6.2 35.5 10.3 36.2 16.4 37.8 22.6 40.0 28.8 42.7 34.9 46.0 43 51.3 48.5 55.5 51.3 58.0 54.7 61.6 57.4 65.7 59.5 69.8 60.9 73.9 61.9 78.0 62.7 84.2 63 92.4 63 98.6 62.4 104.7 61 110.9 59.5 115.0 57.4 119.1 54.8 123.2 10.3 123.2-52.3 123.2-54.7 119.1-56.7 115.0-58.2 110.9-59.2 106.8-59.8 102.7-59.9 98.6-59.6 94.5-58.7 90.4-57.2 86.3-55.2 82.2-52.8 78.0-49.8 73.9-46.4 69.8-42.6 65.7-34.9 57.9-28.9 51.3-24.5 47.2-20.5 44.2-15.8 41.1-10.3 38.2Z"/>
<path fill="#9ac961" fill-rule="evenodd" d="M-123.2-123.2 123.2-123.2 123.2-7.0 106.8-17.9 92.4-28.5 86.3-33.7 81.7-39.0 75.6-47.2 72.2-51.3 66.2-57.5 61.6-61.6 53.3-67.8 46.8-71.9 39.3-76.0 32.9-79.0 28.8-80.7 24.6-82.0 4.1-87.5-4.1-89.2-10.3-89.7-16.4-89.8-22.6-89.5-30.8-88.8-37-87.8-43.1-86.4-49.3-84.3-53.4-82.5-57.9-80.1-64.5-76.0-82.2-63.6-88.3-59.6-94.5-56.6-104-53.4-106.8-52.3-108.9-51.1-110.9-49.6-113.3-47.2-114.8-45.2-116-43.1-117.8-39.0-119.9-30.8-123.2-13.9ZM-1 37.0 4.1 36.7 8.2 37.1 14.4 38.6 20.5 40.7 26.2 43.1 30.8 45.6 36.6 49.3 42.2 53.4 47.1 57.5 49.2 59.6 51 61.6 53.9 65.7 55.9 69.8 57.3 73.9 58.2 78.0 58.7 82.2 59.1 90.4 59 96.5 58.4 102.7 57.6 106.8 56.2 110.9 54.3 115.0 51.8 119.1 48.5 123.2 6.2 123.2-43.4 123.2-47.5 117.1-50.4 110.9-52.4 104.7-53.4 98.6-53.5 94.5-53.1 90.4-52.1 86.3-50.6 82.2-48.6 78.0-46.1 73.9-41.4 67.8-26.7 51.3-22.6 47.6-19.6 45.2-14.4 41.8-10.3 39.7-6.2 38.1Z"/>
<path fill="#a4c85a" fill-rule="evenodd" d="M-123.2-123.2 123.2-123.2 123.2-12.9 108.9-21.3 101-26.7 92.8-32.9 88.2-37.0 76.8-51.3 71-57.5 66.3-61.6 60.9-65.7 51.1-71.9 39.1-78.0 28.8-82.2 2.1-89.7-4.1-90.9-10.3-91.4-16.4-91.4-22.6-91.0-37-89.4-45.2-87.6-49.3-86.2-53.4-84.4-61.6-80.0-82.2-66.7-90.4-61.9-96.5-59.2-106.8-55.9-111.8-53.4-115-51.0-118.6-47.2-121.3-43.1-123.2-39.4ZM-4.7 39.0-2.1 38.4 2.1 38.0 6.2 38.2 10.3 38.9 14.4 39.9 20.5 42.2 26.7 45.0 30.5 47.2 36.4 51.3 41.4 55.5 45.2 58.8 47.8 61.6 50.8 65.7 51.9 67.8 53.6 71.9 54.8 76.0 55.5 82.2 55.7 90.4 55.4 96.5 54.9 100.6 54 104.7 52.6 108.9 50.6 113.0 47.2 117.6 45.2 119.9 41.7 123.2 14.4 123.2-35.4 123.2-40.2 117.1-43.1 112.4-45.8 106.8-47.7 100.6-48.4 96.5-48.6 92.4-47.9 86.3-46.8 82.2-45.1 78.0-42.8 73.9-40.1 69.8-28.4 55.5-22.4 49.3-18.5 46.0-14.2 43.1-10.3 41.1Z"/>
<path fill="#aec654" fill-rule="evenodd" d="M-123.2-123.2 123.2-123.2 123.2-18.3 115-22.5 110.9-24.8 105.1-28.8 96.9-34.9 92.4-38.8 90.4-40.9 80.1-53.4 73.8-59.6 65.9-65.7 55.9-71.9 43.5-78.0 38.6-80.1 30.8-82.9 4.1-90.9-2.1-92.3-8.2-93.0-12.3-93.1-18.5-92.8-34.9-91.3-43.1-89.8-47.2-88.7-51.3-87.3-55.5-85.5-61.6-82.2-80.1-70.9-90.4-65.1-96.5-62.3-106.8-59.2-113-56.5-117.7-53.4-120.1-51.3-123.2-48.0ZM-6.9 41.1-4.1 40.2 0 39.5 4.1 39.3 8.2 39.8 12.3 40.7 16.4 42.0 22.6 44.6 26.7 46.7 30.8 49.3 34.9 52.4 40.8 57.5 44.9 61.6 46.6 63.7 49.1 67.8 50.1 69.8 51.5 73.9 52.4 78.0 52.7 82.2 52.7 90.4 52.4 94.5 51.8 98.6 50.8 102.7 49.3 106.8 47.1 110.9 45.2 113.5 41.1 117.7 37 121.1 33.8 123.2 16.4 123.2-27.6 123.2-32.9 117.7-38 110.9-41.4 104.7-43.6 98.6-44.4 94.5-44.6 90.4-43.9 84.2-42 78.0-40 73.9-37.5 69.8-29.8 59.6-26.4 55.5-22.5 51.3-18.5 47.7-15 45.2-10.3 42.5Z"/>
<path fill="#b8c44f" fill-rule="evenodd" d="M-123.2-123.2 123.2-123.2 123.2-23.7 117.1-26.6 112.9-28.8 107.1-32.9 99.4-39.0 94.5-43.7 83.9-55.5 79.5-59.6 71.5-65.7 65-69.8 59.6-72.8 48.4-78.0 41.1-80.9 32.9-83.8 18.5-88.0 4.1-92.6-2.1-94.0-8.2-94.7-12.3-94.7-18.5-94.4-37-92.6-45.2-91.1-51.3-89.2-59.6-85.4-78-74.8-90.4-68.2-96.5-65.4-106.8-62.3-113-60.0-117.8-57.5-123.2-53.5ZM-2.3 41.1 0 40.7 4.1 40.6 8.2 41.1 12.3 42.0 16.4 43.4 20.5 45.1 24.6 47.2 28.1 49.3 31 51.3 35.8 55.5 40.3 59.6 43.9 63.7 46.6 67.8 47.6 69.8 48.5 71.9 49.6 76.0 50.1 80.1 50.2 84.2 49.9 90.4 49.4 94.5 48.5 98.6 47.2 102.7 45.2 106.8 43.8 108.9 41.1 111.9 37 115.5 30.8 119.7 24.6 123.2 14.4 123.2-19.7 123.2-22.6 120.9-26.7 117.1-30.5 113.0-33.8 108.9-37.6 102.7-39.3 98.6-40.5 94.5-41 88.3-40.7 84.2-39.8 80.1-37.4 73.9-35 69.8-32.3 65.7-24.4 55.5-20.5 51.4-18.2 49.3-14.4 46.3-10.3 43.9-6.2 42.1Z"/>
<path fill="#c2c24b" fill-rule="evenodd" d="M-123.2-123.2 123.2-123.2 123.2-29.4 117.1-32.4 113-34.9 107.5-39.0 102.7-43.2 90.6-55.5 83.5-61.6 74.7-67.8 69.8-70.6 63.2-73.9 54-78.0 41.1-82.8 20.5-88.8 4.1-94.4-2.1-95.8-6.2-96.3-10.3-96.4-16.4-96.2-37-94.2-43.1-93.3-49.3-91.8-53.4-90.3-59.6-87.5-76-78.5-92.4-70.3-98.6-67.8-108.9-64.8-113-63.4-119.1-60.5-123.2-58.0ZM-5.2 43.1-2.1 42.3 2.1 41.9 8.2 42.3 12.3 43.3 16.4 44.8 20.5 46.6 24.6 48.9 31.1 53.4 35.7 57.5 39.8 61.6 41.5 63.7 44.3 67.8 46.2 71.9 46.8 73.9 47.6 78.0 47.9 82.2 47.8 86.3 47.3 90.4 46.5 94.5 45.3 98.6 43.4 102.7 42.1 104.7 38.6 108.9 36.3 110.9 32.9 113.4 24.6 118.1 14.4 123.0 13.7 123.2-10.5 123.2-12.3 122.3-16.4 119.7-20.5 116.5-24.6 112.9-28.8 108.5-31.7 104.7-34.3 100.6-36.1 96.5-37 93.8-37.7 90.4-37.9 86.3-37.5 82.2-37.1 80.1-35.8 76.0-34.9 73.9-31.5 67.8-27.3 61.6-24.2 57.5-18.5 51.3-16.1 49.3-12.3 46.5-8.2 44.3Z"/>
<path fill="#ccc04a" fill-rule="evenodd" d="M-123.2-123.2 123.2-123.2 123.2-35.7 119.1-37.9 114.3-41.1 109.1-45.2 104.7-49.3 96.1-57.5 88.2-63.7 82.2-67.7 78.5-69.8 70.1-73.9 57.5-79.1 47.2-82.7 22.6-89.6 4.1-96.3-2.1-97.7-6.2-98.1-14.4-98.0-39-95.6-45.2-94.7-49.3-93.7-53.4-92.3-59.6-89.6-76-80.9-92.4-73.4-98.6-71.0-109.4-67.8-115-65.8-119.1-64.1-123.2-62.0ZM1.8 43.1 4.1 43.1 8.2 43.6 12.3 44.7 16.4 46.2 20.5 48.1 24.6 50.5 30.8 55.2 37.4 61.6 40.8 65.7 42.1 67.8 44 71.9 44.7 73.9 45.6 80.1 45.6 84.2 45.2 88.3 43.7 94.5 41.1 100.1 39.3 102.7 37.5 104.7 32.9 108.7 26.7 112.5 14.4 118.2 8.2 120.4 4.1 121.2 2.1 121.4-2 121.2-4.1 120.7-6.2 120.0-10.3 118.1-14.4 115.6-18.5 112.6-24.6 107.3-27 104.7-30.1 100.6-31.3 98.6-33.2 94.5-34.4 90.4-34.9 86.5-34.9 84.2-34.5 80.1-33.4 76.0-31.6 71.9-29.4 67.8-26.7 63.7-23.8 59.6-20.5 55.5-16.4 51.3-14 49.3-10.3 46.8-7.1 45.2-4.1 44.1-2.1 43.6Z"/>
<path fill="#d4bf4a" fill-rule="evenodd" d="M-123.2-123.2 123.2-123.2 123.2-42.6 119.1-45.1 115-48.1 104.7-57.1 98.6-62.1 88.3-68.9 82.2-72.3 73.6-76.0 62.3-80.1 51.3-83.6 43.1-85.8 28.8-89.2 22.6-91.0 4.1-98.2 0-99.3-6.2-100.0-14.4-99.8-26.7-98.3-41.1-97.2-47.2-96.1-51.3-95.0-55.5-93.6-59.6-91.8-76-83.3-90.4-77.2-98.6-74.1-115-69.1-123.2-65.7ZM-3.3 45.2 0 44.5 2.1 44.4 4.1 44.4 8.2 44.9 12.3 46.0 15.5 47.2 18.5 48.6 22.6 50.9 28.9 55.5 35.2 61.6 38.6 65.7 39.9 67.8 41.9 71.9 42.6 73.9 43.1 76.0 43.6 80.1 43.2 86.3 41.7 92.4 39.8 96.5 38.5 98.6 34.9 102.6 32.4 104.7 28.8 107.3 22.6 110.5 14.4 113.9 10.3 115.2 6.2 116.2 2.1 116.8 0 116.8-4.1 115.7-10.3 112.9-14.4 110.5-18.5 107.7-24 102.7-26.7 99.4-28.6 96.5-29.7 94.5-31.3 90.4-31.8 88.3-32.2 84.2-32 80.1-31.6 78.0-31 76.0-29.4 71.9-26.1 65.7-23.4 61.6-20.3 57.5-16.6 53.4-14.4 51.3-11.8 49.3-8.5 47.2-6.2 46.2Z"/>
<path fill="#ddbd4c" fill-rule="evenodd" d="M-123.2-123.2 123.2-123.2 123.2-49.9 117.1-54.2 104.9-63.7 98.9-67.8 91.9-71.9 86.3-74.8 80.1-77.3 64.6-82.2 53.4-85.3 45.2-87.3 26.7-91.2 20.5-93.2 10.3-97.8 4.1-100.2 0-101.3-6.2-102.0-14.4-101.6-28.8-99.7-41.1-99.0-47.2-98.0-51.3-97.0-55.5-95.7-59.6-94.0-73.9-86.6-82.2-83.2-96.5-77.8-115-72.3-123.2-69.2ZM-5.4 47.2-2.1 46.2 0 45.8 2.1 45.6 6.2 45.9 12.3 47.4 18.5 50.1 24.6 54.0 28.8 57.3 31.1 59.6 36.5 65.7 37.9 67.8 39.9 71.9 40.6 73.9 41.4 78.0 41.6 80.1 41.3 84.2 40.5 88.3 39.8 90.4 37.9 94.5 34.7 98.6 32.9 100.3 28.8 103.4 22.6 106.9 16.4 109.4 12.3 110.6 8.2 111.4 2.1 111.7 0 111.4-4.1 110.4-10.3 108.1-16.4 104.6-21.2 100.6-24.8 96.5-26.7 93.4-28.1 90.4-29.3 86.3-29.5 84.2-29.5 80.1-29.3 78.0-28.1 73.9-25.2 67.8-21.5 61.6-16.4 55.2-12.3 51.4-10.3 49.9Z"/>
<path fill="#e5bc50" fill-rule="evenodd" d="M-123.2-123.2 123.2-123.2 123.2-57.1 106.8-68.3 100.9-71.9 94.5-75.3 88.8-78.0 83.5-80.1 53.4-87.7 45.2-89.3 32.9-91.2 26.7-92.6 21.2-94.5 10.3-99.9 4.1-102.4 0-103.5-6.2-104.1-14.4-103.5-28.8-101.4-43.1-100.6-47.2-100.0-51.3-99.1-59.6-96.2-65.7-93.3-73.9-89.1-82.2-85.7-96.5-80.8-115-75.5-123.2-72.6ZM-0.9 47.2 2.1 46.9 4.1 46.9 6.5 47.2 10.3 48.1 16.4 50.6 21.3 53.4 26.7 57.5 32.9 63.7 35.9 67.8 38 71.9 38.7 73.9 39.5 78.0 39.6 80.1 39.3 84.2 38.2 88.3 37.3 90.4 34.9 94.3 32.9 96.6 30.8 98.4 24.6 102.5 18.5 105.4 13.5 106.8 8.2 107.5 4.1 107.4-6.2 105.4-10.3 103.9-12.3 103.0-16.4 100.4-20.7 96.5-23.7 92.4-24.9 90.4-26.4 86.3-26.8 84.2-27.1 80.1-26.5 76.0-24.2 69.8-22.1 65.7-19.5 61.6-14.7 55.5-10.3 51.5-6.2 49.0-4.1 48.1Z"/>
<path fill="#ecbc55" fill-rule="evenodd" d="M-123.2-123.2 123.2-123.2 123.2-63.8 110.1-71.9 104.7-74.9 98.5-78.0 92.4-80.7 86.3-83.0 82.2-84.1 53.4-90.1 45.2-91.3 32.9-92.8 26.7-94.0 20.4-96.5 10.3-102.1 6.2-104.0 0-105.8-6.2-106.3-12.3-105.8-28.8-103.2-43.1-102.6-47.2-102.1-51.3-101.2-59.6-98.5-65.7-95.7-76-90.7-82.2-88.3-96.5-83.7-115-78.6-123.2-76.0ZM-3.5 49.3 0 48.4 2.1 48.2 6.2 48.5 9.5 49.3 12.3 50.3 18.5 53.3 24.4 57.5 28.9 61.6 32.5 65.7 33.9 67.8 36.1 71.9 37.3 76.0 37.6 78.0 37.5 82.2 36.6 86.3 34.7 90.4 32.9 93.0 30.8 95.1 28.8 96.8 22.6 100.6 17.5 102.7 12.3 103.9 8.2 104.2 6.2 104.1-4.1 102.3-8.2 101.1-12.3 99.2-14.4 97.9-18.3 94.5-21.5 90.4-23.4 86.3-24.4 82.2-24.5 78.0-24.1 76.0-22.9 71.9-20.1 65.7-16.1 59.6-12.6 55.5-8.2 51.7-6.2 50.5Z"/>
<path fill="#f2bf57" fill-rule="evenodd" d="M-123.2-123.2 123.2-123.2 123.2-70.0 112.4-76.0 104.7-79.8 98.6-82.5 92.4-84.8 87.8-86.3 82.2-87.6 53.4-92.5 47.2-93.2 32.9-94.4 28.8-95.0 24.6-96.3 22.6-97.2 20-98.6 10.3-104.5 6.2-106.5 2.1-107.9 0-108.3-4.1-108.6-10.3-108.2-28.8-105.2-43.1-104.6-47.2-104.2-51.3-103.4-55.5-102.2-61.6-99.9-76-93.3-82.2-91.0-94.5-87.2-115-81.8-123.2-79.3ZM-4.9 51.3-2.1 50.2 0 49.7 4.1 49.6 6.2 49.9 10.3 51.0 15.7 53.4 19.1 55.5 22 57.5 26.8 61.6 30.8 66.2 33.2 69.8 34.2 71.9 35.4 76.0 35.7 80.1 35 84.2 33.3 88.3 30.8 91.8 27.8 94.5 22.6 97.8 18.5 99.6 16.4 100.2 12.3 101.0 8.2 101.2 4.1 100.9 0 100.1-6.2 98.5-10.3 96.8-14.4 94.0-17.9 90.4-20.3 86.3-21.6 82.2-21.9 78.0-21.3 73.9-19 67.8-15.6 61.6-12.5 57.5-8.2 53.5Z"/>
<path fill="#f5c456" fill-rule="evenodd" d="M-123.2-123.2 123.2-123.2 123.2-75.8 114.5-80.1 105.3-84.2 93.8-88.3 88.3-89.8 82.2-91.0 53.4-95.1 45.2-95.6 32.9-96.1 28.8-96.6 26.7-97.2 23.5-98.6 20.1-100.6 12.3-106.0 6.2-109.3 2.1-110.6 0-111.0-4.1-111.2-10.3-110.5-26.7-107.6-30.8-107.2-45.2-106.5-51.3-105.6-55.5-104.5-61.6-102.3-76-96.1-84.2-93.1-94.5-90.1-115-84.9-123.2-82.6ZM-0.9 51.3 2.1 50.9 4.1 51.0 8.2 51.9 12.4 53.4 18.5 56.8 24.5 61.6 28.4 65.7 31.2 69.8 32.9 73.4 33.6 76.0 33.8 80.1 32.9 84.2 30.8 88.2 28.8 90.6 24.6 93.9 20.5 96.1 16.4 97.5 12.3 98.3 6.2 98.4 0 97.4-6.2 95.5-10.3 93.3-13.9 90.4-16.4 87.2-18 84.2-19.2 80.1-19.2 76.0-18.4 71.9-15.9 65.7-14.4 62.9-12.1 59.6-8.3 55.5-6.2 53.8-4.1 52.6Z"/>
<path fill="#f5c955" fill-rule="evenodd" d="M-123.2-123.2 123.2-123.2 123.2-81.3 113-85.7 104.7-88.9 98.6-90.9 92.4-92.5 86.3-93.8 80.1-94.7 61.6-97.0 53.4-97.8 45.2-98.1 32.9-97.9 28.8-98.4 26.7-99.0 23.6-100.6 14.4-107.8 8.2-111.4 6.2-112.2 2.1-113.5-2.1-113.9-8.2-113.3-20.5-110.8-26.7-109.8-30.8-109.4-45.2-108.7-49.3-108.2-53.4-107.3-61.6-104.8-78-98.1-84.2-95.9-94.5-93.1-123.2-85.9ZM-2.4 53.4 0 52.6 2.1 52.5 4.1 52.6 8.2 53.4 14.4 56.2 19.6 59.6 24.3 63.7 27.8 67.8 30.3 71.9 31.1 73.9 31.7 76.0 31.9 78.0 31.8 80.1 31.3 82.2 30.6 84.2 28.8 87.2 25.6 90.4 22.6 92.4 17.9 94.5 12.3 95.8 8.2 95.9 4.1 95.5-2.1 94.0-6.2 92.3-9.4 90.4-12.3 87.7-14.8 84.2-16.3 80.1-16.6 76.0-16.1 71.9-14.7 67.8-12.7 63.7-9.9 59.6-6.2 55.8Z"/>
<path fill="#f5cf54" fill-rule="evenodd" d="M-123.2-123.2 123.2-123.2 123.2-86.5 113-90.4 102.7-93.8 94.5-95.9 86.3-97.4 61.6-100.1 49.3-100.8 43.1-100.7 32.9-100.1 28.8-100.4 26.7-101.2 24.5-102.7 16.4-109.9 11.6-113.0 8.2-114.6 4.1-116.0 0-116.7-2.1-116.7-8.2-115.9-18.5-113.5-26.7-112.1-32.9-111.6-45.2-110.9-53.4-109.6-61.6-107.2-78-100.9-86.3-98.2-96.5-95.5-123.2-89.2ZM-2.7 55.5 0 54.4 2.1 54.1 4.1 54.2 8.2 55.2 12.3 56.9 16.4 59.4 20.5 62.5 23.8 65.7 27.1 69.8 28.8 73.0 29.7 76.0 29.9 78.0 29.7 80.1 29.1 82.2 28.1 84.2 26.7 86.1 24.6 88.1 21.3 90.4 18.5 91.7 14.4 92.9 10.3 93.3 6.2 93.2 0 91.9-4.1 90.2-7.2 88.3-10.3 85.5-12.3 82.5-13.3 80.1-14 76.0-13.6 71.9-12.4 67.8-10.5 63.7-8.2 60.4-5.5 57.5Z"/>
<path fill="#f4d554" fill-rule="evenodd" d="M-123.2-123.2 123.2-123.2 123.2-91.5 113-95.0 104.7-97.4 96.5-99.3 88.3-100.8 80.1-101.8 61.6-103.5 53.4-103.9 47.2-104.0 41.1-103.8 30.8-103.0 28.8-103.5 26.9-104.7 23.2-108.9 21-110.9 18.2-113.0 14.4-115.2 10.3-117.1 6.2-118.5 2.1-119.3-2.1-119.4-8.2-118.5-18.5-116.1-24.6-114.9-30.8-114.1-45.2-113.2-53.4-111.9-61.6-109.8-80.1-103.1-88.3-100.6-123.2-92.5ZM-2.3 57.5 0 56.4 2.1 56.0 6.2 56.5 10.3 58.0 14.4 60.2 18.5 63.2 21.2 65.7 24.7 69.8 26.7 73.4 27.5 76.0 27.7 78.0 27.4 80.1 26.5 82.2 24.6 84.7 22.6 86.6 18.5 88.9 16.4 89.7 12.3 90.6 8.2 90.7 4.1 90.2 0 89.0-4.1 86.9-7.4 84.2-9 82.2-10.3 79.7-11.2 76.0-11.2 73.9-10.6 69.8-10 67.8-8 63.7-6.6 61.6-4.8 59.6Z"/>
<path fill="#f3db54" fill-rule="evenodd" d="M-123.2-123.2 123.2-123.2 123.2-96.3 113-99.4 104.7-101.6 94.5-103.6 82.2-105.3 59.6-107.1 41.1-108.0 37-108.4 34.8-108.9 32.9-109.8 28.6-113.0 14.4-119.2 10.3-120.6 6.2-121.6 0-122.2-6.2-121.6-20.5-118.3-26.7-117.2-47.2-115.3-55.5-113.9-63.7-111.7-80.1-106.1-88.3-103.7-98.6-101.2-123.2-95.8ZM-1.1 59.6 0 59.0 2.1 58.4 4.1 58.4 8.2 59.3 10.3 60.2 12.9 61.6 16.4 64.1 20.3 67.8 22 69.8 24.4 73.9 25 76.0 25.1 78.0 24.6 80.1 22.6 83.0 20.5 84.7 17.9 86.3 14.4 87.4 10.3 88.0 8.2 87.9 4.1 87.3 1 86.3-2.1 84.6-4.1 83.0-6.2 80.6-7.5 78.0-8.1 76.0-8.4 73.9-7.9 69.8-6.5 65.7-5.2 63.7-3.6 61.6Z"/>
<path fill="#f2e154" fill-rule="evenodd" d="M-123.2-123.2-11.7-123.2-22.6-120.6-30.8-119.4-47.2-117.8-55.5-116.4-63.7-114.4-82.2-108.5-90.4-106.2-123.2-99.1ZM13.4-123.2 123.2-123.2 123.2-102.7 123.2-101.1 108.9-104.8 94.5-107.6 82.2-109.1 49.3-111.8 43.1-112.8 39-114.0 30.8-117.8ZM1.6 61.6 4.1 61.2 6.2 61.4 8.2 62.0 11.7 63.7 14.4 65.5 17 67.8 18.8 69.8 20.2 71.9 21.2 73.9 21.7 76.0 21.6 78.0 20.7 80.1 18.5 82.3 14.6 84.2 10.3 84.9 6.2 84.6 4.1 84.1 0 82.1-2.2 80.1-3.7 78.0-4.6 76.0-5 73.9-5.1 71.9-4.8 69.8-4.2 67.8-3.2 65.7-1.6 63.7 0 62.4Z"/>
<path fill="#f2e755" fill-rule="evenodd" d="M-123.2-123.2-24.1-123.2-30.8-122.1-41.1-121.0-49.3-120.1-57.5-118.6-65.7-116.5-82.2-111.6-90.4-109.4-123.2-102.4ZM28.1-123.2 123.2-123.2 123.2-106.8 123.2-105.8 106.8-109.5 92.4-111.9 59.4-115.0 49.3-116.4 43.1-117.9 32.9-121.7ZM2.1 65.7 4.1 65.0 6.2 65.0 8.2 65.4 10.3 66.4 12.3 67.7 14.6 69.8 16.4 72.5 17 73.9 17.3 76.0 16.6 78.0 14.3 80.1 12.3 80.8 10.3 81.2 8.2 81.2 6.2 80.8 4.1 80.0 1.4 78.0-0.2 76.0-0.9 73.9-1.1 71.9-0.8 69.8 0 67.9Z"/>
<path fill="none" stroke="#0b0b14" stroke-width="1.05" stroke-linejoin="round" d="M-30.8-66.0-32.9-65.5-37-64.1-39-63.0-41.1-61.7-43.7-59.6-45.6-57.5-47.2-55.5-48.4-53.4-49.5-51.3-51.3-47.2-52.6-43.1-55.4-32.9-56.7-28.8-58.2-24.6-61.6-16.4-63.7-10.3-64.7-6.2-65.1-4.1-65.5 0.0-65.6 4.1-65.5 6.2-65 10.3-64 14.4-63.3 16.4-62.4 18.5-61.3 20.5-60 22.6-58.1 24.6-55.5 26.6-53.4 27.6-51.3 28.2-49.3 28.6-47.2 28.8-45.2 28.7-43.1 28.5-39 27.6-35.8 26.7-32.9 25.7-26.7 23.1-21.6 20.5-12.3 14.9-8.2 12.7-4.1 10.8 0 9.4 2.1 9.0 4.1 8.7 6.2 8.6 10.3 8.9 14.4 9.7 23.9 12.3 26.7 12.9 30.8 13.5 34.9 13.8 39 13.5 41.1 13.2 43.1 12.6 45.2 11.7 47.2 10.4 49.3 8.4 50.7 6.2 51.5 4.1 51.8 2.1 51.8 0.0 51.4-2.1 50.6-4.1 49.5-6.2 48-8.2 46.1-10.3 43.8-12.3 41.1-14.4 39-15.8 34.9-18.1 26.3-22.6 23.1-24.6 21-26.7 19.8-28.8 19.4-30.8 18.7-39.0 18.5-41.1 17.6-45.2 16.9-47.2 16-49.3 14.8-51.3 13.4-53.4 11.7-55.5 10.3-56.7 9.4-57.5 6.5-59.6 2.6-61.6-3-63.7-8.2-65.0-14.4-66.1-20.5-66.7-24.6-66.8-26.7-66.6-30.8-66.0M-34.9-76.1-39-74.7-43.1-73.0-45.3-71.9-49.3-69.5-53.4-66.3-56.3-63.7-58.3-61.6-61.7-57.5-63.3-55.5-66-51.3-68.3-47.2-70.4-43.1-77.4-26.7-79-22.6-80.4-18.5-81.5-14.4-82.3-10.3-82.9-6.2-83.3-2.1-83.6 4.1-83.7 8.2-83.6 12.3-83.2 16.4-82.5 20.5-81.5 24.6-80.2 28.8-78.6 32.9-75.9 39.0-73.9 42.3-71.7 45.2-69.8 47.0-67.8 48.5-65.7 49.5-63.7 50.2-61.6 50.6-59.6 50.7-57.5 50.7-55.5 50.4-51.3 49.5-47.2 48.0-43.1 46.1-39 43.7-28.1 37.0-22.6 34.0-14.4 29.8-10.3 27.9-6.2 26.4-4.1 25.9 0 25.2 4.1 25.0 6.2 25.2 10.3 25.8 14.4 26.8 20.8 28.8 41.1 33.3 45.2 34.1 49.3 34.7 53.4 34.9 55.5 34.7 57.5 34.4 59.6 33.9 61.6 33.2 63.7 32.1 65.7 30.5 67.8 28.4 69.3 26.7 72.4 22.6 76.5 16.4 78.7 12.3 79.5 10.3 80.2 8.2 80.5 6.2 80.6 4.1 80.5 2.1 80 0.0 79.3-2.1 77.2-6.2 74.5-10.3 71.5-14.4 66.5-20.5 51.1-39.0 41.2-51.3 35.8-57.5 31.6-61.6 29.2-63.7 26.5-65.7 23.2-67.8 19-69.8 16.4-70.8 13.2-71.9 6.1-73.9 0-75.4-6.2-76.6-12.3-77.4-16.4-77.7-22.6-77.9-26.7-77.7-30.8-77.0-34.9-76.1M123.2 118.1 116.5 123.2M123.2 14.3 119.1 9.7 111.1 0.0 105.4-6.2 98.9-12.3 86.3-23.1 82.4-26.7 80.1-29.0 75.1-34.9 65.4-47.2 61.8-51.3 57.9-55.5 53.6-59.6 51.3-61.6 46.2-65.7 40.4-69.8 33.9-73.9 28.8-76.6 26.7-77.5 24.6-78.2 8.2-82.5 2.1-84.0-4.1-85.1-8.2-85.6-12.3-85.9-18.5-86.0-24.6-85.8-28.8-85.4-32.9-84.8-37-84.0-41.1-82.9-45.2-81.5-49.3-79.8-52.7-78.0-55.5-76.5-59.3-73.9-64.9-69.8-69.8-65.7-82.2-54.8-86.3-51.5-90.4-48.5-95.5-45.2-98.4-43.1-100.6-40.9-101.8-39.0-102.7-37.0-103.2-34.9-104-30.8-105.4-20.5-106.2-12.3-108.2 10.3-108.7 16.4-109.1 24.6-109.5 34.9-109.4 39.0-108.9 43.1-107.5 49.3-105.6 55.5-101.1 67.8-100.1 71.9-99.4 76.0-99 80.1-98.9 84.2-99 86.3-99.4 88.3-100 90.4-101 92.4-102.5 94.5-104.5 96.5-107.1 98.6-110.9 100.9-117.1 104.1-123.2 106.9M-69.5 123.2-71 121.2-73.5 117.1-75.6 113.0-77.3 108.9-78.4 104.7-78.6 102.7-78.5 100.6-78.1 98.6-77.4 96.5-76.3 94.5-74.9 92.4-73.2 90.4-69.4 86.3-54.8 71.9-47.9 65.7-39 58.1-37 56.2-30.1 49.3-27.8 47.2-24.6 44.7-22.6 43.1-18.5 40.4-14.4 38.1-10.3 36.2-8.2 35.4-4.1 34.1-2.1 33.7 2.1 33.4 4.1 33.4 8.2 33.8 12.3 34.6 16.4 35.8 22.6 37.8 26.7 39.3 30.9 41.1 35.1 43.1 39 45.2 46.1 49.3 52.4 53.4 55.2 55.5 57.6 57.5 59.6 59.6 61.3 61.6 62.8 63.7 65.2 67.8 66.1 69.8 67.1 71.9 68.5 76.0 69.1 78.0 69.7 82.2 69.9 84.2 70.1 88.3 70 100.6 69.7 104.7 69.1 108.9 68.1 113.0 66.7 117.1 64.8 121.2 63.7 123.2M123.2-23.1 117.1-26.0 113-28.2 109-30.8 103.5-34.9 98.6-39.0 94.5-42.9 85.2-53.4 81.1-57.5 78.9-59.6 76-61.9 70.8-65.7 65.7-69.0 60.7-71.9 52.4-76.0 47.8-78.0 42.8-80.1 37.2-82.2 31-84.2 18.5-87.8 6.2-91.9 0-93.4-4.1-94.1-8.2-94.5-14.4-94.5-20.5-94.1-32.9-92.9-37-92.4-41.1-91.8-45.2-90.9-49.3-89.7-53.4-88.1-59.6-85.2-78-74.5-88.3-68.9-92.4-66.8-96.5-65.1-108-61.6-113.2-59.6-117.1-57.5-119.1-56.2-123.2-53.0M-20.6 123.2-23.1 121.2-26.7 117.9-30.8 113.4-34.9 108.1-37 104.9-38.1 102.7-39.8 98.6-40.4 96.5-41.2 92.4-41.4 90.4-41.3 86.3-40.6 82.2-40.1 80.1-39.4 78.0-37.6 73.9-36.5 71.9-34 67.8-29.5 61.6-26.3 57.5-22.8 53.4-20.7 51.3-18.5 49.3-15.9 47.2-12.8 45.2-10.3 43.7-8.2 42.8-4.1 41.4-2.1 40.9 2.1 40.5 4.1 40.5 8.2 40.9 10.3 41.3 14.4 42.5 18.5 44.0 21 45.2 25 47.2 28.8 49.6 31.2 51.3 33.8 53.4 38.4 57.5 42.5 61.6 44.2 63.7 45.7 65.7 46.9 67.8 47.9 69.8 48.7 71.9 49.3 73.9 49.8 76.0 50.4 80.1 50.5 84.2 50.2 90.4 49.7 94.5 48.9 98.6 47.6 102.7 46.7 104.7 45.2 107.6 43.1 110.3 41.1 112.6 39 114.5 37 116.1 32.9 119.0 28.8 121.5 25.6 123.2M123.2-58.5 109.5-67.8 102.8-71.9 99.1-73.9 94.5-76.3 90.4-78.2 85.9-80.1 80.1-81.8 55.5-87.7 47.2-89.3 32.9-91.5 28.8-92.3 26.7-92.9 22.6-94.3 20.5-95.1 17.6-96.5 10.3-100.3 6.2-102.1 2.1-103.5 0-104.0-4.1-104.5-8.2-104.5-12.3-104.2-28.8-101.8-39-101.4-43.1-101.0-47.2-100.5-51.3-99.5-55.5-98.3-59.6-96.7-65.7-93.8-73.9-89.6-78-87.8-82.2-86.3-96.5-81.4-115-76.1-119.1-74.8-123.2-73.3M1.3 47.2 4.1 47.2 6.2 47.5 8.2 47.9 12.3 49.1 16.4 50.9 18.5 52.0 20.8 53.4 23.7 55.5 26.3 57.5 28.8 59.8 32.4 63.7 34.1 65.7 35.5 67.8 36.7 69.8 37.6 71.9 38.3 73.9 38.8 76.0 39.1 78.0 39.2 80.1 39 82.7 38.3 86.3 37.7 88.3 36.8 90.4 35.6 92.4 34.1 94.5 32.9 95.9 30.8 97.7 28.8 99.2 24.6 101.9 20.5 103.9 16.4 105.4 14.4 106.0 10.3 106.6 8.2 106.8 4.1 106.6-4.1 105.1-6.2 104.6-8.2 104.0-10.3 103.1-12.3 102.1-14.4 100.9-17.6 98.6-19.7 96.5-21.5 94.5-23 92.4-24.6 89.3-25.8 86.3-26.2 84.2-26.5 82.2-26.6 80.1-26.4 78.0-26 76.0-25.4 73.9-23.7 69.8-21.6 65.7-19.1 61.6-17.7 59.6-14.4 55.6-12.3 53.6-10.3 51.9-8.2 50.4-6.2 49.3-4.1 48.4-2.1 47.7 0 47.3 1.3 47.2M123.2-89.2 113-92.8 107.9-94.5 102.7-96.0 94.5-97.9 86.3-99.3 80.1-100.1 63.7-101.7 53.4-102.4 47.2-102.5 43.1-102.3 32.9-101.5 30.8-101.5 28.8-101.8 26.7-102.7 24.5-104.7 20.5-108.8 18.5-110.6 16.4-112.1 14.4-113.4 10.3-115.5 6.2-117.0 2.1-118.0 0-118.2-2.1-118.1-6.2-117.6-10.3-116.8-18.5-114.8-26.7-113.4-32.9-112.8-45.2-112.1-49.3-111.6-53.4-110.8-57.5-109.8-61.6-108.6-66.7-106.8-78-102.5-86.3-99.8-96.5-97.1-115-92.9-123.2-90.9M-0.3 55.5 2.1 55.1 4.1 55.2 5.6 55.5 8.2 56.2 10.3 57.0 12.3 58.0 14.4 59.2 16.4 60.5 20.4 63.7 22.6 65.8 24.3 67.8 25.8 69.8 27.1 71.9 28 73.9 28.6 76.0 28.8 78.0 28.5 80.1 27.8 82.2 26.6 84.2 24.6 86.4 22.6 88.1 20.5 89.3 18.5 90.3 16.4 91.0 14.4 91.5 12.3 91.8 10.3 92.0 8.2 92.0 4.1 91.5 0 90.4-2.1 89.6-4.5 88.3-7.3 86.3-9.3 84.2-10.3 82.8-11.6 80.1-12.2 78.0-12.5 76.0-12.5 73.9-12.3 71.9-11.8 69.8-11.2 67.8-10.3 65.7-9.2 63.7-7.9 61.6-6.2 59.6-4 57.5-2.1 56.2-0.3 55.5"/>
<path d="M-28.3 -101.8h.01M28.3 -101.8h.01M-26.4 -77.7h.01M26.4 -77.7h.01M-73.7 -63.7h.01M-37.0 -56.3h.01M0.0 -54.1h.01M37.0 -56.3h.01M73.7 -63.7h.01M-86.8 -35.8h.01M-64.4 -31.6h.01M-19.9 -28.5h.01M19.9 -28.5h.01M64.4 -31.6h.01M86.8 -35.8h.01M-91.3 0.0h.01M-45.6 0.0h.01M0.0 0.0h.01M45.6 0.0h.01M91.3 0.0h.01M-86.8 35.8h.01M-64.4 31.6h.01M-19.9 28.5h.01M19.9 28.5h.01M64.4 31.6h.01M86.8 35.8h.01M-73.7 63.7h.01M-37.0 56.3h.01M0.0 54.1h.01M37.0 56.3h.01M73.7 63.7h.01M-53.2 85.3h.01M-26.4 77.7h.01M26.4 77.7h.01M53.2 85.3h.01M-27.8 99.8h.01M0.0 105.0h.01M27.8 99.8h.01" stroke="#101018" stroke-width="2.6" stroke-linecap="round" fill="none"/>
</g>
<circle r="114.1" fill="none" stroke="#000" stroke-width="1.75"/>
<path d="M-20.8 -112.4L0 -132.1L20.8 -112.4" fill="none" stroke="#000" stroke-width="1.5" stroke-linejoin="miter"/>
<path d="M-114.1 -16.3C-115.2 -19.1 -122.3 -20.3 -123.2 -13.7C-123.2 -6.8 -123.8 0.0 -124.4 6.8C-124.9 13.7 -126.0 19.4 -125.5 22.8C-124.9 28.5 -120.9 32.4 -117.0 31.4C-114.1 30.6 -112.4 28.5 -111.5 26.9" fill="none" stroke="#000" stroke-width="1.5"/>
<path d="M114.1 -16.3C115.2 -19.1 122.3 -20.3 123.2 -13.7C123.2 -6.8 123.8 0.0 124.4 6.8C124.9 13.7 126.0 19.4 125.5 22.8C124.9 28.5 120.9 32.4 117.0 31.4C114.1 30.6 112.4 28.5 111.5 26.9" fill="none" stroke="#000" stroke-width="1.5"/>
</g>
<linearGradient id="cb6" x1="0" y1="0" x2="0" y2="1"><stop offset="0.0000" stop-color="#f9fb56"/><stop offset="0.0312" stop-color="#f4ef55"/><stop offset="0.0625" stop-color="#f2e455"/><stop offset="0.0938" stop-color="#f4d854"/><stop offset="0.1250" stop-color="#f5cc55"/><stop offset="0.1562" stop-color="#f4c157"/><stop offset="0.1875" stop-color="#e9bc52"/><stop offset="0.2188" stop-color="#d9be4b"/><stop offset="0.2500" stop-color="#c7c14a"/><stop offset="0.2812" stop-color="#b3c551"/><stop offset="0.3125" stop-color="#9fc95d"/><stop offset="0.3438" stop-color="#8bca6d"/><stop offset="0.3750" stop-color="#7aca7f"/><stop offset="0.4062" stop-color="#6dc88f"/><stop offset="0.4375" stop-color="#65c49e"/><stop offset="0.4688" stop-color="#5fc0ac"/><stop offset="0.5000" stop-color="#58bbb8"/><stop offset="0.5312" stop-color="#53b6c4"/><stop offset="0.5625" stop-color="#51b0cf"/><stop offset="0.5938" stop-color="#51a9d8"/><stop offset="0.6250" stop-color="#4fa1de"/><stop offset="0.6562" stop-color="#4c97e2"/><stop offset="0.6875" stop-color="#4b8ee9"/><stop offset="0.7188" stop-color="#4884f0"/><stop offset="0.7500" stop-color="#4778f4"/><stop offset="0.7812" stop-color="#4a6df6"/><stop offset="0.8125" stop-color="#4b61f3"/><stop offset="0.8438" stop-color="#4a57ee"/><stop offset="0.8750" stop-color="#484ce7"/><stop offset="0.9062" stop-color="#4641dc"/><stop offset="0.9375" stop-color="#4337cd"/><stop offset="0.9688" stop-color="#3f2fb8"/><stop offset="1.0000" stop-color="#3a27a2"/></linearGradient>
<rect x="1964.80" y="139.00" width="12.00" height="244.40" fill="url(#cb6)" stroke="#202020" stroke-width="1"/>
<text transform="translate(1982.30 142.80) scale(1.280 1)" class="cs">0.5</text>
<text transform="translate(1982.30 224.27) scale(1.280 1)" class="cs">0</text>
<text transform="translate(1982.30 305.73) scale(1.280 1)" class="cs">-0.5</text>
<text transform="translate(1982.30 387.20) scale(1.280 1)" class="cs">-1</text>
<path d="M1976.80 139.00h-2.5M1976.80 220.47h-2.5M1976.80 301.93h-2.5M1976.80 383.40h-2.5" stroke="#202020" stroke-width="1" fill="none"/>
<text x="1828.00" y="396.40" text-anchor="middle" class="th">Theta power (5-7 Hz)</text>
<text x="1828.00" y="424.70" text-anchor="middle" class="th">200-1000 ms</text>
<g transform="translate(762.4 779.3)">
<clipPath id="cp_t3"><circle r="114.0"/></clipPath>
<g clip-path="url(#cp_t3)">
<rect x="-115" y="-115" width="230" height="230" fill="#4134c5"/>
<path fill="#4339d1" fill-rule="evenodd" d="M-123.1-123.1 123.1-123.1 123.1 123.1-123.1 123.1ZM-2.1-62.0-4.1-61.4-6.2-60.3-7.3-59.5-9.1-57.5-10.2-55.4-10.8-53.4-11.1-51.3-10.8-47.2-10.3-45.0-8.6-41.0-6.2-37.6-4.1-35.8-2.1-34.9 0-34.7 2.1-35.3 4.1-36.4 6.2-38.2 8.2-40.6 10.3-44.0 11.6-47.2 12.2-49.2 12.6-53.4 12.4-55.4 11.7-57.5 10.4-59.5 7.5-61.6 4.1-62.4 2.1-62.5Z"/>
<path fill="#4540da" fill-rule="evenodd" d="M-123.1-123.1 123.1-123.1 123.1 123.1-123.1 123.1ZM-4.1-67.8-8.2-66.6-10.3-65.5-12.3-63.9-14.3-61.6-15.4-59.5-16.6-55.4-16.9-53.4-17-49.2-16.5-45.1-15.6-41.0-10.6-26.7-9.1-20.5-8.6-14.4-9.3-4.1-8.8 0.0-8.2 1.6-6.2 3.1-4.1 2.8-2.1 1.5 0.4-2.1 2.1-6.6 3.7-14.4 5.6-20.5 9.2-28.7 14.7-39.0 17.3-45.1 18.8-51.3 19.1-55.4 19-57.5 18.5-60.8 17.4-63.6 15.9-65.7 14.4-66.9 12.9-67.7 10.3-68.5 6.2-68.9Z"/>
<path fill="#4746e2" fill-rule="evenodd" d="M-123.1-123.1 123.1-123.1 123.1 123.1-123.1 123.1ZM-2.1-74.0-6.2-73.4-10.3-72.2-14.4-70.2-16.4-68.5-18.7-65.7-20.5-61.6-21.5-57.5-21.9-53.4-21.8-49.2-21.5-45.1-20.5-39.1-18.7-30.8-18.3-26.7-18.4-22.6-19-18.5-21.7-6.2-22.6 0.0-22.6 6.2-21.6 12.3-20.5 16.3-19.6 18.5-18.5 20.5-16.4 22.8-14.4 23.9-12.3 24.3-10.3 24.3-8.2 23.9-4.1 22.5-0.4 20.5 2.1 18.8 4.1 17.1 6.8 14.4 8.5 12.3 11.2 8.2 12.3 6.0 13.9 2.1 14.9-2.1 15.5-6.2 15.5-20.5 16.1-26.7 17.2-30.8 20.6-39.0 22.6-45.1 23.9-51.3 24.4-57.5 24-63.6 22.9-67.7 21.8-69.8 20.5-71.3 18.5-72.7 16.4-73.7 14.4-74.2 10.3-74.8 4.1-74.7Z"/>
<path fill="#494de8" fill-rule="evenodd" d="M-123.1-123.1 123.1-123.1 123.1 123.1-123.1 123.1ZM-8.2-78.3-14.4-76.4-16.4-75.4-18.9-73.9-21-71.8-22.5-69.8-23.6-67.7-25-63.6-26-57.5-26.2-51.3-25.9-45.1-24.3-30.8-24.2-26.7-25-20.5-28.5-6.2-29.1-2.1-29.4 2.1-29.1 8.2-27.4 18.5-25.2 26.7-24.4 28.7-22.6 32.0-20.5 33.9-18.5 34.9-16.4 35.2-12.3 34.7-6.2 32.7 2.1 29.0 5.9 26.7 8.6 24.6 12.3 20.9 14.2 18.5 16.9 14.4 19.1 10.3 20.9 6.2 22.3 2.1 23.1-2.1 23.6-8.2 22.5-22.6 22.6-26.7 23.3-30.8 26.7-42.4 28-49.2 28.9-57.5 29-61.6 28.7-65.1 27.8-69.8 27-71.8 25.9-73.9 24.1-75.9 20.5-77.8 14.4-79.3 8.2-79.9 0-79.6Z"/>
<path fill="#4a54ed" fill-rule="evenodd" d="M-123.1-123.1 123.1-123.1 123.1 123.1-123.1 123.1ZM0-84.2-6.2-83.5-10.3-82.6-14.4-81.4-18.5-79.7-21.5-78.0-24-75.9-25.6-73.9-27.7-69.8-28.7-66.5-29.4-63.6-30.1-55.4-30-47.2-29.1-32.8-29.3-26.7-30.2-20.5-33.6-6.2-34.4 0.0-34.4 4.1-34 8.2-30.4 28.7-28.5 36.9-26.7 41.4-25.4 43.1-24.6 43.9-22.6 44.9-20.5 45.1-18.5 44.7-14.4 43.3-4.1 38.8 8.2 33.9 12.3 31.3 14.4 29.4 16.7 26.7 20.5 21.1 24 14.4 26.7 8.2 28.7 2.1 29.8-4.1 29.8-10.3 28.9-20.5 28.7-26.7 29.4-32.8 32.2-49.2 32.9-59.5 32.8-65.7 32.1-69.8 31.5-71.8 30.7-73.9 29.6-75.9 28-78.0 26.7-79.2 24.6-80.4 20.5-82.1 14.4-83.5 8.2-84.3Z"/>
<path fill="#4b5bf0" fill-rule="evenodd" d="M-123.1-123.1 123.1-123.1 123.1 123.1-123.1 123.1ZM-2.1-88.3-6.2-87.8-12.3-86.4-18.5-84.1-22.5-82.1-25.5-80.0-27.6-78.0-29.1-75.9-31.2-71.8-32.9-65.7-33.7-59.5-33.8-51.3-33.2-34.9-33.5-26.7-34.5-20.5-37.9-6.2-38.6 0.0-38.2 6.2-35.3 24.6-32.8 44.8-31.7 49.2-30.8 51.5-28.7 53.9-26.7 54.9-24.6 55.1-22.6 54.8-18.5 53.1-10.3 47.9-6.2 45.5 0 43.0 10.3 40.5 14.4 39.2 16.4 38.2 18.1 36.9 20 34.9 22.6 30.5 24.6 26.1 32.7 6.2 34.5 0.0 35.2-6.2 34.9-12.3 34-22.6 33.9-28.7 34.3-34.9 36-49.2 36.6-61.6 36.2-67.7 35.3-71.8 34.6-73.9 32.8-77.3 30.7-80.0 28.7-81.7 26.7-83.1 22.6-84.9 16.4-86.8 10.3-88.0 4.1-88.5Z"/>
<path fill="#4b61f3" fill-rule="evenodd" d="M-123.1-123.1 123.1-123.1 123.1 123.1-123.1 123.1ZM-2.1-92.4-6.2-91.9-12.3-90.4-18.5-88.1-22.6-86.1-26.7-83.5-30.4-80.0-32.8-76.6-34.2-73.9-36.2-67.7-37.1-61.6-37.3-53.4-36.8-34.9-37.3-26.7-38.3-20.5-41.1-8.2-42.1-2.1-42.2 0.0-41.9 4.1-39.2 20.5-38.2 28.7-37 49.2-36.3 53.4-34.9 56.7-32.8 59.2-30.8 60.8-28.7 61.7-26.7 62.1-24.6 62.1-22.3 61.6-18.5 59.8-14.4 57.0-9.6 53.4-4.1 49.7 0 48.1 2.1 47.6 6.2 47.1 18.5 46.9 20.5 46.5 22.6 45.7 24.6 43.9 26.7 40.0 29.4 28.7 31.1 22.6 38.5 2.1 39 0.0 39.5-4.1 39.5-10.3 38.4-22.6 38.3-28.7 38.5-34.9 39.8-51.3 40.2-61.6 39.9-65.7 39.3-69.8 38.2-73.9 37.3-75.9 34.9-79.9 32.8-82.3 30.8-84.0 28.7-85.4 24.6-87.4 16.4-90.4 10.3-91.8 4.1-92.6Z"/>
<path fill="#4b68f5" fill-rule="evenodd" d="M-123.1-123.1 123.1-123.1 123.1 123.1-123.1 123.1ZM-2.1-96.5-6.2-95.9-12.3-94.3-18.5-91.9-24.6-88.8-28.7-86.0-32.8-82.2-34.9-79.5-37-75.9-39.3-69.8-40.4-63.6-40.8-55.4-40.3-39.0-40.4-30.8-41.4-22.6-44.7-6.2-45.3 0.0-45 4.1-42.5 18.5-41.4 26.7-40.9 34.9-40.8 47.2-40.5 51.3-39.8 55.4-39.1 57.5-36.9 61.1-34.6 63.6-32.8 64.9-30.8 66.1-28.7 66.8-26.7 67.1-24.6 67.0-20.5 65.9-16.4 63.8-13 61.6-6.2 56.3-2.1 53.7 0 52.8 2.1 52.4 4.1 52.3 8.2 52.5 18.5 54.0 22.6 54.3 24.6 54.1 27.9 53.4 28.7 53.0 30.8 51.3 31.8 49.2 32.4 47.2 32.8 43.1 33.3 32.8 34.7 24.6 36.4 18.5 42.3 2.1 43.1-1.8 43.3-4.1 43.2-10.3 42.4-22.6 42.2-28.7 42.4-36.9 43.5-55.4 43.5-63.6 43.1-67.7 42.3-71.8 41-75.5 39.9-78.0 37.2-82.1 34.9-84.5 30.8-87.6 24.6-90.7 16.4-93.9 10.3-95.7 4.1-96.6Z"/>
<path fill="#4970f6" fill-rule="evenodd" d="M-123.1-123.1 123.1-123.1 123.1 123.1-123.1 123.1ZM-2.1-100.7-8.2-99.5-14.4-97.4-20.5-94.7-26.7-91.2-30.9-88.2-35.3-84.1-38.4-80.0-40.6-75.9-42.8-69.8-43.8-63.6-44.2-55.4-43.5-39.0-43.6-30.8-44.2-24.6-47.2-8.2-47.9-2.1-47.6 4.1-44.8 20.5-44.1 26.7-43.7 34.9-43.8 49.2-43.4 53.4-42.5 57.5-40.6 61.6-39.3 63.6-37.4 65.7-34.9 67.8-30.8 70.0-28.7 70.6-26.7 70.9-24.6 70.8-22.6 70.4-18.5 68.9-12.5 65.7-6.1 61.6-2.1 59.1 0 58.2 2.1 57.6 4.1 57.4 8.2 57.6 20.5 59.5 26.7 59.5 30.8 58.6 32.8 57.7 35.6 55.4 36.7 53.4 37.5 49.2 37.1 34.9 37.3 30.8 37.8 26.7 39.7 18.5 45.5 2.1 46.3-2.1 46.5-6.2 45.7-30.8 46.9-55.4 46.8-63.6 46.4-67.7 45.6-71.8 44.4-75.9 43.1-78.8 41-82.3 37.7-86.2 35.3-88.2 32.8-89.9 28.7-92.1 16.4-97.7 10.3-99.8 4.1-100.8Z"/>
<path fill="#4777f5" fill-rule="evenodd" d="M-123.1-123.1 123.1-123.1 123.1 123.1-123.1 123.1ZM-4.1-104.7-10.3-103.0-16.4-100.5-24.6-96.2-30.8-92.2-35.6-88.2-39-84.6-42.2-80.0-44.3-75.9-46.3-69.8-47.3-63.6-47.5-55.4-46.6-39.0-46.6-30.8-47.5-22.6-49.9-8.2-50.3-4.1-50.4 0.0-49.8 6.2-47.6 18.5-46.5 26.7-46.2 32.8-46.5 47.2-46.2 53.4-45.5 57.5-44.8 59.5-43.1 63.1-41.4 65.7-39 68.2-34.9 71.3-30.8 73.2-28.7 73.8-26.7 74.1-24.6 74.0-22.6 73.5-18.5 72.1-13.4 69.8-2.1 63.9 2.1 62.6 6.2 62.2 10.3 62.4 22.6 63.8 26.7 63.6 28.7 63.3 32.8 62.1 34.9 61.1 36.9 59.7 39.1 57.5 40.2 55.4 40.8 53.4 41.3 49.2 40.4 34.9 40.5 30.8 40.9 26.7 41.6 22.6 42.7 18.5 48.2 2.1 49.2-4.1 49.4-10.3 49.1-30.8 50.3-59.5 50-65.7 49.4-69.8 48.5-73.9 47.2-77.8 45.1-82.0 43.8-84.1 41-87.5 39-89.5 36.9-91.1 32.8-93.6 26.7-96.5 16.4-102.0 12.3-103.7 8.2-104.8 4.1-105.3 0-105.2Z"/>
<path fill="#477ef2" fill-rule="evenodd" d="M-123.1-123.1 123.1-123.1 123.1 123.1-123.1 123.1ZM-4.1-109.2-10.3-107.3-16.4-104.5-24.6-99.9-32.8-94.6-36.9-91.3-41-87.1-44.8-82.1-47-78.0-49.3-71.8-50.2-67.7-50.7-63.6-50.8-55.4-49.6-39.0-49.6-30.8-50.1-24.6-52.4-8.2-52.7-2.1-52.3 4.1-49.6 20.5-48.7 28.7-48.6 34.9-49.1 49.2-48.9 53.4-47.7 59.5-45.9 63.6-44.7 65.7-43.2 67.7-41.2 69.8-36.9 73.0-34.9 74.2-30.8 75.9-26.7 76.6-22.6 76.1-18.5 74.8-2.1 67.8 2.1 66.6 6.2 66.1 10.3 66.2 22.6 67.2 26.7 67.0 30.8 66.2 34.9 64.6 36.9 63.5 39 62.0 41.4 59.5 43.1 56.7 44.1 53.4 44.5 49.2 43.4 34.9 43.4 30.8 43.7 26.7 44.4 22.6 45.4 18.5 50.7 2.1 51.8-4.1 52.2-12.3 52.3-32.8 53.3-51.3 53.6-59.5 53.3-65.7 52.8-69.8 52-73.9 50.7-78.0 49-82.1 46.6-86.2 43.3-90.3 41-92.5 36.9-95.4 26.7-100.5 18.5-106.2 14.4-108.2 10.3-109.5 6.2-110.1 2.1-110.2Z"/>
<path fill="#4885ef" fill-rule="evenodd" d="M-123.1-123.1 123.1-123.1 123.1 123.1-123.1 123.1ZM0-115.2-4.1-114.2-8.2-112.8-12.3-111.0-18.5-107.7-32.8-98.5-36.9-95.4-41-91.8-45.9-86.2-48.7-82.1-50.8-78.0-52.3-73.9-53.4-69.8-54.1-65.7-54.4-61.6-54.2-55.4-52.6-39.0-52.4-32.8-52.8-24.6-54.8-8.2-54.9 0.0-54.3 6.2-51.8 20.5-51.1 26.7-50.8 34.9-51.5 51.3-50.8 57.5-49.7 61.6-47.7 65.7-46.3 67.7-44.7 69.8-42.6 71.8-39.9 73.9-36.9 75.7-34.9 76.6-30.8 78.1-26.7 78.7-24.6 78.6-21.4 78.0-15.1 75.9-4.6 71.8 0 70.4 6.2 69.5 10.3 69.4 22.6 70.2 26.7 70.0 30.8 69.1 34.8 67.7 36.9 66.7 41 64.0 43.5 61.6 45 59.5 46 57.5 47.2 53.4 47.4 49.2 46 34.9 46.1 28.7 46.6 24.6 47.4 20.5 52.5 4.1 53.5 0.0 54.2-4.1 54.8-12.3 55.4-32.8 56.8-57.5 56.8-63.6 56.5-67.7 55.5-73.9 54.4-78.0 52.9-82.1 50.9-86.2 48.3-90.3 45.1-94.1 43.1-96.0 39-99.2 30.8-104.0 24.6-109.5 22.6-110.9 18.8-112.9 14.4-114.4 10.3-115.3 4.1-115.6Z"/>
<path fill="#4a8beb" fill-rule="evenodd" d="M-123.1-123.1 123.1-123.1 123.1 123.1-123.1 123.1ZM4.1-121.3 0-120.7-4.1-119.5-8.2-117.9-14.4-114.8-20.5-111.0-34.9-101.1-39-98.0-43.1-94.4-48.6-88.2-51.4-84.1-53.7-80.0-55.5-75.9-56.7-71.8-57.5-67.7-57.9-63.6-57.7-55.4-55.6-39.0-55.2-32.8-55.4-26.7-57.1-10.3-57.2-2.1-56.4 6.2-54 20.5-53.2 26.7-53 34.9-53.9 51.3-53.3 57.5-52.3 61.6-51.3 64.1-49.3 67.7-46 71.8-43.7 73.9-40.8 75.9-37 78.0-34.9 78.8-30.8 80.0-28.7 80.4-24.6 80.4-22 80.0-18.5 79.2-8.9 75.9-2.1 73.7 4.1 72.5 10.3 72.2 24.6 72.8 26.7 72.7 30.8 71.8 36.4 69.8 40.2 67.7 43.1 65.7 45.3 63.6 47 61.6 48.3 59.5 49.2 57.5 49.8 55.4 50.2 51.3 50 47.2 48.5 34.9 48.4 30.8 48.7 26.7 49.4 22.6 50.4 18.5 54.2 6.2 55.8 0.0 56.8-6.2 57.4-12.3 58.3-32.8 60-55.4 60-65.7 59.4-71.8 58.1-78.0 56.1-84.1 54.2-88.2 51.3-93.1 47.2-98.4 38.6-106.7 32.8-113.2 30.8-115.0 28.7-116.4 22.6-119.2 16.4-120.8 10.3-121.6Z"/>
<path fill="#4b92e6" fill-rule="evenodd" d="M-123.1-123.1-8.9-123.1-14.4-120.1-22.6-114.5-41-100.7-45.1-97.1-47.9-94.4-53.4-87.6-55.6-84.1-57.8-80.0-60.1-73.9-61.1-69.8-61.5-65.7-61.6-61.6-61.2-55.4-58.6-39.0-58-32.8-58.1-26.7-59.4-12.3-59.5-4.1-58.8 4.1-56.1 20.5-55.2 28.7-55.1 34.9-56.2 51.3-56.1 55.4-55.4 59.5-54.2 63.6-52.2 67.7-49.1 71.8-45.1 75.5-41.5 78.0-36.9 80.1-30.8 81.8-26.7 82.2-22.6 81.9-18.5 81.0-4.1 76.7 0 75.7 4.1 75.1 10.3 74.8 24.6 75.3 26.7 75.1 30.8 74.3 37.6 71.8 41.5 69.8 44.6 67.7 47 65.7 48.9 63.6 50.4 61.6 51.5 59.5 52.8 55.4 53 51.3 52.7 47.2 50.9 34.9 50.8 28.7 51.3 24.6 52.1 20.5 57.6 2.1 59.5-8.2 60.2-16.4 61.2-32.8 63.4-57.5 63.5-65.7 63.1-71.8 62-78.0 60.2-84.1 57.7-90.3 54.4-96.4 49.2-104.0 39-116.8 34.9-120.7 31.5-123.1 73.9-123.1 123.1-123.1 123.1 123.1-123.1 123.1Z"/>
<path fill="#4c98e2" fill-rule="evenodd" d="M-123.1-123.1-18.7-123.1-24.6-118.5-33.9-110.8-41-105.5-45.1-102.1-49.2-98.2-54.4-92.3-57.4-88.2-60-84.1-63-78.0-64.8-71.8-65.5-65.7-65.5-61.6-64.9-55.4-61.6-37.9-60.9-32.8-60.8-28.7-61.7-14.4-61.8-6.2-61 4.1-58.1 20.5-57.2 28.7-57.2 34.9-58.5 51.3-58.2 57.5-57.4 61.6-56 65.7-53.4 70.2-50.3 73.9-48.1 75.9-45.3 78.0-41 80.4-36.8 82.1-30.8 83.5-26.7 83.8-22.6 83.5-18.5 82.8-4.1 78.9 4.1 77.4 10.3 77.1 24.6 77.5 28.7 77.0 32.8 76.0 39 73.7 42.6 71.8 45.9 69.8 48.6 67.7 50.8 65.7 52.5 63.6 53.9 61.6 54.8 59.5 55.5 57.5 55.9 53.4 55.6 49.2 53.2 34.9 53 30.8 53.2 26.7 53.9 22.6 54.9 18.5 59.8 2.1 61.8-8.2 62.8-16.4 64.3-34.9 66.6-55.4 67.1-63.6 67-69.8 66.3-75.9 65-82.1 62.3-90.3 59.7-96.4 56.6-102.6 51.3-111.3 47.2-117.4 42.5-123.1 86.2-123.1 123.1-123.1 123.1 123.1-123.1 123.1Z"/>
<path fill="#4e9ddf" fill-rule="evenodd" d="M-123.1-123.1-26.6-123.1-35.8-114.9-45.1-107.3-49.2-103.6-54.2-98.5-59.2-92.3-63.5-86.2-66.7-80.0-68.8-73.9-69.5-69.8-69.7-65.7-69.6-61.6-68.8-55.4-64.6-36.9-63.9-32.8-63.7-28.7-64.3-12.3-64-4.1-63.1 4.1-60.2 20.5-59.2 28.7-59.2 34.9-60.5 47.2-60.9 53.4-60.7 57.5-60 61.6-58.6 65.7-56.4 69.8-53.4 73.9-48.9 78.0-45.1 80.5-41.9 82.1-39 83.2-32.8 84.8-26.7 85.3-22.6 85.1-18.5 84.5-4.1 81.0 4.1 79.6 10.3 79.2 24.6 79.5 28.7 79.1 32.8 78.2 39.2 75.9 43.6 73.9 47.1 71.8 52.6 67.7 54.7 65.7 56.3 63.6 57.4 61.6 58.3 59.5 58.8 57.5 58.9 53.4 58.4 49.2 56.1 39.0 55.4 34.9 55.2 30.8 55.4 26.7 56.1 22.6 57.2 18.5 62.1 2.1 64.2-8.2 65.3-16.4 67.3-34.9 70-55.4 70.7-63.6 70.9-69.8 70.4-75.9 69.3-82.1 67-90.3 64.9-96.4 61.6-104.7 58.6-110.8 55.4-116.8 51.5-123.1 94.4-123.1 123.1-123.1 123.1 123.1-123.1 123.1Z"/>
<path fill="#4fa3dd" fill-rule="evenodd" d="M-123.1-123.1-34.3-123.1-49.2-109.6-53.4-105.6-59.5-98.6-66-90.3-69.8-84.1-72.4-78.0-73.8-71.8-74.1-65.7-73.8-61.6-72.9-55.4-67.3-32.8-66.9-28.7-66.9-12.3-66.3-4.1-65.2 4.1-62.2 20.5-61.4 26.7-61.1 30.8-61.2 34.9-62.7 47.2-63.2 53.4-62.9 59.5-61.9 63.6-60.3 67.7-57.5 72.4-53.4 77.0-49.2 80.3-45.1 82.7-39 85.1-32.8 86.4-26.7 86.8-22.6 86.6-18.5 86.1-4.1 82.9 4.1 81.6 10.3 81.3 24.6 81.4 28.7 81.0 33.6 80.0 41 77.5 45.1 75.5 49.2 73.3 53.4 70.6 56.8 67.7 58.7 65.7 60.2 63.6 61.2 61.6 61.9 59.5 62.2 55.4 61.3 49.2 58.4 39.0 57.6 34.9 57.3 30.8 57.6 26.7 58.8 20.5 64.3 2.1 66.6-8.2 67.9-16.4 70.6-36.9 73.8-57.5 74.8-65.7 75.1-71.8 74.8-75.9 73.8-82.1 69.6-98.5 67.6-104.7 65.3-110.8 62.7-117.0 59.7-123.1 96.4-123.1 123.1-123.1 123.1 123.1-123.1 123.1Z"/>
<path fill="#50a8d9" fill-rule="evenodd" d="M-123.1-123.1-42.2-123.1-53.4-112.3-58.6-106.7-68.7-94.4-72.9-88.2-75.9-82.4-77.5-78.0-78.7-71.8-78.7-65.7-77.9-59.5-76.6-53.4-71.8-36.0-70.7-30.8-70.3-26.7-69.4-12.3-68.6-4.1-67.4 4.1-64.3 20.5-63.4 26.7-63.1 30.8-63.3 34.9-65.2 49.2-65.6 55.4-65 61.6-63.8 65.7-61.9 69.8-60.7 71.8-57.5 75.9-53.4 79.8-49.2 82.7-45.1 84.8-39 86.9-32.8 88.0-26.7 88.3-18.5 87.7-2.1 84.4 4.1 83.6 10.3 83.2 24.6 83.2 30.8 82.6 34.9 81.7 39 80.5 43.1 78.9 49.2 76.0 53 73.9 56.3 71.8 59.5 69.3 63 65.7 64.4 63.6 65.2 61.6 65.7 59.5 65.7 55.4 64.8 51.3 60.8 39.0 59.8 34.9 59.5 30.8 59.7 26.7 61.1 20.5 66 4.1 69-8.2 70.5-16.4 73.9-38.4 78.7-63.6 79.5-69.8 79.7-73.9 79.5-78.0 78.9-82.1 74.8-100.5 71.3-112.9 67.4-123.1 98.5-123.1 123.1-123.1 123.1 123.1-123.1 123.1Z"/>
<path fill="#51add4" fill-rule="evenodd" d="M-123.1-123.1-50.5-123.1-59.5-113.5-65.3-106.7-73.5-96.4-78-89.6-80.8-84.1-82.8-78.0-83.3-75.9-83.6-71.8-83.3-65.7-82.3-59.5-80.9-53.4-75.6-34.9-74.2-28.7-71-4.1-65.7 24.6-65.3 28.7-65.2 32.8-65.7 37.4-67.5 49.2-68 55.4-67.6 61.6-66.5 65.7-65.7 67.7-63.6 71.6-60.4 75.9-56.4 80.0-51.3 83.8-46.6 86.2-40.7 88.2-34.9 89.4-26.7 89.8-18.5 89.2 2.1 85.7 10.3 85.1 26.7 84.9 32.8 84.1 36.9 83.2 41 82.0 46 80.0 53.4 76.6 57.5 74.3 61.3 71.8 63.9 69.8 66 67.7 67.6 65.7 68.8 63.6 69.5 61.6 69.7 59.5 69.6 57.5 69.2 55.4 68.1 51.3 63.6 39.7 62.2 34.9 61.7 30.8 62 26.7 63.4 20.5 68.3 4.1 71.4-8.2 73.1-16.4 76.7-36.9 83.5-65.7 84.3-69.8 84.7-73.9 84.7-78.0 84.3-82.1 81.3-98.5 78.6-110.8 75.1-123.1 104.7-123.1 123.1-123.1 123.1 123.1-123.1 123.1Z"/>
<path fill="#52b1ce" fill-rule="evenodd" d="M-123.1-123.1-58.9-123.1-65.7-115.3-72.6-106.7-78-99.5-81.3-94.4-84.1-89.3-86.4-84.1-88.1-78.0-88.6-73.9-88.2-67.7-87.2-61.6-84.2-49.2-78.7-30.8-77.1-24.6-73-2.1-69.3 16.4-67.9 24.6-67.4 28.7-67.4 32.8-67.8 36.9-70.3 53.4-70.5 57.5-70.1 61.6-69.7 63.6-68.3 67.7-66.2 71.8-64.9 73.9-61.6 78.0-59.6 80.0-55.4 83.5-53.4 84.9-49.2 87.1-43.1 89.4-36.9 90.7-28.7 91.3-22.6 91.2-18.5 90.8-2.1 88.0 4.1 87.3 10.3 87.0 26.7 86.7 32.8 86.0 39 84.8 43.1 83.5 47.2 82.0 56.4 78.0 60.4 75.9 63.7 73.9 67.7 70.8 70.7 67.7 72.2 65.7 73.2 63.6 73.5 61.6 73.2 57.5 71.4 51.3 65.3 36.9 64.2 32.8 64.1 28.7 64.7 24.6 65.7 20.5 71.2 2.1 74.4-10.3 80.9-41.0 88.6-67.7 89.9-73.9 89.9-80.0 88.8-90.3 85.8-108.8 82.6-123.1 106.7-123.1 123.1-123.1 123.1 123.1-123.1 123.1Z"/>
<path fill="#52b5c7" fill-rule="evenodd" d="M-123.1-123.1-67.5-123.1-80-106.7-84.1-100.5-87.6-94.4-90.3-88.4-91.7-84.1-93-78.0-93.2-73.9-92.7-67.7-91.1-59.5-86.2-41.0-81.5-26.7-79.2-18.5-72.3 12.3-70.3 22.6-69.7 28.7-69.6 32.8-70.3 39.0-72.7 53.4-72.9 59.5-72.4 63.6-71.8 65.7-70.1 69.8-67.7 73.9-66.3 75.9-61.6 81.1-58 84.1-55.4 86.0-49.2 89.2-43.1 91.3-36.9 92.4-28.7 92.8-18.5 92.3-2.1 89.8 4.1 89.1 24.6 88.6 30.8 88.2 36.9 87.4 41 86.5 47.2 84.5 57.5 80.6 61.6 78.7 65.7 76.3 69.8 73.2 73.5 69.8 75.2 67.7 76.3 65.7 76.9 63.6 77.1 61.6 76.7 57.5 74.7 51.3 69.8 40.7 67.7 35.6 66.9 32.8 66.7 28.7 67.3 24.6 68.2 20.5 77-10.3 83.8-39.0 86.2-46.7 92.6-65.7 93.8-69.8 94.6-73.9 95-78.0 95.1-82.1 94.5-92.3 92.5-108.8 90.2-123.1 106.7-123.1 123.1-123.1 123.1 123.1-123.1 123.1Z"/>
<path fill="#54b8bf" fill-rule="evenodd" d="M-123.1-123.1-76.2-123.1-86.2-108.6-89.7-102.6-92.3-97.4-94.5-92.3-96.4-86.2-97.5-80.0-97.7-75.9-97.6-71.8-97.1-67.7-94.9-57.5-89.4-36.9-83.4-20.5-80-9.7-75.9 6.3-72.9 20.5-72.1 26.7-71.9 32.8-72.6 39.0-75.2 53.4-75.5 59.5-75 63.6-74.5 65.7-72.9 69.8-69.2 75.9-65.8 80.0-63.7 82.1-58.7 86.2-55.4 88.3-51.6 90.3-45.1 92.6-39 93.9-30.8 94.4-18.5 93.9-2.1 91.6 4.1 90.9 32.8 89.9 39 89.2 43.1 88.3 59.5 83.1 63.6 81.2 67.7 78.6 71.8 75.5 76.1 71.8 78 69.6 79.2 67.7 80 65.7 80.4 63.6 80.6 61.6 80 57.5 78 51.3 72.2 39.0 70.6 34.9 69.7 30.8 69.7 26.7 70.4 22.6 71.9 16.4 81.4-16.4 86.2-34.9 89.6-45.1 97.1-65.7 99.3-73.9 100.2-82.1 100.3-92.3 99.4-106.7 97.7-123.1 117-123.1 123.1-123.1 123.1 123.1-123.1 123.1Z"/>
<path fill="#58bbb8" fill-rule="evenodd" d="M-123.1-123.1-84.9-123.1-89.9-114.9-93.3-108.8-96.4-102.3-98.8-96.4-100.6-90.3-101.8-84.1-102.3-78.0-102.2-73.9-101.5-67.7-100.3-61.6-94.2-39.0-91.5-30.8-85.5-16.4-82.1-7.0-78.3 6.2-75.5 18.5-74.4 26.7-74.3 32.8-75 39.0-77.1 49.2-77.9 55.4-77.9 61.6-77.1 65.7-75.9 69.0-74.6 71.8-70.5 78.0-65.7 83.3-62.3 86.2-59.5 88.2-53.4 91.6-47.2 94.0-41 95.4-36.9 95.9-32.8 96.0-18.5 95.6-2.1 93.3 4.1 92.7 34.9 91.8 41 91.2 45.1 90.5 59.5 86.8 63.6 85.3 67.7 82.6 78 74.4 80.6 71.8 82.1 69.8 83.1 67.7 83.6 65.7 83.9 63.6 83.7 59.5 82.7 55.4 81.3 51.3 75.5 39.0 73.2 32.8 72.8 30.8 72.7 26.7 73.5 20.5 75 14.4 77.9 4.1 89.9-34.9 94.4-47.1 100.9-63.6 102.9-69.8 104-73.9 104.7-78.0 105.5-84.1 106-94.4 105.9-108.8 105.1-123.1 121.1-123.1 123.1-123.1 123.1 123.1-123.1 123.1Z"/>
<path fill="#5cbeb0" fill-rule="evenodd" d="M-123.1-123.1-93.2-123.1-97.5-114.9-100.3-108.8-102.7-102.6-104.6-96.4-106-90.3-106.8-84.1-107-78.0-106.8-73.9-106-67.7-104.6-61.6-97.9-36.9-95-28.7-88.2-14.6-84.1-4.7-80.7 6.2-78 17.8-76.7 26.7-76.6 32.8-77.4 39.0-80 51.3-80.7 57.5-80.6 61.6-80.3 63.6-79.2 67.7-78.4 69.8-74.9 75.9-70.1 82.1-65.7 86.3-60.1 90.3-53.4 93.8-47.2 96.0-41 97.3-34.9 97.8-18.5 97.2-2.1 95.1 4.1 94.6 41 93.8 47.2 93.1 59.5 91.0 63.6 89.9 65.7 88.9 67.7 87.4 73.9 81.6 83.5 73.9 85.2 71.8 86.3 69.8 87.2 65.7 87.3 63.6 86.9 59.5 85.9 55.4 84.4 51.3 78.8 39.0 76.5 32.8 76.1 30.8 75.8 26.7 76.3 20.5 77.6 14.4 79.3 8.2 84.1-7.1 95.6-39.0 105.5-63.6 107.6-69.8 108.7-73.9 110.7-84.1 111.8-94.4 112.5-108.8 112.4-123.1 119-123.1 123.1-123.1 123.1 123.1-123.1 123.1Z"/>
<path fill="#60c1a8" fill-rule="evenodd" d="M-123.1-123.1-101.3-123.1-104.7-115.2-107-108.8-108.8-102.6-110.3-96.4-111.2-90.3-111.7-84.1-111.7-78.0-111.4-73.9-110.5-67.7-109.1-61.6-101-32.8-99.4-28.7-97.5-24.6-90.3-11.6-86.8-4.1-83.2 6.2-80.6 16.4-79.3 24.6-79 28.7-79.1 32.8-79.8 39.0-82.6 51.3-83.4 57.5-83.3 61.6-83 63.6-82.5 65.7-81.2 69.8-77.9 75.9-73.9 81.3-69.2 86.2-63.6 90.6-57 94.4-53.4 96.0-49.2 97.5-43.1 99.0-39 99.5-34.9 99.6-18.5 99.0-2.1 96.9 4.1 96.4 26.7 96.0 43.1 96.4 57.5 95.5 63.6 94.6 65.7 94.0 68.5 92.3 69.8 91.1 75.9 83.8 78 81.9 86.2 76.3 88.4 73.9 89.4 71.8 90.4 67.7 90.5 63.6 90 59.5 89 55.4 87.6 51.3 82.1 39.0 79.9 32.8 79.4 30.8 78.9 26.7 79 22.6 79.5 18.5 81.9 8.2 86.2-5.0 95.1-26.7 104.1-49.2 109.4-61.6 111.7-67.7 113.6-73.9 116-84.1 117.6-94.4 119-108.8 119.7-123.1 123.1-123.1 123.1 123.1-123.1 123.1Z"/>
<path fill="#64c4a0" fill-rule="evenodd" d="M-123.1-123.1-109-123.1-111.8-114.9-113.5-108.8-114.9-102.6-115.9-96.4-116.5-90.3-116.8-84.1-116.1-73.9-115.1-67.7-113.7-61.6-109.5-47.2-106.8-36.9-104.8-30.8-103.1-26.7-100.9-22.6-93.1-10.3-89.8-4.1-88 0.0-86.2 4.9-84.6 10.3-83.1 16.4-81.8 24.6-81.5 30.8-82.1 37.4-84.9 49.2-86 55.4-86.1 61.6-85.4 65.7-84.8 67.7-82.1 73.9-78 80.0-72.6 86.2-67.9 90.3-61.6 94.4-55.4 97.4-49.2 99.7-43.1 101.1-39 101.5-34.9 101.6-20.5 101.0-14.4 100.5-2.1 98.7 4.1 98.3 26.7 98.1 41 99.4 49.2 99.7 57.5 99.5 63.6 98.8 67.7 97.6 69.8 96.4 72.1 94.4 78 86.3 80 84.3 87 80.0 90.3 77.1 92.3 73.9 93.5 69.8 93.8 65.7 93.4 61.6 92.6 57.5 91.4 53.4 84.6 36.9 82.7 30.8 82 26.7 82 22.6 82.3 18.5 83.1 14.4 85.8 4.1 88.7-4.1 92.3-12.3 101.3-30.8 115.9-65.7 118.1-71.8 119.9-78.0 122.7-90.3 123.1-92.5 123.1 123.1-123.1 123.1Z"/>
<path fill="#68c697" fill-rule="evenodd" d="M-123.1-123.1-116.5-123.1-118.6-114.9-120.2-106.7-121.4-98.5-121.9-90.3-121.7-82.1-121.2-75.9-119.9-67.7-117.9-59.5-110.9-34.9-108.7-28.7-106.8-24.6-104.4-20.5-96.4-9.7-91.9-2.1-90 2.1-88.2 6.8-86.6 12.3-85.2 18.5-84.1 26.7-84 30.8-84.3 34.9-85 39.0-88.3 51.3-89.1 57.5-89.1 61.6-88.8 63.6-87.8 67.7-85.1 73.9-82.6 78.0-77.8 84.1-71.8 90.1-67.7 93.3-61.6 97.0-53.4 100.6-47.2 102.4-41 103.5-36.9 103.7-32.8 103.6-18.5 102.8-12.3 102.2-2.1 100.7 6.2 100.3 28.7 100.5 41 102.5 51.3 103.4 57.5 103.4 63.6 102.7 67.7 101.6 69.8 100.7 73.1 98.5 75.9 95.6 81.7 88.2 84.2 86.2 90.1 82.1 92.2 80.0 93.8 78.0 95 75.9 96.4 71.8 96.9 67.7 96.8 63.6 96.1 59.5 94.4 53.4 87.8 36.9 85.9 30.8 85.2 26.7 85 22.6 85.2 18.5 85.8 14.4 88.2 5.0 91.7-4.1 94.8-10.3 101.9-22.6 105.2-28.7 121-65.7 123.1-71.6 123.1 123.1-123.1 123.1Z"/>
<path fill="#6fc88d" fill-rule="evenodd" d="M-123.1-59.5-123.1-60.9-114.9-32.8-111.6-24.6-109.3-20.5-107.8-18.5-99.2-8.2-95.1-2.1-92 4.1-89.2 12.3-88.2 16.4-87.2 22.6-86.7 28.7-86.8 32.8-87.9 39.0-91.3 51.3-92 55.4-92.3 59.5-92.1 61.6-91.4 65.7-90.1 69.8-88.2 73.9-84.4 80.0-79.4 86.2-73.9 91.6-67.7 96.1-63.6 98.5-59.5 100.4-51.3 103.6-47.2 104.7-43.1 105.5-36.9 106.0-32.8 105.9-18.5 104.9-12.3 104.3-2.1 102.7 4.1 102.4 26.7 103.3 41 105.9 49.2 107.0 57.5 107.2 63.6 106.5 67.7 105.5 69.8 104.7 73.7 102.6 75.9 101.0 78.6 98.5 84.1 92.1 93.2 84.1 96.4 80.1 98.5 75.9 99.6 71.8 99.9 69.8 100 65.7 99.5 61.6 98.1 55.4 95.9 49.2 91 36.9 89.6 32.8 88.6 28.7 88.1 24.6 88 20.5 88.4 16.4 89.1 12.3 91.4 4.1 94.4-3.1 98.5-10.5 106.7-22.6 109.1-26.7 112-32.8 121.9-55.4 123.1-58.3 123.1 123.1-123.1 123.1Z"/>
<path fill="#77ca82" fill-rule="evenodd" d="M122.4-45.1 123.1-46.7 123.1 123.1-123.1 123.1-123.1-44.4-121.4-39.0-117.9-28.7-116.2-24.6-114.1-20.5-111.2-16.4-103.3-8.2-99.8-4.1-95.9 2.1-93.2 8.2-91.4 14.4-90.3 19.8-89.7 24.6-89.6 30.8-90.4 36.9-94 49.2-94.9 53.4-95.5 59.5-95 63.6-93.3 69.8-91.5 73.9-89.1 78.0-86.2 82.1-82.9 86.2-79 90.3-75.9 93.1-69.8 97.7-65.7 100.1-61.6 102.1-55.4 104.6-51.3 106.0-43.1 107.8-36.9 108.4-30.8 108.3-16.4 107.0 0 104.7 4.1 104.7 24.6 106.3 39 109.2 45.1 110.2 51.3 110.8 57.5 110.9 63.6 110.3 69.6 108.8 73.9 106.9 78 104.2 82.2 100.5 96.3 86.2 99.3 82.1 101.3 78.0 102.5 73.9 103 69.8 103 65.7 102.5 61.6 101.7 57.5 100.4 53.4 94.1 36.9 92.2 30.8 91.4 26.7 91 22.6 91.1 18.5 91.6 14.4 92.4 10.3 93.6 6.2 95.1 2.1 97.1-2.1 100.8-8.2 104.7-13.5 110.3-20.5 112.9-24.6 116-30.8Z"/>
<path fill="#81ca77" fill-rule="evenodd" d="M122.7-34.9 123.1-35.9 123.1 123.1-123.1 123.1-123.1-30.8-121.1-25.9-118.4-20.5-115.9-16.4-114.2-14.4-106.7-7.4-102.6-3.0-99.1 2.1-96.1 8.2-94.7 12.3-93.3 18.5-92.6 24.6-92.6 28.7-92.9 32.8-93.7 36.9-97.2 49.2-98.5 55.4-98.7 59.5-98.6 61.6-97.8 65.7-96.6 69.8-94.8 73.9-92.5 78.0-90.3 81.4-86.5 86.2-82.8 90.3-80 93.0-75.9 96.4-71.8 99.3-67.7 101.8-59.5 105.7-51.3 108.5-43.1 110.3-36.9 110.9-30.8 110.9-16.4 109.5-2.1 107.5 4.1 107.3 12.3 108.0 20.5 109.0 34.9 112.2 45.1 113.9 51.3 114.5 57.5 114.6 63.6 114.1 69.8 112.7 74.4 110.8 80 107.5 86 102.6 96.4 92.0 100.5 86.8 103.2 82.1 104.8 78.0 105.8 73.9 106.2 69.8 105.9 63.6 105.2 59.5 103.5 53.4 97.2 36.9 95.3 30.8 94.4 26.7 94 22.6 94 18.5 94.5 14.4 95.3 10.3 96.6 6.2 98.3 2.1 100.4-2.1 104.7-8.2 113.6-18.5 115.1-20.5 118.6-26.7Z"/>
<path fill="#8cca6d" fill-rule="evenodd" d="M122-24.6 123.1-26.6 123.1 123.1-123.1 123.1-123.1-21.7-121.3-18.5-118.4-14.4-116.6-12.3-106.7-3.3-102.6 1.7-100.5 5.1-99.1 8.2-97.6 12.3-96.6 16.4-95.9 20.5-95.7 24.6-95.9 30.8-97.1 36.9-100.6 49.2-101.4 53.4-101.9 57.5-101.9 59.5-101.5 63.6-99.9 69.8-98.2 73.9-96.4 77.2-91.9 84.1-88.5 88.2-84.7 92.3-77.6 98.5-73.9 101.1-69.8 103.6-61.6 107.6-55.4 109.9-51.3 111.1-43.1 112.9-36.9 113.5-30.8 113.6-2.1 110.4 4.1 110.3 10.3 110.8 18.5 112.1 32.8 115.6 43.1 117.4 51.3 118.3 57.5 118.4 63.6 117.9 69.8 116.6 75.9 114.3 82.3 110.8 88.2 106.2 96.4 98.1 99.7 94.4 102.6 90.5 104.7 87.2 106.2 84.1 107.8 80.0 109.1 73.9 109.4 69.8 109 63.6 108.3 59.5 106.6 53.4 100.3 36.9 97.9 28.7 97.2 24.6 97 20.5 97.4 14.4 98.3 10.3 99.6 6.2 102.6 0.0 107-6.2 117-17.0 119.5-20.5Z"/>
<path fill="#98c963" fill-rule="evenodd" d="M122.3-18.5 123.1-19.6 123.1 123.1-123.1 123.1-123.1-15.4-120.6-12.3-116.4-8.2-108.8-1.4-104.7 3.6-103.1 6.2-101.2 10.3-99.5 16.4-98.8 22.6-98.9 26.7-99.4 30.8-100.2 34.9-103.5 47.2-104.4 51.3-104.9 55.4-104.9 61.6-104.3 65.7-103.1 69.8-101.6 73.9-99.5 78.0-97 82.1-94 86.2-90.6 90.3-86.6 94.4-79.4 100.5-71.8 105.5-67.7 107.7-61.6 110.4-57.5 111.9-51.3 113.8-43.1 115.5-36.9 116.2-30.8 116.3-4.1 113.8 2.1 113.7 6.2 113.8 10.3 114.2 16.4 115.2 30.8 118.8 41 120.8 51.3 122.0 59.5 122.1 63.6 121.7 67.7 121.0 73.9 119.3 80 116.7 86.4 112.9 90.3 109.9 93.9 106.7 100.5 99.8 103.2 96.4 106.1 92.3 109.3 86.2 110.9 82.1 112.3 75.9 112.7 69.8 112.2 63.6 111.5 59.5 109.8 53.4 103.5 36.9 101.5 30.8 100.6 26.7 100.1 22.6 100.2 16.4 100.8 12.3 102 8.2 103.7 4.1 106.1 0.0 109.2-4.1 119-14.4Z"/>
<path fill="#a5c859" fill-rule="evenodd" d="M121.5-12.3 123.1-14.1 123.1 123.1 74.8 123.1 80.1 121.1 86.2 117.9 90.6 114.9 95.7 110.8 100.5 106.1 105.3 100.5 108.8 95.5 111.6 90.3 114.1 84.1 115.1 80.0 116 73.9 116 69.8 115.5 63.6 114.7 59.5 113 53.4 106.7 36.9 104.7 30.8 103.8 26.7 103.3 22.6 103.3 16.4 103.9 12.3 105.2 8.2 106.7 4.9 108.4 2.1 112.9-3.6ZM-123.1-10.3-123.1-10.7-120.7-8.2-112.9-1.5-109.3 2.1-106.3 6.2-104.7 9.5-103.6 12.3-102.3 18.5-102.1 24.6-102.9 30.8-106.5 45.1-107.7 51.3-108.1 55.4-108.2 59.5-107.5 65.7-106.4 69.8-105 73.9-103 78.0-100.7 82.1-97.9 86.2-94.6 90.3-90.8 94.4-86.5 98.5-82.1 102.1-78.5 104.7-73.9 107.5-69.8 109.7-65.7 111.6-59.5 114.1-53.4 116.1-47.2 117.6-39 118.8-32.8 119.1-26.7 118.9-8.2 117.4 4.1 117.3 8.2 117.6 14.4 118.6 26.7 121.6 33.1 123.1-123.1 123.1Z"/>
<path fill="#b2c652" fill-rule="evenodd" d="M122-8.2 123.1-9.3 123.1 123.1 85.2 123.1 92.1 119.0 96.4 115.7 100.5 112.1 104.7 107.9 108.9 102.6 112.9 96.5 115 92.3 117 87.4 118.5 82.1 119.2 78.0 119.6 71.8 119.4 67.7 118.5 61.6 117.6 57.5 115.7 51.3 110.1 36.9 108.1 30.8 106.8 24.6 106.4 18.5 106.7 14.4 107.7 10.3 108.8 7.6 110.7 4.1 114.9-1.2ZM-123.1-6.2-123.1-6.6-115.3 0.0-111.2 4.1-108.4 8.2-106.7 12.3-106.1 14.4-105.5 18.5-105.5 24.6-106.5 30.8-110.1 45.1-111.1 51.3-111.4 55.4-111.4 59.5-110.7 65.7-109.8 69.8-108.4 73.9-106.6 78.0-104.4 82.1-101.7 86.2-98.6 90.3-92.3 97.1-88.2 100.9-83.5 104.7-78 108.4-73.9 110.8-69.8 112.9-63.6 115.5-57.5 117.7-51.3 119.5-43.1 121.1-34.9 121.9-26.7 121.9-6.2 120.8 4.1 121.1 10.3 121.7 17.5 123.1-123.1 123.1Z"/>
<path fill="#bec34d" fill-rule="evenodd" d="M122.5-4.1 123.1-4.7 123.1 70.4 122.7 65.7 122.1 61.6 120.6 55.4 119.3 51.3 112.9 34.9 111.6 30.8 110.2 24.6 109.8 18.5 110.1 14.4 110.5 12.3 111.1 10.3 112.9 6.6 116.3 2.1ZM-123.1-2.1-123.1-2.6-117.4 2.1-113.3 6.2-111.8 8.2-110.7 10.3-109.9 12.3-109 16.4-108.8 20.5-109.1 24.6-109.8 28.7-111.9 36.9-113.6 45.1-114.5 51.3-114.8 57.5-114.4 63.6-113.1 69.8-111 75.9-108.1 82.1-105.6 86.2-102.6 90.3-97.4 96.4-90.9 102.6-84.1 107.9-78 111.8-69.8 116.1-61.6 119.4-51.3 122.5-48.3 123.1-123.1 123.1ZM123.1 75.9 123.1 123.1 96.4 123.1 93.5 123.1 100.5 117.9 106.7 112.0 109.5 108.8 112.6 104.7 116.5 98.5 119 93.2 120.8 88.2 122.3 82.1Z"/>
<path fill="none" stroke="#0b0b14" stroke-width="1.05" stroke-linejoin="round" d="M-10.3-82.2-14.4-81.0-16.4-80.2-18.5-79.2-20.7-78.0-22.6-76.6-24.6-74.6-26.4-71.8-27.3-69.8-28-67.7-29-63.6-29.5-59.5-29.8-55.4-29.8-51.3-29.6-47.2-28.7-32.8-28.7-28.7-28.8-26.7-29.1-24.6-29.8-20.5-32.8-8.2-33.6-4.1-34 0.0-34 2.1-33.8 6.2-32.8 13.5-30.8 24.9-29.1 32.8-27.8 36.9-26.7 39.8-25.9 41.0-24.6 42.6-22.6 43.8-20.5 44.1-18.5 43.9-16.4 43.4-14.4 42.6-4.1 38.2 4.5 34.9 8.2 33.1 10.3 31.9 12.3 30.4 14.1 28.7 16.4 26.1 18.9 22.6 21.3 18.5 24.4 12.3 26.1 8.2 27.6 4.1 28.7 0.0 29.3-4.1 29.4-6.2 29.3-10.3 28.2-22.6 28.2-26.7 28.3-28.7 28.9-32.8 30.8-42.6 31.5-47.2 32.2-53.4 32.6-59.5 32.6-63.6 32.1-67.7 31.7-69.8 31.1-71.8 30.3-73.9 29.2-75.9 27.6-78.0 26.7-78.8 24.7-80.0 22.6-81.0 20.5-81.7 16.4-82.8 10.3-83.7 4.1-84.0 0-83.8-4.1-83.4-10.3-82.2M-2.1-104.7-6.2-103.9-10.3-102.7-14.4-101.1-18.5-99.2-24.6-95.9-28.7-93.4-32.8-90.4-34.9-88.6-37.3-86.2-39.1-84.1-41-81.4-43-78.0-44-75.9-45.5-71.8-46-69.8-46.8-65.7-47.2-61.6-47.3-57.5-47.1-51.3-46.4-39.0-46.3-34.9-46.4-30.8-46.8-26.7-47.3-22.6-49.7-8.2-50.1-4.1-50.2 0.0-50.1 2.1-49.6 6.2-47.4 18.5-46.4 26.7-46 32.8-46 36.9-46.3 47.2-46.2 51.3-46 53.4-45.3 57.5-44.6 59.5-43.1 62.7-41 65.8-39 68.0-36.9 69.7-34.9 71.1-32.8 72.2-30.8 73.0-28.7 73.6-26.7 73.9-24.6 73.7-22.6 73.3-20.5 72.7-18.2 71.8-13.9 69.8-4.1 64.5 0 62.8 2.1 62.3 4.1 62.0 8.2 61.9 12.3 62.3 18.5 63.2 22.6 63.5 26.7 63.3 28.7 63.0 30.8 62.5 32.8 61.8 34.9 60.8 36.9 59.4 38.8 57.5 39.9 55.4 40.6 53.4 40.9 51.3 41 47.2 40.4 39.0 40.2 34.9 40.3 30.8 40.7 26.7 41.4 22.6 42.5 18.5 43.8 14.4 47.2 4.8 48 2.1 48.8-2.1 49.1-6.2 49.2-12.3 48.9-24.6 48.8-30.8 49-36.9 49.9-53.4 50-59.5 49.9-63.6 49.5-67.7 48.8-71.8 48.3-73.9 47.2-77.1 45.9-80.0 44.8-82.1 43.5-84.1 41.9-86.2 40-88.2 37.6-90.3 34.9-92.1 32.8-93.3 24.6-97.3 16.4-101.7 12.3-103.3 10.3-104.0 6.2-104.8 2.1-105.0-2.1-104.7M-19.5-123.1-24.6-119.1-34.5-110.8-41-105.9-45.1-102.5-49.4-98.5-51.4-96.4-54.8-92.3-57.5-88.8-59.2-86.2-60.5-84.1-62.6-80.0-64.1-75.9-64.7-73.9-65.5-69.8-65.9-65.7-65.9-61.6-65.3-55.4-64.2-49.2-62.1-39.0-61.6-36.1-61.2-32.8-61.1-28.7-62-14.4-62.1-6.2-61.8-2.1-61.2 4.1-58.3 20.5-57.7 24.6-57.4 28.7-57.3 34.9-58.5 47.2-58.7 51.3-58.7 55.4-58.5 57.5-57.7 61.6-57 63.6-56.2 65.7-55.2 67.7-53.4 70.6-50.6 73.9-48.4 75.9-45.7 78.0-43.1 79.6-41 80.6-36.9 82.2-32.8 83.3-30.8 83.6-26.7 83.9-22.6 83.7-18.5 83.0-14.8 82.1-4.1 79.1 0 78.2 4.1 77.6 10.3 77.3 24.6 77.7 26.7 77.6 28.7 77.2 32.8 76.2 36.9 74.8 41 72.9 43.1 71.8 47.2 69.1 49 67.7 51.2 65.7 52.9 63.6 54.2 61.6 55.1 59.5 55.8 57.5 56.1 55.4 56.2 53.4 56.1 51.3 55.6 47.2 53.9 39.0 53.4 34.9 53.2 30.8 53.4 26.7 54.1 22.6 55.1 18.5 58.9 6.2 60 2.1 61-2.1 62.1-8.2 63-16.4 64.6-34.9 66.9-55.4 67.4-63.6 67.3-69.8 66.7-75.9 65.4-82.1 64.1-86.2 62.7-90.3 60.2-96.4 57.1-102.6 55.4-105.7 52.3-110.8 49.2-115.5 47.2-118.4 43.4-123.1M-59.9-123.1-67.7-113.8-73.9-106.1-78-100.5-82.1-94.3-84.1-90.6-85.3-88.2-87-84.1-88.2-80.0-88.6-78.0-89-75.9-89.1-73.9-89.1-71.8-88.7-67.7-87.7-61.6-86.3-55.4-84.1-47.3-82.3-41.0-79.1-30.8-77.6-24.6-73.3-2.1-69.1 18.5-68.1 24.6-67.7 28.7-67.6 32.8-68 36.9-70.1 49.2-70.6 53.4-70.8 57.5-70.4 61.6-69.8 64.5-68.7 67.7-66.5 71.8-65.2 73.9-63.7 75.9-61.9 78.0-59.9 80.0-57.6 82.1-55.4 83.8-51.5 86.2-49.2 87.3-47.2 88.2-43.1 89.6-40.5 90.3-36.9 90.9-32.8 91.3-28.7 91.5-22.6 91.3-18.5 91.0-14.4 90.4-2.1 88.2 4.1 87.5 10.3 87.2 22.6 87.1 26.7 86.9 32.8 86.3 39 85.0 43.1 83.8 47.2 82.2 57.1 78.0 61.1 75.9 64.3 73.9 67.7 71.2 69.4 69.8 71.3 67.7 72.7 65.7 73.6 63.6 74 61.6 73.9 59.5 73.6 57.5 73.2 55.4 71.8 51.3 67.3 41.0 65.6 36.9 64.5 32.8 64.3 30.8 64.4 28.7 65 24.6 66 20.5 71.5 2.1 74.7-10.3 77-20.5 79.8-34.9 81.3-41.0 84.1-51.0 89.2-67.7 90.1-71.8 90.4-73.9 90.6-75.9 90.5-80.0 90.2-84.1 89.5-90.3 86.5-108.8 84.9-117.0 83.5-123.1M-103.5-123.1-106.7-115.0-108.8-109.0-110.6-102.6-111.9-96.4-112.7-90.3-113.1-84.1-113.1-80.0-112.7-73.9-111.8-67.7-110.4-61.6-109.3-57.5-106.2-47.2-104.2-39.0-102.3-32.8-100.7-28.7-98.7-24.6-90.6-10.3-87.6-4.1-86 0.0-84.1 5.5-82.8 10.3-81.3 16.4-80.5 20.5-80 24.6-79.7 28.7-79.7 30.8-79.9 34.9-80.2 36.9-81 41.0-83.4 51.3-84 55.4-84.2 59.5-84.1 61.6-83.3 65.7-82.7 67.7-81 71.8-79.9 73.9-78 77.0-75.8 80.0-72.2 84.1-70.2 86.2-67.7 88.3-63.6 91.3-61.6 92.6-57.5 94.8-53.4 96.7-49.2 98.1-45.1 99.2-43.1 99.6-39 100.0-34.9 100.2-26.7 99.8-20.5 99.6-16.4 99.3-2.1 97.4 4.1 96.9 26.7 96.5 30.8 96.7 39 97.2 45.1 97.3 57.5 96.6 61.6 96.2 63.6 95.9 65.7 95.3 67.7 94.4 69.8 92.8 71.8 90.4 74.9 86.2 76.8 84.1 78 83.0 80 81.5 84.1 79.0 86.2 77.6 88.1 75.9 89.6 73.9 90.5 71.8 91 69.8 91.4 67.7 91.5 65.7 91.4 63.6 90.9 59.5 89.8 55.4 88.4 51.3 83 39.0 81.4 34.9 80.8 32.8 80 29.1 79.8 26.7 79.8 22.6 80.3 18.5 81.1 14.4 82.6 8.2 84.5 2.1 86.7-4.1 90.3-13.0 97.2-28.7 104.7-47.4 110.8-61.6 113.1-67.7 115-73.9 116.1-78.0 117.5-84.1 119.3-94.4 120-100.5 120.8-108.8 121.8-123.1M-123.1-27.7-121.7-24.6-119.7-20.5-117.1-16.4-114.9-13.7-106.7-6.2-104.7-4.0-103-2.1-100.5 1.3-98.9 4.1-97.9 6.2-96.4 9.6-95 14.4-94.2 18.5-93.7 22.6-93.5 24.6-93.5 28.7-93.9 32.8-94.4 35.6-95.2 39.0-98.2 49.2-99.1 53.4-99.4 55.4-99.7 59.5-99.5 61.6-98.8 65.7-97.6 69.8-95.8 73.9-93.6 78.0-90.8 82.1-87.6 86.2-83.9 90.3-80 94.1-77.2 96.4-73.9 98.9-69.8 101.5-65.7 103.7-61.6 105.6-55.4 108.0-51.3 109.3-47.2 110.3-43.1 111.0-36.9 111.7-32.8 111.8-30.8 111.7-16.4 110.3-2.1 108.3 0 108.2 4.1 108.2 12.3 108.9 20.5 110.0 24.6 110.8 32.8 112.9 39 114.1 45.1 115.0 51.3 115.6 57.5 115.8 61.6 115.5 63.6 115.2 67.7 114.4 69.8 113.8 72.5 112.9 75.9 111.4 80 109.0 82.1 107.5 85.6 104.7 87.8 102.6 92.3 98.1 96.4 93.8 98.5 91.4 100.9 88.2 102.6 85.6 104.4 82.1 105.9 78.0 106.8 73.9 107.1 69.8 107.2 67.7 106.8 63.6 106.1 59.5 104.4 53.4 102.9 49.2 98.1 36.9 96.2 30.8 95.3 26.7 94.9 22.6 94.9 18.5 95.4 14.4 96.2 10.3 97.5 6.2 99.2 2.1 101.4-2.1 104.2-6.2 106.7-9.3 113.3-16.4 115.1-18.5 116.5-20.5 118.9-24.6 123.1-32.9"/>
<path d="M-28.3 -101.7h.01M28.3 -101.7h.01M-26.3 -77.6h.01M26.3 -77.6h.01M-73.6 -63.6h.01M-36.9 -56.2h.01M0.0 -54.0h.01M36.9 -56.2h.01M73.6 -63.6h.01M-86.8 -35.8h.01M-64.3 -31.6h.01M-19.8 -28.5h.01M19.8 -28.5h.01M64.3 -31.6h.01M86.8 -35.8h.01M-91.2 0.0h.01M-45.6 0.0h.01M0.0 0.0h.01M45.6 0.0h.01M91.2 0.0h.01M-86.8 35.8h.01M-64.3 31.6h.01M-19.8 28.5h.01M19.8 28.5h.01M64.3 31.6h.01M86.8 35.8h.01M-73.6 63.6h.01M-36.9 56.2h.01M0.0 54.0h.01M36.9 56.2h.01M73.6 63.6h.01M-53.1 85.3h.01M-26.3 77.6h.01M26.3 77.6h.01M53.1 85.3h.01M-27.8 99.8h.01M0.0 104.9h.01M27.8 99.8h.01" stroke="#101018" stroke-width="2.6" stroke-linecap="round" fill="none"/>
</g>
<circle r="114.0" fill="none" stroke="#000" stroke-width="1.75"/>
<path d="M-20.7 -112.3L0 -132.0L20.7 -112.3" fill="none" stroke="#000" stroke-width="1.5" stroke-linejoin="miter"/>
<path d="M-114.0 -16.3C-115.1 -19.0 -122.2 -20.3 -123.1 -13.7C-123.1 -6.8 -123.7 0.0 -124.3 6.8C-124.8 13.7 -125.9 19.4 -125.4 22.8C-124.8 28.5 -120.8 32.4 -116.8 31.4C-114.0 30.6 -112.3 28.5 -111.4 26.9" fill="none" stroke="#000" stroke-width="1.5"/>
<path d="M114.0 -16.3C115.1 -19.0 122.2 -20.3 123.1 -13.7C123.1 -6.8 123.7 0.0 124.3 6.8C124.8 13.7 125.9 19.4 125.4 22.8C124.8 28.5 120.8 32.4 116.8 31.4C114.0 30.6 112.3 28.5 111.4 26.9" fill="none" stroke="#000" stroke-width="1.5"/>
</g>
<linearGradient id="cb7" x1="0" y1="0" x2="0" y2="1"><stop offset="0.0000" stop-color="#f9fb56"/><stop offset="0.0312" stop-color="#f4ef55"/><stop offset="0.0625" stop-color="#f2e455"/><stop offset="0.0938" stop-color="#f4d854"/><stop offset="0.1250" stop-color="#f5cc55"/><stop offset="0.1562" stop-color="#f4c157"/><stop offset="0.1875" stop-color="#e9bc52"/><stop offset="0.2188" stop-color="#d9be4b"/><stop offset="0.2500" stop-color="#c7c14a"/><stop offset="0.2812" stop-color="#b3c551"/><stop offset="0.3125" stop-color="#9fc95d"/><stop offset="0.3438" stop-color="#8bca6d"/><stop offset="0.3750" stop-color="#7aca7f"/><stop offset="0.4062" stop-color="#6dc88f"/><stop offset="0.4375" stop-color="#65c49e"/><stop offset="0.4688" stop-color="#5fc0ac"/><stop offset="0.5000" stop-color="#58bbb8"/><stop offset="0.5312" stop-color="#53b6c4"/><stop offset="0.5625" stop-color="#51b0cf"/><stop offset="0.5938" stop-color="#51a9d8"/><stop offset="0.6250" stop-color="#4fa1de"/><stop offset="0.6562" stop-color="#4c97e2"/><stop offset="0.6875" stop-color="#4b8ee9"/><stop offset="0.7188" stop-color="#4884f0"/><stop offset="0.7500" stop-color="#4778f4"/><stop offset="0.7812" stop-color="#4a6df6"/><stop offset="0.8125" stop-color="#4b61f3"/><stop offset="0.8438" stop-color="#4a57ee"/><stop offset="0.8750" stop-color="#484ce7"/><stop offset="0.9062" stop-color="#4641dc"/><stop offset="0.9375" stop-color="#4337cd"/><stop offset="0.9688" stop-color="#3f2fb8"/><stop offset="1.0000" stop-color="#3a27a2"/></linearGradient>
<rect x="903.10" y="676.30" width="12.70" height="219.70" fill="url(#cb7)" stroke="#202020" stroke-width="1"/>
<text transform="translate(921.30 738.29) scale(1.280 1)" class="cs">0</text>
<text transform="translate(921.30 803.68) scale(1.280 1)" class="cs">-1</text>
<text transform="translate(921.30 869.07) scale(1.280 1)" class="cs">-2</text>
<path d="M915.80 734.49h-2.5M915.80 799.88h-2.5M915.80 865.27h-2.5" stroke="#202020" stroke-width="1" fill="none"/>
<text x="765.80" y="933.70" text-anchor="middle" class="th">Theta power (5-7 Hz)</text>
<text x="765.80" y="962.00" text-anchor="middle" class="th">200-1000 ms</text>
<g transform="translate(1825.5 781.0)">
<clipPath id="cp_t4"><circle r="114.0"/></clipPath>
<g clip-path="url(#cp_t4)">
<rect x="-115" y="-115" width="230" height="230" fill="#8dca6c"/>
<path fill="#91ca68" fill-rule="evenodd" d="M-123.1-123.1 123.1-123.1 123.1 123.1-123.1 123.1ZM-51.3-11.3-53.4-9.6-55.4-7.2-57.5-4.0-61.6 3.7-65.7 12.3-68.3 18.5-69.9 22.6-71.5 28.7-71.8 31.7-71.8 34.9-71.1 39.0-70.3 41.0-69.2 43.1-67.6 45.1-64.9 47.2-61.6 48.5-57.5 48.8-53.4 48.1-51.3 47.3-49.2 46.1-47.2 44.3-45.1 41.4-43.1 36.9-41.3 30.8-40.4 26.7-39.6 20.5-39.5 12.3-40 6.2-40.7 0.0-42.1-6.2-43.1-8.8-45.1-11.4-47.2-12.3-49.2-12.2Z"/>
<path fill="#96ca65" fill-rule="evenodd" d="M-123.1-123.1 123.1-123.1 123.1 123.1-123.1 123.1ZM-8.2-41.3-9.2-41.0-13.8-39.0-14.4-38.4-18.5-36.2-39-32.3-45.1-30.8-51.3-28.7-55.4-26.7-58.1-24.6-60.1-22.6-62.7-18.5-65.7-11.7-70.9 4.1-76.8 20.5-78.5 26.7-79.3 32.8-79.1 36.9-78.1 41.0-76.4 45.1-73.9 49.1-71.8 51.3-68.7 53.4-65.7 54.5-61.6 55.0-57.5 54.7-53.4 53.9-51.3 53.3-47.2 51.4-45.1 49.9-43.1 47.8-41.3 45.1-40.3 43.1-38.5 39.0-35.6 30.8-32.6 20.5-31.3 12.3-29.5-4.1-27.9-12.3-26-18.5-24.6-22.1-22.6-26.8-20.5-30.5-18.5-33.0-16.4-34.6-14.4-35.6-10.3-36.3 4.1-37.5 6.2-37.9 8.9-39.0 9.4-41.0 8.2-41.9 6.2-42.7 4.1-43.1 0-42.8Z"/>
<path fill="#9ac961" fill-rule="evenodd" d="M-123.1-123.1 123.1-123.1 123.1 123.1-123.1 123.1ZM-14.4-53.4-18.5-52.3-21-51.3-36.9-42.6-57.5-33.6-61.6-31.3-64.4-28.7-67.7-24.2-69.7-20.5-71.4-16.4-73.4-10.3-77.4 4.1-82.1 17.7-83.5 22.6-84.8 28.7-85.1 32.8-84.8 36.9-84.1 40.1-82.4 45.1-80 49.8-77.5 53.4-75.9 55.2-73.9 56.9-71.8 58.2-69.8 59.0-67.7 59.5-63.6 59.8-59.5 59.4-53.4 58.0-47.2 55.7-43.2 53.4-41 51.4-39 48.5-36.9 44.5-27.7 22.6-25.7 16.4-22.3 0.0-20.4-6.2-18.5-10.2-17.2-12.3-14.4-15.7-12.3-17.4-8.2-19.9-4.1-21.2-2.1-21.6 2.1-22.0 6.2-21.8 10.3-21.1 14.4-20.1 22.6-17.6 24.6-17.0 26.7-16.9 28.7-17.3 30.3-18.5 31.6-20.5 32.4-22.6 33.1-26.7 33.1-30.8 32.5-34.9 31.3-39.0 29.5-43.1 27-47.2 24.6-50.0 22.6-51.8 20.5-53.1 18.5-54.0 16.4-54.6 12.3-55.1 8.2-55.1-6.2-54.3Z"/>
<path fill="#9fc95e" fill-rule="evenodd" d="M-123.1-123.1 123.1-123.1 123.1 123.1-123.1 123.1ZM-10.3-59.5-14.4-59.2-18.5-58.6-22.5-57.5-24.6-56.5-39-48.0-61.6-37.0-65.7-34.3-69.4-30.8-71.1-28.7-73.8-24.6-75.9-20.5-77.6-16.4-79.4-10.3-82.4 2.1-87.2 16.4-89.3 24.6-90 30.8-89.6 36.9-88 43.1-85.5 49.2-82.1 55.0-80.2 57.5-78.2 59.5-75.9 61.3-73.9 62.5-71.8 63.3-69.8 63.7-67.7 63.9-63.6 63.8-59.5 63.2-55.4 62.1-51.3 60.8-47.2 59.1-44.1 57.5-41 55.5-39 53.6-36.9 50.7-26.9 30.8-22.6 22.6-19.9 16.4-17.9 10.3-15.6 2.1-14.4-1.5-13.1-4.1-10.3-8.0-8.2-9.8-6.2-11.1-4.1-12.0-2.1-12.6 2.1-12.9 6.2-12.1 8.2-11.3 10.3-10.1 12.7-8.2 14.4-6.2 15.7-4.1 17.3 0.0 18.1 4.1 18.9 12.3 20 16.4 21.1 18.5 22.6 20.5 24.6 22.0 26.7 22.9 30.8 23.6 34.9 23.5 39.6 22.6 43.1 20.7 45.1 18.7 46.5 16.4 47.9 12.3 48.5 6.2 48.2 0.0 45.1-22.3 43.9-28.7 42-34.9 39.4-41.0 37-45.1 32.8-50.9 28.7-55.3 26.7-57.0 22.6-59.3 20.5-59.9 16.4-60.5 12.3-60.5Z"/>
<path fill="#a3c85b" fill-rule="evenodd" d="M-123.1-123.1 123.1-123.1 123.1 123.1-123.1 123.1ZM2.1-63.7-16.4-63.3-20.5-62.8-24.6-61.7-29.1-59.5-36.9-54.4-41-52.1-62.6-41.0-68.8-36.9-71.8-34.3-75.2-30.8-78.3-26.7-80.7-22.6-82.7-18.5-84.1-14.4-87.8 2.1-91.3 12.3-93 18.5-94.1 24.6-94.5 30.8-94.2 34.9-93.5 39.0-92.4 43.1-90.9 47.2-89.1 51.3-86.9 55.4-84.1 59.2-82.1 61.5-79.7 63.6-75.9 66.0-73.9 66.8-69.8 67.6-65.7 67.7-61.6 67.1-57.5 66.0-53.4 64.6-47.2 62.0-43.1 59.8-39.6 57.5-37.3 55.4-34.6 51.3-29.2 41.0-24.6 33.2-17.4 22.6-13.5 16.4-11.3 12.3-8.2 3.9-6.4 0.0-4.1-2.6-2.1-3.8-0.5-4.1 2.1-3.9 4.1-2.9 6.2-0.8 7.6 2.1 9.7 12.3 11.3 16.4 13.9 20.5 15.5 22.6 17.4 24.6 20.5 27.1 24.9 28.7 34.9 30.6 43.1 31.6 49.2 31.6 52.3 30.8 53.4 30.2 55.1 28.7 56.6 26.7 58.3 22.6 58.7 20.5 59.1 16.4 58.8 10.3 57.5 2.1 52.5-22.6 51.1-28.7 49.1-34.9 47.2-39.2 43.9-45.1 39.3-51.3 33.5-57.5 30.8-59.9 26.7-62.5 22.6-64.0 18.5-64.5 14.4-64.4ZM67.7 42.6 66.2 45.1 65.8 47.2 65.9 49.2 66.3 51.3 67.8 55.4 69.8 58.0 71.8 59.5 73.9 59.4 75.9 57.5 77.4 53.4 77.8 49.2 77.6 47.2 77 45.1 75.9 43.1 73.9 41.6 71.8 41.2 69.8 41.5Z"/>
<path fill="#a8c758" fill-rule="evenodd" d="M-123.1-123.1 123.1-123.1 123.1 123.1-123.1 123.1ZM-24.6-65.7-26.7-65.0-30.8-63.1-41-56.6-62.6-45.1-69.4-41.0-74.7-36.9-79-32.8-82.5-28.7-85.5-24.6-87.8-20.5-90.2-14.4-91.2-10.3-93 0.0-96.8 12.3-98.5 20.5-99 26.7-98.7 32.8-97.7 39.0-95.1 47.2-92.3 53.8-89 59.5-85.5 63.6-82.1 66.6-78 69.1-75.9 70.0-71.8 71.1-67.7 71.3-65.7 71.2-61.6 70.5-55.4 68.5-49.2 65.7-41 61.0-36.9 57.9-34.9 55.5-33.5 53.4-26.7 41.3-22.6 35.1-18.5 30.0-14.4 25.4-10.3 21.6-8.2 20.0-4.1 17.7-2.1 17.2 0 17.3 2.1 18.0 4.1 19.1 6 20.5 16.4 28.7 20.1 30.8 39 36.9 43.9 39.0 47.5 41.0 50.3 43.1 53.4 46.4 55.4 49.3 61.5 59.5 63.6 62.2 65.7 64.2 67.7 65.7 69.8 66.7 71.8 67.1 73.9 67.1 75.9 66.5 78 65.5 80.3 63.6 82 61.6 84.1 57.9 85.1 55.4 86.2 51.5 87.3 45.1 87.7 39.0 87.5 36.9 87 34.9 86.1 32.8 84.1 30.1 82.1 28.0 75.7 22.6 73.8 20.5 71 16.4 67.7 9.4 64.4 0.0 60.8-12.3 56.9-28.7 55.6-32.8 53.4-38.3 51-43.1 47-49.2 43.6-53.4 37.2-59.5 32.8-63.1 28.7-65.6 24.6-67.1 22.6-67.5 16.4-67.6 0-66.5-18.5-66.6-22.6-66.2Z"/>
<path fill="#acc755" fill-rule="evenodd" d="M-123.1-123.1 123.1-123.1 123.1 123.1-123.1 123.1ZM12.3-69.8 4.1-69.2-2.1-69.0-20.5-69.5-24.6-69.0-26.7-68.5-30.8-66.8-45.1-58.3-69.3-45.1-73.9-42.2-78.1-39.0-84.9-32.8-90.6-26.7-93.5-22.6-94.6-20.5-96.9-14.4-102.2 10.3-103.2 16.4-103.8 22.6-103.8 26.7-103.5 30.8-102.9 34.9-101.4 41.0-99.3 47.2-97 53.4-94.4 58.6-92.3 61.8-89.1 65.7-86.2 68.3-82.1 71.1-78 73.1-73.9 74.4-69.8 75.0-65.7 74.8-61.6 73.9-57.5 72.4-53.4 70.6-47.2 67.3-39 61.9-34.9 58.2-31.3 53.4-23.8 41.0-20.5 36.6-17.1 32.8-14.4 30.2-10.3 27.0-8.2 25.8-4.1 24.3-2.1 24.0 0 24.1 4.1 25.1 6.2 26.0 18.2 32.8 34.9 39.6 39 41.8 43.1 44.5 46.2 47.2 49.2 50.4 57.5 61.9 61.6 66.8 63.6 68.6 65.7 70.0 67.7 71.0 69.8 71.5 71.8 71.7 73.9 71.6 75.9 71.2 79.5 69.8 82.7 67.7 85 65.7 88.1 61.6 90.1 57.5 91.5 53.4 93.3 45.1 94.2 39.0 94.2 34.9 93.9 32.8 92.7 28.7 90.5 24.6 88.9 22.6 80 13.3 77.5 10.3 74.7 6.2 71.8 1.1 68.6-6.2 66.3-12.3 64.4-18.5 61.6-29.5 59.7-34.9 56.1-43.1 53.4-47.9 49.2-53.4 45.2-57.5 37.7-63.6 31.3-67.7 26.7-69.6 24.6-70.1 20.5-70.4Z"/>
<path fill="#b1c652" fill-rule="evenodd" d="M-123.1-123.1 123.1-123.1 123.1 123.1-123.1 123.1ZM-24.6-71.8-28.7-70.8-34.9-67.9-47.2-60.8-68.6-49.2-75.6-45.1-81.6-41.0-92-32.8-96.5-28.7-99.8-24.6-101-22.6-103-18.5-104.9-12.3-106.8-2.1-108.6 12.3-109 20.5-108.6 28.7-107.6 34.9-105.2 43.1-101.5 53.4-98.8 59.5-96.3 63.6-92.3 68.4-90.3 70.3-86.2 73.3-80 76.4-73.9 78.6-69.8 79.1-67.7 79.0-65.7 78.7-61.6 77.5-57.5 75.7-53.4 73.6-45.1 68.5-36.9 62.4-34.9 60.5-32.2 57.5-24.6 45.8-20.5 40.2-16.4 35.7-12.3 32.3-10.3 31.0-6.2 29.0-2.1 28.2 0 28.2 2.1 28.4 6.2 29.6 12.3 32.5 17.1 34.9 30.7 41.0 37.5 45.1 41 48.0 45.1 52.1 47.9 55.4 55.4 65.8 57.5 68.4 60.8 71.8 63.6 74.0 65.7 75.1 67.7 75.8 69.8 76.2 71.8 76.3 73.9 76.1 78 74.9 82.1 73.1 84.4 71.8 87.3 69.8 89.5 67.7 91.2 65.7 93.8 61.6 95.5 57.5 96.7 53.4 99.6 41.0 100.3 36.9 100.6 30.8 100 26.7 99.4 24.6 97.4 20.5 96 18.5 92.3 14.4 86.2 8.9 82.1 4.7 78.5 0.0 75.9-4.0 72.5-10.3 69.9-16.4 67.7-22.6 64.7-32.8 61.6-40.9 59.5-45.3 57.3-49.2 54.5-53.4 50.6-57.5 45.7-61.6 39.9-65.7 32.9-69.8 28.7-71.6 24.6-72.5 20.5-72.6 6.2-71.5 0-71.3-6.2-71.4-18.5-72.0Z"/>
<path fill="#b5c550" fill-rule="evenodd" d="M-123.1-123.1 123.1-123.1 123.1 123.1-123.1 123.1ZM-26.7-73.9-30.8-72.6-36.9-69.8-78.8-47.2-94.9-36.9-100.5-33.1-103.2-30.8-106.7-26.7-108-24.6-110-20.5-111.5-16.4-112.6-12.3-113.9-4.1-114.8 6.2-115 16.4-114.3 26.7-112.9 34.9-110.3 43.1-104.9 57.5-103 61.6-99.2 67.7-95.6 71.8-93.3 73.9-90.5 75.9-86.2 78.4-75.9 82.9-71.8 83.8-69.8 83.9-65.7 83.3-63.6 82.5-59.5 80.5-49.2 74.1-39 66.3-34.9 62.7-31.9 59.5-28.8 55.4-22.6 46.1-18.5 41.0-14.4 37.1-10.3 34.2-6.2 32.3-4.1 31.7 0 31.4 2.1 31.6 6.2 32.5 14.4 36.0 24.6 40.8 28.8 43.1 32.8 45.6 37.5 49.2 41.6 53.4 45 57.5 55.4 71.7 59.5 76.2 61.6 78.0 63.6 79.5 65.7 80.6 67.7 81.3 69.8 81.6 71.8 81.5 73.9 81.1 78 79.7 84.1 77.0 88.2 74.9 90.3 73.6 92.5 71.8 94.6 69.8 96.4 67.5 98.8 63.6 101.2 57.5 103.1 49.2 106.5 39.0 108 32.8 108.5 28.7 108.5 24.6 107.8 20.5 107.2 18.5 105.1 14.4 102.6 11.4 98.7 8.2 92.3 4.2 88.2 1.2 84.1-2.9 80-8.0 75.9-14.2 72.8-20.5 71.1-24.6 65.7-40.5 63.6-45.5 61.6-49.7 59.3-53.4 55.9-57.5 53.4-59.8 48.2-63.6 41.6-67.7 34.9-71.3 30.8-73.1 26.7-74.3 24.6-74.6 20.5-74.6 8.2-73.6 0-73.3-8.2-73.5-20.5-74.2-24.6-74.2Z"/>
<path fill="#b9c44f" fill-rule="evenodd" d="M-123.1-123.1 123.1-123.1 123.1 123.1-123.1 123.1ZM-26.7-76.0-33.4-73.9-42.2-69.8-67.7-56.5-80-50.4-94.4-42.5-102.6-38.2-105-36.9-108.8-34.1-110.8-31.9-113.2-28.7-115.6-24.6-117.5-20.5-118.9-16.4-120-12.3-120.8-8.2-121.5-2.1-121.8 4.1-121.9 10.3-121 22.6-119.3 32.8-118.3 36.9-116.3 43.1-111.6 55.4-109.1 61.6-105.9 67.7-103.1 71.8-101.4 73.9-97.2 78.0-94.4 80.1-90.3 82.7-78 89.0-73.9 90.5-71.8 90.8-69.8 90.8-67.7 90.5-65.7 89.7-61.6 87.0-47.2 75.6-36.9 66.8-32.8 62.8-30 59.5-22.6 49.2-18.5 44.0-14.4 39.9-10.3 37.0-8.2 35.9-4.1 34.5-2.1 34.2 2.1 34.2 4.1 34.6 8.2 35.7 18.5 40.2 24.1 43.1 28.7 45.9 33.2 49.2 37.5 53.4 41.1 57.5 44.2 61.6 51.3 72.1 55.4 77.7 59.5 82.5 63.6 86.5 65.7 88.0 67.7 88.9 69.8 89.3 71.8 89.1 73.9 88.6 75.9 87.7 82.1 83.8 90.3 80.3 94.4 78.0 97.2 75.9 99.4 73.9 101.2 71.8 103.9 67.7 106.7 61.6 110.4 49.2 115.9 36.9 118.7 28.7 120 22.6 120.2 18.5 119.8 12.3 118.7 8.2 116.8 4.1 114.9 1.8 112.9 0.3 110.8-0.7 108.8-1.3 98.5-3.1 94.4-4.4 92.3-5.4 88.2-8.1 84.1-11.8 82.1-14.0 78-19.5 75.1-24.6 72.6-30.8 66.9-47.2 63.9-53.4 61.6-56.6 58.9-59.5 55.4-62.4 50.4-65.7 38.5-71.8 32.8-74.3 28.7-75.7 26.7-76.2 22.6-76.4 8.2-75.4 0-75.1-8.2-75.4-20.5-76.2-24.6-76.2Z"/>
<path fill="#bec34d" fill-rule="evenodd" d="M-123.1-123.1 123.1-123.1 123.1-11.3 121.1-12.6 119-13.5 117-14.1 114.9-14.3 112.9-14.2 104.7-12.8 100.5-12.4 96.4-12.6 94.4-13.1 90.3-14.7 86.2-17.3 84.1-19.0 81-22.6 78-27.0 75.9-31.3 73.9-36.9 70.7-47.2 68.1-53.4 65.7-57.5 63.6-59.9 61.6-61.8 57.5-64.8 52.4-67.7 48.1-69.8 33.3-75.9 28.7-77.3 24.6-78.0 8.2-77.1 0-76.9-24.6-78.0-28.7-77.4-33.5-75.9-43.3-71.8-69.8-58.8-84.1-52.3-96.4-46.1-108.8-40.6-110.8-39.3-112.9-37.7-117-33.5-120.4-28.7-123.1-23.6ZM-3.4 36.9 0 36.6 2.1 36.6 6.2 37.4 10.3 38.7 16.4 41.4 22.6 44.7 26.5 47.2 30.8 50.5 35.7 55.4 39.1 59.5 42.1 63.6 55.1 84.1 61.6 95.6 63.6 98.3 65.7 99.9 67.7 101.0 69.8 101.6 71.8 101.8 73.9 101.7 75.9 101.3 78 100.5 80 99.3 88.7 92.3 100.5 84.5 105.6 80.0 109.1 75.9 112.9 69.8 115.8 63.6 119.1 55.4 123.1 47.4 123.1 123.1 0 123.1-123.1 123.1-123.1 43.3-117.9 57.5-114.4 65.7-112.3 69.8-109.8 73.9-105.1 80.0-102.6 82.7-98.5 86.3-94.4 89.5-84.1 96.7-80 99.2-78 100.1-73.9 101.3-71.8 101.5-69.8 101.4-67.7 100.9-65.7 100.1-63.6 98.8-61.6 96.6-54.4 86.2-52.5 84.1-34.9 67.0-30.8 62.7-26.5 57.5-20.5 49.2-16.4 44.5-14.4 42.6-10.3 39.6-6.2 37.6Z"/>
<path fill="#c2c24b" fill-rule="evenodd" d="M-123.1-123.1 123.1-123.1 123.1-20.8 119-21.7 114.9-22.0 110.8-21.6 100.5-19.7 96.4-19.6 92.3-20.4 90.3-21.1 88.2-22.2 84.9-24.6 82.1-27.6 80-30.6 78.9-32.8 77.3-36.9 73.8-49.2 71.3-55.4 68.8-59.5 65.7-62.9 62-65.7 58.5-67.7 49.2-71.8 38.2-75.9 31.9-78.0 28.7-78.8 24.6-79.3 0-78.5-24.6-79.5-28.7-79.1-33-78.0-38.9-75.9-48.8-71.8-71.8-61.0-85.9-55.4-98.5-49.4-110.8-44.4-113.1-43.1-117-40.4-120.8-36.9-123.1-34.3ZM-2.2 39.0 0 38.8 4.1 39.1 8.2 40.1 12.3 41.6 18.5 44.6 22.7 47.2 26.7 50.1 30.4 53.4 34.1 57.5 37.3 61.6 42.6 69.8 48.3 80.0 51.4 86.2 57.5 101.2 59.5 104.8 61.6 107.6 65.7 112.0 69.8 115.4 73.9 118.0 80 120.7 84.1 121.7 86.2 122.0 90.3 121.9 92.3 121.4 94.4 120.6 96.4 119.5 98.5 117.8 100.5 115.7 102.6 113.1 109.6 102.6 119 89.2 123.1 82.6 123.1 123.1-8.2 123.1-123.1 123.1-123.1 65.5-118.2 75.9-112.9 84.6-108.8 90.1-104.7 95.0-94.4 105.9-90.3 109.6-88.2 111.1-85.3 112.9-82.1 114.2-78 115.1-75.9 115.2-71.8 114.7-69.8 114.0-65.7 112.0-61.6 108.7-59.5 106.4-57 102.6-55.4 99.3-51.8 90.3-49.4 86.2-46.2 82.1-41 75.9-28.7 62.6-20.5 51.9-16.5 47.2-14.4 45.1-10.3 42.0-6.2 40.0Z"/>
<path fill="#c6c24a" fill-rule="evenodd" d="M-123.1-123.1 123.1-123.1 123.1-27.8 117-28.6 112.9-28.6 100.5-26.0 96.4-25.7 92.3-26.2 90.3-26.9 88.2-27.9 86.2-29.3 84.6-30.8 82.1-34.4 80.3-39.0 77.7-49.2 75.5-55.4 73.9-58.8 72-61.6 70.2-63.6 67.9-65.7 64.8-67.7 60.9-69.8 53.4-72.7 32.8-79.1 28.7-80.1 24.6-80.6 0-80.1-24.6-81.0-28.7-80.6-32.8-79.7-38.6-78.0-49.7-73.9-73.9-63.4-84.1-60.0-90.3-57.6-100.5-52.7-110.8-48.7-114.2-47.2-119-44.3-123.1-41.2ZM-1.5 41.0 2.1 40.9 6.2 41.5 10.3 42.8 16.4 45.7 20.5 48.2 24.8 51.3 29.2 55.4 32.7 59.5 35.7 63.6 38.2 67.7 41.6 73.9 44.5 80.0 47.8 88.2 53.4 106.4 55.4 111.5 60.7 123.1 2.1 123.1-60.4 123.1-57.5 118.9-53.4 111.6-50.6 104.7-48.1 94.4-46.9 90.3-43.9 84.1-39.9 78.0-35 71.8-26.7 62.4-18.5 52.0-14.4 47.6-11.4 45.1-8.2 43.1-4.1 41.5ZM-123.1 92.3-123.1 90.3-110.8 114.8-106.4 123.1-123.1 123.1Z"/>
<path fill="#cac14a" fill-rule="evenodd" d="M-123.1-123.1 123.1-123.1 123.1-34.1 117-34.7 112.9-34.7 108.8-34.2 100.5-32.3 96.4-31.8 92.3-32.1 89.9-32.8 88.2-33.7 86.9-34.9 85.5-36.9 84.1-40.7 81.3-51.3 79.8-55.4 77.8-59.5 75.1-63.6 73.2-65.7 70.8-67.7 65.7-70.8 61.6-72.5 57.4-73.9 34.8-80.0 28.7-81.3 24.6-81.7 2.1-81.5-22.6-82.4-28.7-82.0-34.9-80.7-43.1-78.4-50.5-75.9-73.9-66.8-90.3-61.7-102.6-56.0-114.9-51.3-119-49.2-123.1-46.7ZM-1.7 43.1 2.1 42.9 6.2 43.5 11 45.1 16.4 47.9 21.5 51.3 26.2 55.4 29.8 59.5 32.8 63.6 35.3 67.7 38.4 73.9 41 80.0 43.1 86.2 45.7 96.4 49.6 114.9 50.8 123.1 4.1 123.1-48.8 123.1-44.8 106.7-43.4 94.4-42.6 90.3-41.4 86.2-38.5 80.0-35.9 75.9-32.8 71.8-25.8 63.6-18.5 54.5-14.4 50.0-11.1 47.2-8.2 45.3-4.1 43.6Z"/>
<path fill="#cec049" fill-rule="evenodd" d="M-123.1-123.1 123.1-123.1 123.1-39.9 117-40.6 112.9-40.7 108.8-40.5 98.5-39.4 96.4-39.4 94.4-39.6 92.3-40.5 90.3-42.6 88.2-46.6 84.4-55.4 82.2-59.5 79.6-63.6 76-67.7 71.8-71.0 69.8-72.2 65.9-73.9 58.9-75.9 32.8-81.8 28.7-82.5 24.6-82.9 2.1-82.9-22.6-83.7-28.7-83.3-35.9-82.1-44-80.0-50.9-78.0-75.9-69.5-88.2-66.4-92.3-65.1-104.7-59.6-117-54.8-123.1-51.7ZM-2.3 45.1 0 44.8 4.1 45.0 8.2 46.1 12.3 47.8 16.4 50.1 20.5 53.0 23.2 55.4 27 59.5 30 63.6 32.4 67.7 36.2 75.9 37.7 80.0 39.5 86.2 40.8 92.3 41.7 98.5 42.7 106.7 43.2 112.9 43.1 118.3 42.6 123.1 8.2 123.1-40 123.1-39.7 114.9-38.8 104.7-38.8 90.3-38.1 86.2-35.9 80.0-33.6 75.9-30.7 71.8-18.5 56.9-14.4 52.3-10.9 49.2-8.2 47.4-6.2 46.4Z"/>
<path fill="#d2bf4a" fill-rule="evenodd" d="M-123.1-123.1 123.1-123.1 123.1-45.5 114.9-46.6 102.6-47.7 98.5-48.5 96.4-49.4 94.4-50.8 92.3-52.8 82.5-65.7 78.7-69.8 75.9-72.1 71.8-74.6 67.7-76.3 60.5-78.0 32.8-83.0 26.7-83.8 22.6-84.1-22.6-85.0-28.7-84.6-36.9-83.4-51.2-80.0-75.9-72.8-92.3-69.1-96.4-67.6-117-59.1-123.1-56.3ZM-2.7 47.2 0 46.7 4.1 46.9 6.2 47.4 10.3 48.8 14.4 51.0 16.4 52.4 20.2 55.4 22.6 57.7 24.6 60.0 27.3 63.6 29.7 67.7 31.7 71.8 34.6 80.0 35.6 84.1 36.7 90.3 37.4 100.5 37.5 110.8 36.9 114.2 36.1 117.0 33.6 123.1 6.2 123.1-31.4 123.1-33 114.9-33.2 102.6-35 92.3-35.2 88.2-34.7 84.1-34.1 82.1-32.5 78.0-31.4 75.9-28.6 71.8-18.5 59.4-14.4 54.7-10.6 51.3-8.2 49.5-6.2 48.4Z"/>
<path fill="#d6be4a" fill-rule="evenodd" d="M-123.1-123.1 123.1-123.1 123.1-50.9 108.8-53.4 102.6-54.7 98.5-56.3 94.4-59.0 90.3-62.7 82.1-71.2 78-74.6 73.9-77.1 69.8-78.6 63.6-79.9 51.3-81.3 33.2-84.1 26.7-84.9-12.3-86.1-20.5-86.2-26.7-86.1-32.8-85.5-39-84.5-51.2-82.1-75.9-75.9-92.3-72.7-96.4-71.5-101-69.8-123.1-60.7ZM-3.1 49.2 0 48.6 2.1 48.6 5.8 49.2 8.2 50.0 11 51.3 14.5 53.4 17.2 55.4 20.5 58.5 24.6 63.6 28.1 69.8 29.7 73.9 31 78.0 32 82.1 32.7 86.2 33 90.3 33 96.4 32.4 102.6 31.8 106.7 30.5 110.8 28.7 114.3 26.8 117.0 21.4 123.1 6.2 123.1-21.4 123.1-23.6 119.0-25.2 114.9-26.3 110.8-28.2 100.5-31.3 92.3-32 88.2-31.9 84.1-31.1 80.0-29.3 75.9-26.4 71.8-16.4 59.5-12.3 55.1-8.2 51.7-6.2 50.5Z"/>
<path fill="#dabe4b" fill-rule="evenodd" d="M-123.1-123.1 123.1-123.1 123.1-56.2 112.9-58.1 106.7-59.5 100.5-61.7 96.4-63.8 92.3-66.6 84.3-73.9 80-77.2 75.9-79.5 71.8-81.0 65.7-82.1 51.3-83.1 26.7-86.0 16.4-86.5-10.3-87.4-24.6-87.4-30.8-87.0-39-86.1-50.9-84.1-73.9-79.3-90.3-76.4-94.4-75.5-100.5-73.7-111.2-69.8-123.1-65.0ZM-3.3 51.3 0 50.6 2.1 50.5 6.2 51.3 10.3 53.1 12.3 54.3 16.4 57.4 18.5 59.3 22 63.6 23.3 65.7 25.5 69.8 27.7 75.9 28.6 80.0 29.2 84.1 29.4 90.3 28.6 96.4 26.8 102.6 24.6 106.9 22.6 109.6 20.5 111.6 10.3 120.2 6.2 122.8 5.5 123.1 4.1 123.1-7.1 123.1-10.3 121.2-12.3 119.5-14.4 117.3-18.5 111.7-20.5 108.0-23.7 100.5-27.6 92.3-28.7 88.9-29.2 86.2-29.1 82.1-28 78.0-27 75.9-24.2 71.8-16.4 62.1-12.3 57.5-8.2 54.0-6.2 52.6Z"/>
<path fill="#debd4c" fill-rule="evenodd" d="M-123.1-123.1 123.1-123.1 123.1-61.2 108.8-64.4 102.6-66.3 96.4-69.2 92.3-71.8 84.8-78.0 81.7-80.0 78-82.0 75.9-82.8 71.8-83.9 67.7-84.4 51.3-84.8 20.5-87.4-8.2-88.7-24.6-88.6-41-87.3-53.4-85.7-75.9-81.7-90.3-79.5-97.6-78.0-104.5-75.9-123.1-69.2ZM-3.1 53.4 0 52.5 2.1 52.5 6.2 53.5 10.3 55.4 13.3 57.5 15.7 59.5 19.3 63.6 21.9 67.7 24.4 73.9 25.8 80.0 26.1 86.2 25.7 90.3 24.6 94.9 23.2 98.5 22 100.5 20.5 102.7 18.8 104.7 16.4 106.7 10.3 110.7 4.1 113.7 2.1 114.4 0 114.7-2.1 114.5-4.1 113.9-8.2 111.8-12.3 108.7-16.4 104.3-18.5 101.6-22.6 95.0-24.9 90.3-26.2 86.2-26.5 84.1-26.2 80.0-25.6 78.0-24.6 75.9-20.3 69.8-14.4 62.4-10.3 58.1-6.2 54.9Z"/>
<path fill="#e1bc4e" fill-rule="evenodd" d="M-123.1-123.1 123.1-123.1 123.1-66.1 110.8-68.9 104.7-70.7 98.5-73.3 94.4-75.6 86.2-81.1 82.1-83.5 78-85.2 73.9-86.4 69.8-86.8 57.5-86.3 49.2-86.5 8.2-89.3-8.2-90.0-24.6-89.8-45.1-88.5-55.4-87.4-88.2-82.8-96.4-81.4-102.6-79.9-112.9-76.8-123.1-73.2ZM-2.6 55.4 0 54.7 2.1 54.7 4.1 55.1 8.2 56.7 12.4 59.5 16.5 63.6 19.2 67.7 21.1 71.8 22.7 78.0 23 84.1 22.5 88.2 21.3 92.3 19.2 96.4 16.4 99.8 14.4 101.6 12.3 102.9 8.2 104.8 4.1 105.7 0 105.8-4.1 105.5-8.2 104.1-12.3 101.6-16.4 97.6-20.2 92.3-22.3 88.2-23.4 84.1-23.6 82.1-23.4 80.0-22.9 78.0-20.7 73.9-17.9 69.8-14.4 65.2-10.3 60.7-6.2 57.3Z"/>
<path fill="#e4bc50" fill-rule="evenodd" d="M-123.1-123.1 123.1-123.1 123.1-70.8 110.8-73.7 104.7-75.6 100.5-77.3 96.4-79.2 87.8-84.1 83.6-86.2 78-88.2 73.9-89.0 69.8-89.1 57.5-88.1 45.1-88.1 30.8-88.8 4.1-90.9-8.2-91.3-18.5-91.2-47.2-90.1-59.5-89.0-86.2-86.0-94.4-84.8-102.6-83.1-112.9-80.4-123.1-77.0ZM-0.9 57.5 2.1 57.2 4.1 57.6 6.2 58.3 8.2 59.3 10.3 60.7 13.5 63.6 16.5 67.7 18.5 71.8 19.6 75.9 20 80.0 19.8 84.1 18.9 88.2 16.9 92.3 15.4 94.4 12.3 97.2 10.3 98.5 6.2 100.0 2.1 100.6-2.1 100.4-6.2 99.5-10.3 97.6-12.3 96.1-15.9 92.3-18.5 88.5-19.5 86.2-20.1 84.1-20.4 82.1-20.3 80.0-19.8 78.0-19 75.9-16.7 71.8-13.7 67.7-10.3 63.6-8.1 61.6-4.1 58.7Z"/>
<path fill="#e8bc52" fill-rule="evenodd" d="M-123.1-123.1 123.1-123.1 123.1-75.4 112.9-77.8 102.6-81.0 84.1-89.1 80-90.4 75.9-91.2 71.8-91.5 61.6-90.2 55.4-89.7 36.9-89.6 26.7-90.1 4.1-92.1-8.2-92.6-51.3-91.6-65.7-90.6-84.1-89.0-94.4-87.7-103.1-86.2-112.9-83.8-123.1-80.7ZM-4.1 61.6-2.1 60.6 0 60.1 2.1 60.0 4.1 60.4 6.2 61.1 8.2 62.3 10.3 63.9 12 65.7 13.5 67.7 14.8 69.8 16.4 73.9 17 78.0 16.9 82.1 16.4 84.5 14.9 88.2 12.3 91.7 10.3 93.4 8.2 94.6 4.1 95.9 2.1 96.1-2.1 96.0-6.2 94.9-8.2 93.9-10.3 92.6-12.8 90.3-14.4 88.2-15.6 86.2-16.4 84.1-16.8 82.1-16.9 80.0-16.6 78.0-14.9 73.9-12.4 69.8-10.3 67.0-6.9 63.6Z"/>
<path fill="#ebbc54" fill-rule="evenodd" d="M-123.1-123.1 123.1-123.1 123.1-79.8 117-81.2 110.8-82.7 104.7-84.6 89.6-90.3 84.1-92.0 78-93.3 73.9-93.7 69.8-93.4 57.5-91.6 36.9-90.8 26.7-91.1 6.2-93.3-6.2-93.9-14.4-93.9-28.7-93.3-47.2-93.5-61.6-93.1-82.1-91.9-96.4-90.3-108.8-88.1-123.1-84.3ZM-1.4 63.6 0 63.2 2.1 63.1 4.1 63.5 6.2 64.4 8.2 65.8 10.1 67.7 11.6 69.8 12.7 71.8 13.8 75.9 13.9 80.0 13.5 82.1 12.8 84.1 11.6 86.2 10.3 87.9 8.2 89.6 6.2 90.8 4.1 91.5 2.1 91.8-2.1 91.7-4.1 91.1-6.2 90.3-8.2 89.0-10.3 87.0-12.2 84.1-12.9 82.1-13.1 80.0-13 78.0-12.5 75.9-10.5 71.8-9.1 69.8-7.4 67.7-5.1 65.7-4.1 64.9Z"/>
<path fill="#eebd56" fill-rule="evenodd" d="M-123.1-123.1 123.1-123.1 123.1-84.1 114.9-85.9 106.7-88.0 93.1-92.3 86.2-94.3 80-95.4 75.9-95.7 69.8-95.3 61.6-93.8 55.4-93.1 41-92.2 32.8-91.9 24.6-92.3 8.2-94.4-4.1-95.2-12.3-95.2-28.7-94.5-51.3-95.3-73.9-94.9-88.2-94.0-100.5-92.6-110.8-90.8-123.1-87.8ZM-2.2 67.7 0 67.0 2.1 66.8 4.1 67.3 4.9 67.7 6.2 68.4 8.2 70.5 9.1 71.8 10 73.9 10.4 75.9 10.5 78.0 10.1 80.0 9.3 82.1 8.2 83.8 6.2 85.7 5.2 86.2 4.1 86.7 2.1 87.2 0 87.3-2.1 86.9-4.1 86.1-6.2 84.7-8.1 82.1-8.7 80.0-8.9 78.0-8.6 75.9-7.8 73.9-6.6 71.8-4.9 69.8Z"/>
<path fill="#f1be57" fill-rule="evenodd" d="M-123.1-123.1 123.1-123.1 123.1-88.2 114.9-89.9 88.9-96.4 84.1-97.3 78-97.9 71.8-97.6 61.6-95.6 55.4-94.7 36.9-93.2 30.8-93.0 24.6-93.4 8.2-95.7-2.1-96.5-12.3-96.5-28.7-95.7-53.4-97.3-65.7-97.4-78-97.2-90.3-96.6-100.5-95.5-110.8-93.9-123.1-91.3ZM1.5 71.8 2.1 71.8 4.1 72.6 5.2 73.9 6 75.9 5.7 78.0 4.4 80.0 2.1 81.3 0 81.2-2.1 80.1-3.1 78.0-3.1 75.9-2.2 73.9 0 72.1Z"/>
<path fill="#f3c057" fill-rule="evenodd" d="M-123.1-123.1 123.1-123.1 123.1-92.2 117-93.3 92.3-98.6 86.2-99.6 80-100.0 75.9-100.0 71.8-99.5 61.6-97.3 57.5-96.7 32.8-94.2 28.7-94.1 24.6-94.5 10.3-96.7 0-97.7-10.3-97.9-28.7-97.0-51.3-99.1-71.8-99.7-86.2-99.4-98.5-98.6-110.8-97.0-123.1-94.6Z"/>
<path fill="#f4c257" fill-rule="evenodd" d="M-123.1-123.1 123.1-123.1 123.1-96.0 114.9-97.4 94.4-101.1 88.2-101.9 82.1-102.3 78-102.2 73.9-101.8 69.8-101.1 59.5-98.7 36.9-95.7 30.8-95.2 24.6-95.6 10.3-98.1 0-99.1-12.3-99.3-28.7-98.3-51.3-101.0-61.6-101.7-73.9-102.1-88.2-102.0-100.5-101.2-110.8-100.0-123.1-97.9Z"/>
<path fill="#f5c456" fill-rule="evenodd" d="M-123.1-123.1 123.1-123.1 123.1-99.7 114.9-101.0 100.5-103.1 92.3-104.1 86.2-104.6 80-104.5 71.8-103.6 59-100.5 47.2-98.9 34.9-96.7 28.7-96.3 24.6-96.7 10.3-99.4 2.1-100.4-10.3-100.8-28.7-99.7-32.8-100.1-43.1-102.0-51.3-103.0-61.6-103.9-73.9-104.5-86.2-104.6-98.5-104.2-110.8-103.0-123.1-101.1Z"/>
<path fill="#f5c656" fill-rule="evenodd" d="M-123.1-123.1 123.1-123.1 123.1-103.3 112.9-104.7 94.2-106.7 86.2-107.0 80-106.8 71.8-105.7 59.5-102.6 47.2-100.6 34.9-98.0 28.7-97.5 24.6-97.9 12.3-100.5 4.1-101.6-4.1-102.2-10.3-102.2-28.7-101.1-32.8-101.7-43.1-103.8-51.3-105.0-61.6-106.0-73.9-106.8-86.2-107.2-98.5-106.9-110.8-106.0-123.1-104.3Z"/>
<path fill="#f5c955" fill-rule="evenodd" d="M-123.1-123.1 123.1-123.1 123.1-106.9 112.9-107.9 94.4-109.4 86.2-109.5 80-109.1 71.8-107.8 59.5-104.8 47.2-102.5 34.9-99.5 30.8-98.8 28.7-98.7 24.6-99.2 12.3-102.0 4.1-103.1-4.1-103.7-10.3-103.7-16.4-103.5-26.7-102.7-28.7-102.7-41-105.4-49.2-106.8-61.6-108.3-73.9-109.2-86.2-109.7-98.5-109.6-110.8-108.9-123.1-107.4Z"/>
<path fill="#f6cb55" fill-rule="evenodd" d="M-123.1-123.1 123.1-123.1 123.1-110.3 110.8-111.3 100.5-111.9 92.3-112.1 84.1-111.8 78-111.1 71.8-110.0 58.5-106.7 47.2-104.4 33.2-100.5 28.7-100.0 24.6-100.5 12.3-103.6 6.2-104.5-2.1-105.1-10.3-105.3-24.6-104.5-28.7-104.5-32.8-105.3-41-107.4-51.3-109.2-63.6-110.7-75.9-111.8-88.2-112.3-100.5-112.3-112.9-111.6-123.1-110.6Z"/>
<path fill="#f5ce55" fill-rule="evenodd" d="M-123.1-123.1 123.1-123.1 123.1-113.7 108.8-114.5 100.5-114.8 92.3-114.8 84.1-114.3 78-113.5 71.8-112.3 57.7-108.8 47.2-106.5 34.8-102.6 30.8-101.7 28.7-101.4 24.6-102.1 14.4-104.8 10.3-105.6 4.1-106.3-10.3-106.9-24.6-106.3-28.7-106.5-41-109.4-51.3-111.3-63.6-113.0-75.9-114.2-88.2-114.9-100.5-115.1-112.9-114.6-123.1-113.6Z"/>
<path fill="#f5d054" fill-rule="evenodd" d="M-123.1-123.1 123.1-123.1 123.1-117.0 108.8-117.6 100.5-117.6 92.3-117.4 84.1-116.7 78-115.9 69.8-114.2 57.5-111.0 47.2-108.7 43.1-107.5 34.9-104.6 30.8-103.5 28.7-103.2 26.7-103.4 16.4-106.2 12.3-107.0 6.2-107.8-8.2-108.6-24.6-108.3-28.7-108.6-41-111.6-51.3-113.5-63.6-115.3-75.9-116.7-88.2-117.5-100.5-117.8-112.9-117.5-123.1-116.7Z"/>
<path fill="#f5d354" fill-rule="evenodd" d="M-123.1-123.1 123.1-123.1 123.1-120.3 110.8-120.6 100.5-120.5 92.3-120.1 84.1-119.2 78-118.3 69.8-116.5 47.2-110.9 43.1-109.7 32.8-106.2 28.7-105.5 26.7-105.7 16.4-108.2 8.2-109.3-8.2-110.4-24.6-110.5-28.7-110.8-41-113.7-53.4-116.1-65.7-118.0-78-119.4-90.3-120.3-100.5-120.6-112.9-120.4-123.1-119.8Z"/>
<path fill="#f4d654" fill-rule="evenodd" d="M-123.1-123.1-118.3-123.1-123.1-122.8ZM-94.1-123.1 97.2-123.1 84.1-121.8 75.9-120.4 69.8-119.0 45.1-112.7 32.8-108.8 28.7-108.3 26.7-108.5 18.5-110.1 10.3-111.1-10.3-112.3-26.7-112.8-30.8-113.5-47.2-117.2-63.6-120.0-80-122.1Z"/>
<path fill="none" stroke="#0b0b14" stroke-width="1.05" stroke-linejoin="round" d="M16.4-65.7 0-64.7-16.4-64.6-20.5-64.2-22.6-63.9-24.6-63.3-28.7-61.5-32-59.5-36.9-56.2-43.1-52.7-59.5-44.2-65.7-40.8-69.8-37.9-73.4-34.9-75.4-32.8-78.9-28.7-80.4-26.7-82.9-22.6-84.9-18.5-86.3-14.4-87.3-10.3-89.2 0.0-90.3 3.5-93.3 12.3-94.9 18.5-95.9 24.6-96.1 28.7-96 32.8-95.8 34.9-95 39.0-93.2 45.1-90.7 51.3-88.6 55.4-87.3 57.5-85.8 59.5-84 61.6-82.1 63.5-80 65.1-78 66.4-75.9 67.5-73.9 68.2-71.8 68.7-69.8 69.0-67.7 69.1-63.6 68.7-61.6 68.3-57.5 67.2-51.3 64.9-45.1 61.9-41.1 59.5-39 58.0-36.9 56.1-34.9 53.4-28.2 41.0-24.6 35.1-22.6 32.1-16.4 23.9-10.6 16.4-7.7 12.3-5.5 8.2-4.1 4.7-2.7 2.1-2.1 1.3 0-0.0 2.1 1.3 2.6 2.1 3.4 4.1 5 10.3 5.8 12.3 6.8 14.4 8.1 16.4 9.6 18.5 13 22.6 15 24.6 17.3 26.7 20.3 28.7 22.6 29.5 27 30.8 41 33.9 49.2 35.9 52.6 36.9 55.4 38.3 56.3 39.0 57.5 40.3 57.9 41.0 58.9 43.1 62 51.3 63.6 55.0 65.7 58.5 67.7 60.9 69.8 62.5 71.8 63.4 73.9 63.6 75.9 62.5 77 61.6 78 60.5 78.7 59.5 80 57.0 81.2 53.4 81.6 51.3 82.1 47.3 82.1 45.1 82 43.1 81.7 41.0 81 39.0 80 37.1 78 35.2 77.5 34.9 75.9 34.0 73.9 33.2 71.8 32.8 65.7 32.1 64.1 30.8 63.9 28.7 64.1 24.6 63.9 20.5 63.4 16.4 62.2 10.3 57.9-8.2 54.8-22.6 53.4-28.7 51.3-34.9 49.2-39.5 47.4-43.1 46.1-45.1 43.3-49.2 41.6-51.3 35.7-57.5 33.5-59.5 31-61.6 27.7-63.6 24.6-64.9 22.6-65.4 20.5-65.7 16.4-65.7M123.1-9.1 121.1-10.6 119-11.7 117-12.5 114.9-12.8 112.9-12.7 104.7-11.3 100.5-11.0 98.5-11.1 96.4-11.3 94.4-11.8 92.3-12.5 90.3-13.5 88.2-14.7 86.2-16.2 84.1-18.0 82.1-20.1 80-22.7 78-25.8 75.9-29.9 74.7-32.8 73.3-36.9 70.1-47.2 68.4-51.3 67.5-53.4 66.3-55.4 64.9-57.5 63.2-59.5 61-61.6 57.5-64.2 55.2-65.7 51.4-67.7 47.2-69.8 37.9-73.9 32.6-75.9 28.7-77.1 26.7-77.5 24.6-77.7 20.5-77.6 8.2-76.8 0-76.6-6.2-76.7-20.5-77.6-24.6-77.7-26.7-77.6-28.7-77.1-32.8-75.9-37.8-73.9-46.8-69.8-69.8-58.2-82.1-52.6-96.4-45.4-106.2-41.0-108.8-39.7-110.8-38.4-112.5-36.9-114.6-34.9-116.3-32.8-117.9-30.8-120.5-26.7-121.5-24.6-123.1-21.1M-123.1 39.7-122 43.1-119.8 49.2-115.8 59.5-114.1 63.6-112.1 67.7-109.7 71.8-106.9 75.9-105.3 78.0-102.6 80.9-98.5 84.6-94.4 87.7-84.1 94.6-80 97.0-78 98.0-75.9 98.8-73.9 99.4-71.8 99.6-69.8 99.6-67.7 99.2-65.7 98.4-63.6 97.0-61.6 94.6-56.9 88.2-55.3 86.2-53.4 84.1-36.9 68.6-32.8 64.6-30.8 62.4-26.8 57.5-20.5 48.8-18.5 46.3-16.4 44.1-14.4 42.2-12.9 41.0-10.3 39.2-8.2 38.1-6.2 37.3-4.1 36.7-2.1 36.3 0 36.2 2.1 36.3 4.1 36.5 6.2 37.0 10.3 38.3 14.4 40.1 20.5 43.2 24.6 45.5 27.1 47.2 29.9 49.2 32.8 51.8 36.3 55.4 38 57.5 41.2 61.6 44 65.7 51.3 77.2 55.9 84.1 61.6 93.4 63.6 96.3 65.7 98.1 67.7 99.1 69.8 99.6 71.8 99.7 73.9 99.4 75.9 98.7 78 97.7 80 96.3 84.9 92.3 87.7 90.3 91 88.2 96.4 85.1 98.5 83.8 102.6 80.6 105.2 78.0 107 75.9 108.5 73.9 109.8 71.8 112.1 67.7 113.9 63.6 117 55.4 117.9 53.4 119.8 49.2 123.1 43.2M123.1-47.0 117-47.9 102.6-49.7 100.5-50.1 98.5-50.8 96.4-51.8 94.4-53.3 92.3-55.3 90.3-57.6 83.8-65.7 80-69.8 77.7-71.8 74.9-73.9 71.8-75.5 69.8-76.4 67.7-77.0 63.6-78.0 47.2-80.7 34.9-83.0 28.7-83.9 22.6-84.4 2.1-84.7-16.4-85.3-22.6-85.3-28.7-85.0-32.8-84.5-36.9-83.8-45.1-82.1-53.3-80.0-71.8-74.7-75.9-73.6-90.3-70.6-93.5-69.8-98.5-67.9-106.7-64.4-117-60.3-123.1-57.5M-29 123.1-30.2 119.0-31.1 114.9-31.4 112.9-31.5 110.8-31.5 106.7-31.7 102.6-32 100.5-33.6 94.4-34.2 90.3-34.3 88.2-34.2 86.2-33.9 84.1-33.5 82.1-32.8 80.0-31.9 78.0-30.8 75.9-29.5 73.9-28 71.8-16.4 57.6-14.4 55.4-12.3 53.3-9.9 51.3-8.2 50.1-6.2 49.0-4.1 48.1-2.1 47.5 0 47.3 2.1 47.2 4.1 47.5 6.2 47.9 8.2 48.6 10.3 49.4 14.4 51.6 16.9 53.4 19.4 55.4 21.6 57.5 23.5 59.5 26.6 63.6 29 67.7 30 69.8 31.8 73.9 33.8 80.0 34.7 84.1 35.4 88.2 35.9 92.3 36.1 96.4 36.2 106.7 35.9 110.8 34.9 114.7 32.8 119.5 30.8 123.1M123.1-74.8 112.9-77.2 108.8-78.3 104.7-79.7 98.5-82.2 90.1-86.2 86.2-87.9 82.1-89.4 79.1-90.3 75.9-90.9 73.9-91.2 71.8-91.2 69.8-91.1 61.6-90.0 57.5-89.6 51.3-89.4 45.1-89.4 36.9-89.5 30.8-89.7 24.6-90.1 6.2-91.8 0-92.2-6.2-92.4-14.4-92.4-28.7-91.9-43.1-91.7-51.3-91.4-61.6-90.7-75.9-89.4-86.2-88.4-94.4-87.4-101.1-86.2-108.8-84.4-117-82.2-123.1-80.3M-4.7 61.6-2.1 60.2 0 59.7 2.1 59.6 4.1 60.0 6.2 60.7 7.7 61.6 10.5 63.6 12.4 65.7 14 67.7 15.1 69.8 16.1 71.8 16.7 73.9 17.2 75.9 17.4 78.0 17.5 80.0 17.3 82.1 17 84.1 16.4 86.0 15.4 88.2 14.2 90.3 12.3 92.4 9.7 94.4 8.2 95.2 6.2 96.0 4.1 96.5 2.1 96.7 0 96.7-2.1 96.6-4.1 96.2-6.2 95.5-8.2 94.6-10.3 93.2-12.3 91.5-13.4 90.3-15 88.2-16.2 86.2-16.9 84.1-17.3 82.1-17.3 80.0-17 78.0-16.3 75.9-15.3 73.9-14.2 71.8-12.8 69.8-10.3 66.5-7.4 63.6-4.7 61.6M123.1-97.0 94.4-101.8 88.2-102.5 82.1-102.9 78-102.8 73.9-102.4 69.8-101.7 59.5-99.2 47.2-97.6 36.9-96.0 30.8-95.5 28.7-95.5 24.6-95.9 10.3-98.4 6.2-98.9 0-99.5-6.2-99.7-12.3-99.6-24.6-98.7-28.7-98.6-32.8-99.0-43.1-100.6-51.3-101.5-61.6-102.2-73.9-102.7-86.2-102.7-92.3-102.5-98.5-102.1-104.7-101.5-110.8-100.8-117-99.8-123.1-98.7M123.1-115.8 108.8-116.5 98.5-116.6 92.3-116.4 88.2-116.2 80-115.3 71.8-113.8 57.5-110.2 47.2-107.9 43.1-106.7 37.3-104.7 32.8-103.2 30.8-102.7 28.7-102.5 26.7-102.7 18.5-105.0 14.4-106.0 10.3-106.6 6.2-107.1 0-107.6-8.2-108.0-14.4-108.0-24.6-107.6-28.7-107.9-32.8-108.7-36.9-109.8-41-110.8-49.2-112.4-61.6-114.2-75.9-115.8-88.2-116.6-100.5-116.8-106.7-116.7-112.9-116.4-123.1-115.6"/>
<path d="M-28.3 -101.7h.01M28.3 -101.7h.01M-26.3 -77.6h.01M26.3 -77.6h.01M-73.6 -63.6h.01M-36.9 -56.2h.01M0.0 -54.0h.01M36.9 -56.2h.01M73.6 -63.6h.01M-86.8 -35.8h.01M-64.3 -31.6h.01M-19.8 -28.5h.01M19.8 -28.5h.01M64.3 -31.6h.01M86.8 -35.8h.01M-91.2 0.0h.01M-45.6 0.0h.01M0.0 0.0h.01M45.6 0.0h.01M91.2 0.0h.01M-86.8 35.8h.01M-64.3 31.6h.01M-19.8 28.5h.01M19.8 28.5h.01M64.3 31.6h.01M86.8 35.8h.01M-73.6 63.6h.01M-36.9 56.2h.01M0.0 54.0h.01M36.9 56.2h.01M73.6 63.6h.01M-53.1 85.3h.01M-26.3 77.6h.01M26.3 77.6h.01M53.1 85.3h.01M-27.8 99.8h.01M0.0 104.9h.01M27.8 99.8h.01" stroke="#101018" stroke-width="2.6" stroke-linecap="round" fill="none"/>
</g>
<circle r="114.0" fill="none" stroke="#000" stroke-width="1.75"/>
<path d="M-20.7 -112.3L0 -132.0L20.7 -112.3" fill="none" stroke="#000" stroke-width="1.5" stroke-linejoin="miter"/>
<path d="M-114.0 -16.3C-115.1 -19.0 -122.2 -20.3 -123.1 -13.7C-123.1 -6.8 -123.7 0.0 -124.3 6.8C-124.8 13.7 -125.9 19.4 -125.4 22.8C-124.8 28.5 -120.8 32.4 -116.8 31.4C-114.0 30.6 -112.3 28.5 -111.4 26.9" fill="none" stroke="#000" stroke-width="1.5"/>
<path d="M114.0 -16.3C115.1 -19.0 122.2 -20.3 123.1 -13.7C123.1 -6.8 123.7 0.0 124.3 6.8C124.8 13.7 125.9 19.4 125.4 22.8C124.8 28.5 120.8 32.4 116.8 31.4C114.0 30.6 112.3 28.5 111.4 26.9" fill="none" stroke="#000" stroke-width="1.5"/>
</g>
<linearGradient id="cb8" x1="0" y1="0" x2="0" y2="1"><stop offset="0.0000" stop-color="#f9fb56"/><stop offset="0.0312" stop-color="#f4ef55"/><stop offset="0.0625" stop-color="#f2e455"/><stop offset="0.0938" stop-color="#f4d854"/><stop offset="0.1250" stop-color="#f5cc55"/><stop offset="0.1562" stop-color="#f4c157"/><stop offset="0.1875" stop-color="#e9bc52"/><stop offset="0.2188" stop-color="#d9be4b"/><stop offset="0.2500" stop-color="#c7c14a"/><stop offset="0.2812" stop-color="#b3c551"/><stop offset="0.3125" stop-color="#9fc95d"/><stop offset="0.3438" stop-color="#8bca6d"/><stop offset="0.3750" stop-color="#7aca7f"/><stop offset="0.4062" stop-color="#6dc88f"/><stop offset="0.4375" stop-color="#65c49e"/><stop offset="0.4688" stop-color="#5fc0ac"/><stop offset="0.5000" stop-color="#58bbb8"/><stop offset="0.5312" stop-color="#53b6c4"/><stop offset="0.5625" stop-color="#51b0cf"/><stop offset="0.5938" stop-color="#51a9d8"/><stop offset="0.6250" stop-color="#4fa1de"/><stop offset="0.6562" stop-color="#4c97e2"/><stop offset="0.6875" stop-color="#4b8ee9"/><stop offset="0.7188" stop-color="#4884f0"/><stop offset="0.7500" stop-color="#4778f4"/><stop offset="0.7812" stop-color="#4a6df6"/><stop offset="0.8125" stop-color="#4b61f3"/><stop offset="0.8438" stop-color="#4a57ee"/><stop offset="0.8750" stop-color="#484ce7"/><stop offset="0.9062" stop-color="#4641dc"/><stop offset="0.9375" stop-color="#4337cd"/><stop offset="0.9688" stop-color="#3f2fb8"/><stop offset="1.0000" stop-color="#3a27a2"/></linearGradient>
<rect x="1964.10" y="675.60" width="13.10" height="219.30" fill="url(#cb8)" stroke="#202020" stroke-width="1"/>
<text transform="translate(1982.70 737.49) scale(1.280 1)" class="cs">0</text>
<text transform="translate(1982.70 802.76) scale(1.280 1)" class="cs">-1</text>
<text transform="translate(1982.70 868.02) scale(1.280 1)" class="cs">-2</text>
<path d="M1977.20 733.69h-2.5M1977.20 798.96h-2.5M1977.20 864.22h-2.5" stroke="#202020" stroke-width="1" fill="none"/>
<text x="1829.30" y="933.70" text-anchor="middle" class="th">Theta power (5-7 Hz)</text>
<text x="1829.30" y="962.00" text-anchor="middle" class="th">200-1000 ms</text>
</svg></div></body></html>
